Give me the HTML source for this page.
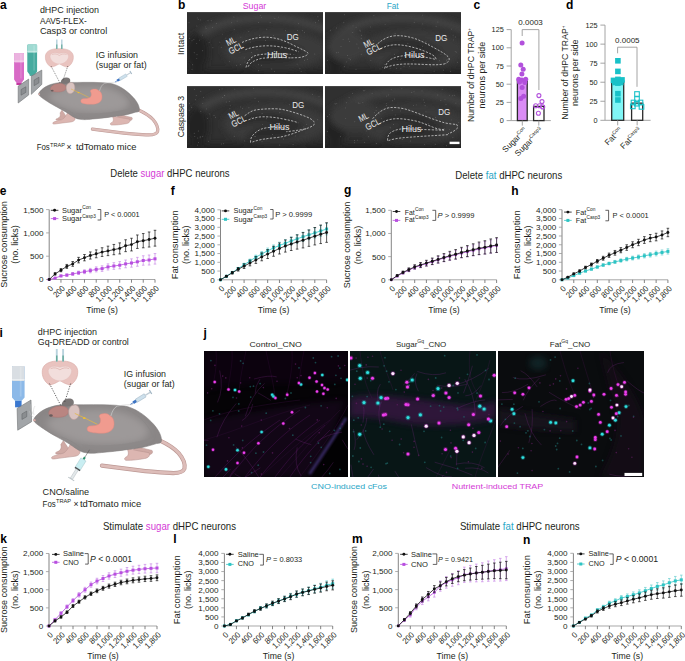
<!DOCTYPE html><html><head><meta charset="utf-8"><style>html,body{margin:0;padding:0;background:#fff;}svg text{font-family:"Liberation Sans", sans-serif;}</style></head><body><svg width="685" height="661" viewBox="0 0 685 661" style="display:block"><rect width="685" height="661" fill="#fff"/><text x="0.00" y="9.40" font-size="12" text-anchor="start" fill="#000" font-weight="bold">a</text>
<text x="178.00" y="8.70" font-size="12" text-anchor="start" fill="#000" font-weight="bold">b</text>
<text x="473.60" y="8.70" font-size="12" text-anchor="start" fill="#000" font-weight="bold">c</text>
<text x="566.00" y="9.00" font-size="12" text-anchor="start" fill="#000" font-weight="bold">d</text>
<text x="-0.20" y="194.60" font-size="12" text-anchor="start" fill="#000" font-weight="bold">e</text>
<text x="170.80" y="194.80" font-size="12" text-anchor="start" fill="#000" font-weight="bold">f</text>
<text x="344.00" y="194.40" font-size="12" text-anchor="start" fill="#000" font-weight="bold">g</text>
<text x="511.20" y="195.10" font-size="12" text-anchor="start" fill="#000" font-weight="bold">h</text>
<text x="-0.40" y="337.20" font-size="12" text-anchor="start" fill="#000" font-weight="bold">i</text>
<text x="203.60" y="337.20" font-size="12" text-anchor="start" fill="#000" font-weight="bold">j</text>
<text x="0.20" y="543.30" font-size="12" text-anchor="start" fill="#000" font-weight="bold">k</text>
<text x="173.30" y="543.30" font-size="12" text-anchor="start" fill="#000" font-weight="bold">l</text>
<text x="352.00" y="543.40" font-size="12" text-anchor="start" fill="#000" font-weight="bold">m</text>
<text x="523.00" y="543.60" font-size="12" text-anchor="start" fill="#000" font-weight="bold">n</text>
<text x="110.3" y="177.1" font-size="10.4" fill="#231f20" textLength="119.3" lengthAdjust="spacingAndGlyphs">Delete <tspan fill="#d43ad6">sugar</tspan> dHPC neurons</text>
<text x="455.3" y="179.4" font-size="10.4" fill="#231f20" textLength="106.9" lengthAdjust="spacingAndGlyphs">Delete <tspan fill="#2aa6c6">fat</tspan> dHPC neurons</text>
<text x="102.9" y="529.7" font-size="10.4" fill="#231f20" textLength="133.1" lengthAdjust="spacingAndGlyphs">Stimulate <tspan fill="#d43ad6">sugar</tspan> dHPC neurons</text>
<text x="459.9" y="529.7" font-size="10.4" fill="#231f20" textLength="119.8" lengthAdjust="spacingAndGlyphs">Stimulate <tspan fill="#2aa6c6">fat</tspan> dHPC neurons</text>
<path d="M49.20 279.50H155.00" fill="none" stroke="#a3a3a3" stroke-width="0.95"/>
<path d="M49.20 209.60V279.50" fill="none" stroke="#7d7d7d" stroke-width="0.95"/>
<path d="M46.10 279.50H49.20" stroke="#999" stroke-width="0.8"/>
<text x="43.40" y="282.40" font-size="8.1" text-anchor="end" fill="#231f20">0</text>
<path d="M46.10 256.20H49.20" stroke="#999" stroke-width="0.8"/>
<text x="43.40" y="259.10" font-size="8.1" text-anchor="end" fill="#231f20">500</text>
<path d="M46.10 232.90H49.20" stroke="#999" stroke-width="0.8"/>
<text x="43.40" y="235.80" font-size="8.1" text-anchor="end" fill="#231f20">1,000</text>
<path d="M46.10 209.60H49.20" stroke="#999" stroke-width="0.8"/>
<text x="43.40" y="212.50" font-size="8.1" text-anchor="end" fill="#231f20">1,500</text>
<text x="53.80" y="289.00" font-size="8.3" text-anchor="end" fill="#231f20" textLength="4.28" lengthAdjust="spacingAndGlyphs" transform="rotate(-45 53.80 289.00)">0</text>
<path d="M60.96 279.50V282.70" stroke="#666" stroke-width="0.8"/>
<text x="65.56" y="289.00" font-size="8.3" text-anchor="end" fill="#231f20" textLength="12.84" lengthAdjust="spacingAndGlyphs" transform="rotate(-45 65.56 289.00)">200</text>
<path d="M72.71 279.50V282.70" stroke="#666" stroke-width="0.8"/>
<text x="77.31" y="289.00" font-size="8.3" text-anchor="end" fill="#231f20" textLength="12.84" lengthAdjust="spacingAndGlyphs" transform="rotate(-45 77.31 289.00)">400</text>
<path d="M84.47 279.50V282.70" stroke="#666" stroke-width="0.8"/>
<text x="89.07" y="289.00" font-size="8.3" text-anchor="end" fill="#231f20" textLength="12.84" lengthAdjust="spacingAndGlyphs" transform="rotate(-45 89.07 289.00)">600</text>
<path d="M96.22 279.50V282.70" stroke="#666" stroke-width="0.8"/>
<text x="100.82" y="289.00" font-size="8.3" text-anchor="end" fill="#231f20" textLength="12.84" lengthAdjust="spacingAndGlyphs" transform="rotate(-45 100.82 289.00)">800</text>
<path d="M107.98 279.50V282.70" stroke="#666" stroke-width="0.8"/>
<text x="112.58" y="289.00" font-size="8.3" text-anchor="end" fill="#231f20" textLength="19.27" lengthAdjust="spacingAndGlyphs" transform="rotate(-45 112.58 289.00)">1,000</text>
<path d="M119.73 279.50V282.70" stroke="#666" stroke-width="0.8"/>
<text x="124.33" y="289.00" font-size="8.3" text-anchor="end" fill="#231f20" textLength="19.27" lengthAdjust="spacingAndGlyphs" transform="rotate(-45 124.33 289.00)">1,200</text>
<path d="M131.49 279.50V282.70" stroke="#666" stroke-width="0.8"/>
<text x="136.09" y="289.00" font-size="8.3" text-anchor="end" fill="#231f20" textLength="19.27" lengthAdjust="spacingAndGlyphs" transform="rotate(-45 136.09 289.00)">1,400</text>
<path d="M143.24 279.50V282.70" stroke="#666" stroke-width="0.8"/>
<text x="147.84" y="289.00" font-size="8.3" text-anchor="end" fill="#231f20" textLength="19.27" lengthAdjust="spacingAndGlyphs" transform="rotate(-45 147.84 289.00)">1,600</text>
<path d="M155.00 279.50V282.70" stroke="#666" stroke-width="0.8"/>
<text x="159.60" y="289.00" font-size="8.3" text-anchor="end" fill="#231f20" textLength="19.27" lengthAdjust="spacingAndGlyphs" transform="rotate(-45 159.60 289.00)">1,800</text>
<text x="102.10" y="312.70" font-size="8.6" text-anchor="middle" fill="#231f20" textLength="31.50" lengthAdjust="spacingAndGlyphs">Time (s)</text>
<text x="7.40" y="244.55" font-size="8.7" text-anchor="middle" fill="#231f20" textLength="86.60" lengthAdjust="spacingAndGlyphs" transform="rotate(-90 7.40 244.55)">Sucrose consumption</text>
<text x="17.60" y="244.55" font-size="8.7" text-anchor="middle" fill="#231f20" textLength="38.50" lengthAdjust="spacingAndGlyphs" transform="rotate(-90 17.60 244.55)">(no. licks)</text>
<path d="M55.08 277.54V278.66M53.78 277.54h2.6M53.78 278.66h2.6" stroke="#c98ae6" stroke-width="0.7" fill="none"/>
<path d="M60.96 275.08V276.75M59.66 275.08h2.6M59.66 276.75h2.6" stroke="#c98ae6" stroke-width="0.7" fill="none"/>
<path d="M66.83 274.01V276.23M65.53 274.01h2.6M65.53 276.23h2.6" stroke="#c98ae6" stroke-width="0.7" fill="none"/>
<path d="M72.71 272.52V275.30M71.41 272.52h2.6M71.41 275.30h2.6" stroke="#c98ae6" stroke-width="0.7" fill="none"/>
<path d="M78.59 271.12V274.46M77.29 271.12h2.6M77.29 274.46h2.6" stroke="#c98ae6" stroke-width="0.7" fill="none"/>
<path d="M84.47 269.77V273.66M83.17 269.77h2.6M83.17 273.66h2.6" stroke="#c98ae6" stroke-width="0.7" fill="none"/>
<path d="M90.34 268.38V272.82M89.04 268.38h2.6M89.04 272.82h2.6" stroke="#c98ae6" stroke-width="0.7" fill="none"/>
<path d="M96.22 266.89V271.89M94.92 266.89h2.6M94.92 271.89h2.6" stroke="#c98ae6" stroke-width="0.7" fill="none"/>
<path d="M102.10 265.82V271.37M100.80 265.82h2.6M100.80 271.37h2.6" stroke="#c98ae6" stroke-width="0.7" fill="none"/>
<path d="M107.98 263.87V269.97M106.68 263.87h2.6M106.68 269.97h2.6" stroke="#c98ae6" stroke-width="0.7" fill="none"/>
<path d="M113.86 262.66V269.31M112.56 262.66h2.6M112.56 269.31h2.6" stroke="#c98ae6" stroke-width="0.7" fill="none"/>
<path d="M119.73 261.59V268.80M118.43 261.59h2.6M118.43 268.80h2.6" stroke="#c98ae6" stroke-width="0.7" fill="none"/>
<path d="M125.61 260.01V267.77M124.31 260.01h2.6M124.31 267.77h2.6" stroke="#c98ae6" stroke-width="0.7" fill="none"/>
<path d="M131.49 258.85V267.16M130.19 258.85h2.6M130.19 267.16h2.6" stroke="#c98ae6" stroke-width="0.7" fill="none"/>
<path d="M137.37 257.36V266.23M136.07 257.36h2.6M136.07 266.23h2.6" stroke="#c98ae6" stroke-width="0.7" fill="none"/>
<path d="M143.24 255.78V265.20M141.94 255.78h2.6M141.94 265.20h2.6" stroke="#c98ae6" stroke-width="0.7" fill="none"/>
<path d="M149.12 255.03V265.01M147.82 255.03h2.6M147.82 265.01h2.6" stroke="#c98ae6" stroke-width="0.7" fill="none"/>
<path d="M155.00 253.54V264.08M153.70 253.54h2.6M153.70 264.08h2.6" stroke="#c98ae6" stroke-width="0.7" fill="none"/>
<path d="M49.20 279.50 L55.08 278.10 L60.96 275.91 L66.83 275.12 L72.71 273.91 L78.59 272.79 L84.47 271.72 L90.34 270.60 L96.22 269.39 L102.10 268.60 L107.98 266.92 L113.86 265.99 L119.73 265.19 L125.61 263.89 L131.49 263.00 L137.37 261.79 L143.24 260.49 L149.12 260.02 L155.00 258.81" fill="none" stroke="#b84fe0" stroke-width="0.8"/>
<rect x="47.70" y="278.00" width="3.00" height="3.00" fill="#b84fe0"/>
<rect x="53.58" y="276.60" width="3.00" height="3.00" fill="#b84fe0"/>
<rect x="59.46" y="274.41" width="3.00" height="3.00" fill="#b84fe0"/>
<rect x="65.33" y="273.62" width="3.00" height="3.00" fill="#b84fe0"/>
<rect x="71.21" y="272.41" width="3.00" height="3.00" fill="#b84fe0"/>
<rect x="77.09" y="271.29" width="3.00" height="3.00" fill="#b84fe0"/>
<rect x="82.97" y="270.22" width="3.00" height="3.00" fill="#b84fe0"/>
<rect x="88.84" y="269.10" width="3.00" height="3.00" fill="#b84fe0"/>
<rect x="94.72" y="267.89" width="3.00" height="3.00" fill="#b84fe0"/>
<rect x="100.60" y="267.10" width="3.00" height="3.00" fill="#b84fe0"/>
<rect x="106.48" y="265.42" width="3.00" height="3.00" fill="#b84fe0"/>
<rect x="112.36" y="264.49" width="3.00" height="3.00" fill="#b84fe0"/>
<rect x="118.23" y="263.69" width="3.00" height="3.00" fill="#b84fe0"/>
<rect x="124.11" y="262.39" width="3.00" height="3.00" fill="#b84fe0"/>
<rect x="129.99" y="261.50" width="3.00" height="3.00" fill="#b84fe0"/>
<rect x="135.87" y="260.29" width="3.00" height="3.00" fill="#b84fe0"/>
<rect x="141.74" y="258.99" width="3.00" height="3.00" fill="#b84fe0"/>
<rect x="147.62" y="258.52" width="3.00" height="3.00" fill="#b84fe0"/>
<rect x="153.50" y="257.31" width="3.00" height="3.00" fill="#b84fe0"/>
<path d="M55.08 272.74V275.07M53.78 272.74h2.6M53.78 275.07h2.6" stroke="#111" stroke-width="0.7" fill="none"/>
<path d="M60.96 268.62V271.74M59.66 268.62h2.6M59.66 271.74h2.6" stroke="#111" stroke-width="0.7" fill="none"/>
<path d="M66.83 264.45V268.37M65.53 264.45h2.6M65.53 268.37h2.6" stroke="#111" stroke-width="0.7" fill="none"/>
<path d="M72.71 261.53V266.25M71.41 261.53h2.6M71.41 266.25h2.6" stroke="#111" stroke-width="0.7" fill="none"/>
<path d="M78.59 257.36V262.87M77.29 257.36h2.6M77.29 262.87h2.6" stroke="#111" stroke-width="0.7" fill="none"/>
<path d="M84.47 254.54V260.84M83.17 254.54h2.6M83.17 260.84h2.6" stroke="#111" stroke-width="0.7" fill="none"/>
<path d="M90.34 251.95V259.05M89.04 251.95h2.6M89.04 259.05h2.6" stroke="#111" stroke-width="0.7" fill="none"/>
<path d="M96.22 249.88V257.77M94.92 249.88h2.6M94.92 257.77h2.6" stroke="#111" stroke-width="0.7" fill="none"/>
<path d="M102.10 247.75V256.44M100.80 247.75h2.6M100.80 256.44h2.6" stroke="#111" stroke-width="0.7" fill="none"/>
<path d="M107.98 246.15V255.63M106.68 246.15h2.6M106.68 255.63h2.6" stroke="#111" stroke-width="0.7" fill="none"/>
<path d="M113.86 244.44V254.72M112.56 244.44h2.6M112.56 254.72h2.6" stroke="#111" stroke-width="0.7" fill="none"/>
<path d="M119.73 242.88V253.95M118.43 242.88h2.6M118.43 253.95h2.6" stroke="#111" stroke-width="0.7" fill="none"/>
<path d="M125.61 239.78V251.65M124.31 239.78h2.6M124.31 251.65h2.6" stroke="#111" stroke-width="0.7" fill="none"/>
<path d="M131.49 238.26V250.93M130.19 238.26h2.6M130.19 250.93h2.6" stroke="#111" stroke-width="0.7" fill="none"/>
<path d="M137.37 234.98V248.44M136.07 234.98h2.6M136.07 248.44h2.6" stroke="#111" stroke-width="0.7" fill="none"/>
<path d="M143.24 233.56V247.81M141.94 233.56h2.6M141.94 247.81h2.6" stroke="#111" stroke-width="0.7" fill="none"/>
<path d="M149.12 231.99V247.04M147.82 231.99h2.6M147.82 247.04h2.6" stroke="#111" stroke-width="0.7" fill="none"/>
<path d="M155.00 230.29V246.13M153.70 230.29h2.6M153.70 246.13h2.6" stroke="#111" stroke-width="0.7" fill="none"/>
<path d="M49.20 279.50 L55.08 273.91 L60.96 270.18 L66.83 266.41 L72.71 263.89 L78.59 260.11 L84.47 257.69 L90.34 255.50 L96.22 253.82 L102.10 252.10 L107.98 250.89 L113.86 249.58 L119.73 248.42 L125.61 245.72 L131.49 244.60 L137.37 241.71 L143.24 240.68 L149.12 239.52 L155.00 238.21" fill="none" stroke="#111" stroke-width="0.8"/>
<circle cx="49.20" cy="279.50" r="1.45" fill="#111"/>
<circle cx="55.08" cy="273.91" r="1.45" fill="#111"/>
<circle cx="60.96" cy="270.18" r="1.45" fill="#111"/>
<circle cx="66.83" cy="266.41" r="1.45" fill="#111"/>
<circle cx="72.71" cy="263.89" r="1.45" fill="#111"/>
<circle cx="78.59" cy="260.11" r="1.45" fill="#111"/>
<circle cx="84.47" cy="257.69" r="1.45" fill="#111"/>
<circle cx="90.34" cy="255.50" r="1.45" fill="#111"/>
<circle cx="96.22" cy="253.82" r="1.45" fill="#111"/>
<circle cx="102.10" cy="252.10" r="1.45" fill="#111"/>
<circle cx="107.98" cy="250.89" r="1.45" fill="#111"/>
<circle cx="113.86" cy="249.58" r="1.45" fill="#111"/>
<circle cx="119.73" cy="248.42" r="1.45" fill="#111"/>
<circle cx="125.61" cy="245.72" r="1.45" fill="#111"/>
<circle cx="131.49" cy="244.60" r="1.45" fill="#111"/>
<circle cx="137.37" cy="241.71" r="1.45" fill="#111"/>
<circle cx="143.24" cy="240.68" r="1.45" fill="#111"/>
<circle cx="149.12" cy="239.52" r="1.45" fill="#111"/>
<circle cx="155.00" cy="238.21" r="1.45" fill="#111"/>
<path d="M50.80 210.30h7.6" stroke="#111" stroke-width="0.8"/>
<circle cx="54.60" cy="210.30" r="1.45" fill="#111"/>
<text x="61.90" y="212.80" font-size="7.6" text-anchor="start" fill="#231f20" textLength="20.00" lengthAdjust="spacingAndGlyphs">Sugar</text>
<text x="82.20" y="209.20" font-size="5.0" text-anchor="start" fill="#231f20" textLength="8.80" lengthAdjust="spacingAndGlyphs">Con</text>
<path d="M50.80 218.60h7.6" stroke="#b84fe0" stroke-width="0.8"/>
<rect x="53.10" y="217.10" width="3" height="3" fill="#b84fe0"/>
<text x="61.90" y="221.20" font-size="7.6" text-anchor="start" fill="#231f20" textLength="20.00" lengthAdjust="spacingAndGlyphs">Sugar</text>
<text x="82.20" y="217.60" font-size="5.0" text-anchor="start" fill="#231f20" textLength="13.60" lengthAdjust="spacingAndGlyphs">Casp3</text>
<path d="M97.60 209.50H100.80V220.00H97.60" fill="none" stroke="#231f20" stroke-width="0.7"/>
<text x="104.20" y="216.80" font-size="7.6" text-anchor="start" fill="#231f20" textLength="35.50" lengthAdjust="spacingAndGlyphs">P &lt; 0.0001</text>
<path d="M220.50 279.80H326.60" fill="none" stroke="#a3a3a3" stroke-width="0.95"/>
<path d="M220.50 209.80V279.80" fill="none" stroke="#7d7d7d" stroke-width="0.95"/>
<path d="M217.40 279.80H220.50" stroke="#999" stroke-width="0.8"/>
<text x="214.70" y="282.70" font-size="8.1" text-anchor="end" fill="#231f20">0</text>
<path d="M217.40 271.05H220.50" stroke="#999" stroke-width="0.8"/>
<text x="214.70" y="273.95" font-size="8.1" text-anchor="end" fill="#231f20">500</text>
<path d="M217.40 262.30H220.50" stroke="#999" stroke-width="0.8"/>
<text x="214.70" y="265.20" font-size="8.1" text-anchor="end" fill="#231f20">1,000</text>
<path d="M217.40 253.55H220.50" stroke="#999" stroke-width="0.8"/>
<text x="214.70" y="256.45" font-size="8.1" text-anchor="end" fill="#231f20">1,500</text>
<path d="M217.40 244.80H220.50" stroke="#999" stroke-width="0.8"/>
<text x="214.70" y="247.70" font-size="8.1" text-anchor="end" fill="#231f20">2,000</text>
<path d="M217.40 236.05H220.50" stroke="#999" stroke-width="0.8"/>
<text x="214.70" y="238.95" font-size="8.1" text-anchor="end" fill="#231f20">2,500</text>
<path d="M217.40 227.30H220.50" stroke="#999" stroke-width="0.8"/>
<text x="214.70" y="230.20" font-size="8.1" text-anchor="end" fill="#231f20">3,000</text>
<path d="M217.40 218.55H220.50" stroke="#999" stroke-width="0.8"/>
<text x="214.70" y="221.45" font-size="8.1" text-anchor="end" fill="#231f20">3,500</text>
<path d="M217.40 209.80H220.50" stroke="#999" stroke-width="0.8"/>
<text x="214.70" y="212.70" font-size="8.1" text-anchor="end" fill="#231f20">4,000</text>
<text x="225.10" y="289.30" font-size="8.3" text-anchor="end" fill="#231f20" textLength="4.28" lengthAdjust="spacingAndGlyphs" transform="rotate(-45 225.10 289.30)">0</text>
<path d="M232.29 279.80V283.00" stroke="#666" stroke-width="0.8"/>
<text x="236.89" y="289.30" font-size="8.3" text-anchor="end" fill="#231f20" textLength="12.84" lengthAdjust="spacingAndGlyphs" transform="rotate(-45 236.89 289.30)">200</text>
<path d="M244.08 279.80V283.00" stroke="#666" stroke-width="0.8"/>
<text x="248.68" y="289.30" font-size="8.3" text-anchor="end" fill="#231f20" textLength="12.84" lengthAdjust="spacingAndGlyphs" transform="rotate(-45 248.68 289.30)">400</text>
<path d="M255.87 279.80V283.00" stroke="#666" stroke-width="0.8"/>
<text x="260.47" y="289.30" font-size="8.3" text-anchor="end" fill="#231f20" textLength="12.84" lengthAdjust="spacingAndGlyphs" transform="rotate(-45 260.47 289.30)">600</text>
<path d="M267.66 279.80V283.00" stroke="#666" stroke-width="0.8"/>
<text x="272.26" y="289.30" font-size="8.3" text-anchor="end" fill="#231f20" textLength="12.84" lengthAdjust="spacingAndGlyphs" transform="rotate(-45 272.26 289.30)">800</text>
<path d="M279.44 279.80V283.00" stroke="#666" stroke-width="0.8"/>
<text x="284.04" y="289.30" font-size="8.3" text-anchor="end" fill="#231f20" textLength="19.27" lengthAdjust="spacingAndGlyphs" transform="rotate(-45 284.04 289.30)">1,000</text>
<path d="M291.23 279.80V283.00" stroke="#666" stroke-width="0.8"/>
<text x="295.83" y="289.30" font-size="8.3" text-anchor="end" fill="#231f20" textLength="19.27" lengthAdjust="spacingAndGlyphs" transform="rotate(-45 295.83 289.30)">1,200</text>
<path d="M303.02 279.80V283.00" stroke="#666" stroke-width="0.8"/>
<text x="307.62" y="289.30" font-size="8.3" text-anchor="end" fill="#231f20" textLength="19.27" lengthAdjust="spacingAndGlyphs" transform="rotate(-45 307.62 289.30)">1,400</text>
<path d="M314.81 279.80V283.00" stroke="#666" stroke-width="0.8"/>
<text x="319.41" y="289.30" font-size="8.3" text-anchor="end" fill="#231f20" textLength="19.27" lengthAdjust="spacingAndGlyphs" transform="rotate(-45 319.41 289.30)">1,600</text>
<path d="M326.60 279.80V283.00" stroke="#666" stroke-width="0.8"/>
<text x="331.20" y="289.30" font-size="8.3" text-anchor="end" fill="#231f20" textLength="19.27" lengthAdjust="spacingAndGlyphs" transform="rotate(-45 331.20 289.30)">1,800</text>
<text x="273.55" y="313.00" font-size="8.6" text-anchor="middle" fill="#231f20" textLength="31.50" lengthAdjust="spacingAndGlyphs">Time (s)</text>
<text x="178.30" y="244.80" font-size="8.7" text-anchor="middle" fill="#231f20" textLength="69.00" lengthAdjust="spacingAndGlyphs" transform="rotate(-90 178.30 244.80)">Fat consumption</text>
<text x="188.60" y="244.80" font-size="8.7" text-anchor="middle" fill="#231f20" textLength="38.50" lengthAdjust="spacingAndGlyphs" transform="rotate(-90 188.60 244.80)">(no. licks)</text>
<path d="M226.39 275.78V276.82M225.09 275.78h2.6M225.09 276.82h2.6" stroke="#6ccfd0" stroke-width="0.7" fill="none"/>
<path d="M232.29 271.62V273.28M230.99 271.62h2.6M230.99 273.28h2.6" stroke="#6ccfd0" stroke-width="0.7" fill="none"/>
<path d="M238.18 267.46V269.74M236.88 267.46h2.6M236.88 269.74h2.6" stroke="#6ccfd0" stroke-width="0.7" fill="none"/>
<path d="M244.08 263.30V266.20M242.78 263.30h2.6M242.78 266.20h2.6" stroke="#6ccfd0" stroke-width="0.7" fill="none"/>
<path d="M249.97 259.14V262.66M248.67 259.14h2.6M248.67 262.66h2.6" stroke="#6ccfd0" stroke-width="0.7" fill="none"/>
<path d="M255.87 255.16V259.29M254.57 255.16h2.6M254.57 259.29h2.6" stroke="#6ccfd0" stroke-width="0.7" fill="none"/>
<path d="M261.76 251.52V256.28M260.46 251.52h2.6M260.46 256.28h2.6" stroke="#6ccfd0" stroke-width="0.7" fill="none"/>
<path d="M267.66 248.06V253.44M266.36 248.06h2.6M266.36 253.44h2.6" stroke="#6ccfd0" stroke-width="0.7" fill="none"/>
<path d="M273.55 244.95V250.95M272.25 244.95h2.6M272.25 250.95h2.6" stroke="#6ccfd0" stroke-width="0.7" fill="none"/>
<path d="M279.44 242.20V248.80M278.14 242.20h2.6M278.14 248.80h2.6" stroke="#6ccfd0" stroke-width="0.7" fill="none"/>
<path d="M285.34 239.61V246.84M284.04 239.61h2.6M284.04 246.84h2.6" stroke="#6ccfd0" stroke-width="0.7" fill="none"/>
<path d="M291.23 237.03V244.87M289.93 237.03h2.6M289.93 244.87h2.6" stroke="#6ccfd0" stroke-width="0.7" fill="none"/>
<path d="M297.13 234.62V243.08M295.83 234.62h2.6M295.83 243.08h2.6" stroke="#6ccfd0" stroke-width="0.7" fill="none"/>
<path d="M303.02 232.21V241.29M301.72 232.21h2.6M301.72 241.29h2.6" stroke="#6ccfd0" stroke-width="0.7" fill="none"/>
<path d="M308.92 229.98V239.67M307.62 229.98h2.6M307.62 239.67h2.6" stroke="#6ccfd0" stroke-width="0.7" fill="none"/>
<path d="M314.81 227.74V238.06M313.51 227.74h2.6M313.51 238.06h2.6" stroke="#6ccfd0" stroke-width="0.7" fill="none"/>
<path d="M320.71 225.51V236.44M319.41 225.51h2.6M319.41 236.44h2.6" stroke="#6ccfd0" stroke-width="0.7" fill="none"/>
<path d="M326.60 223.28V234.83M325.30 223.28h2.6M325.30 234.83h2.6" stroke="#6ccfd0" stroke-width="0.7" fill="none"/>
<path d="M220.50 279.80 L226.39 276.30 L232.29 272.45 L238.18 268.60 L244.08 264.75 L249.97 260.90 L255.87 257.23 L261.76 253.90 L267.66 250.75 L273.55 247.95 L279.44 245.50 L285.34 243.23 L291.23 240.95 L297.13 238.85 L303.02 236.75 L308.92 234.83 L314.81 232.90 L320.71 230.98 L326.60 229.05" fill="none" stroke="#2ec4c4" stroke-width="0.8"/>
<rect x="219.00" y="278.30" width="3.00" height="3.00" fill="#2ec4c4"/>
<rect x="224.89" y="274.80" width="3.00" height="3.00" fill="#2ec4c4"/>
<rect x="230.79" y="270.95" width="3.00" height="3.00" fill="#2ec4c4"/>
<rect x="236.68" y="267.10" width="3.00" height="3.00" fill="#2ec4c4"/>
<rect x="242.58" y="263.25" width="3.00" height="3.00" fill="#2ec4c4"/>
<rect x="248.47" y="259.40" width="3.00" height="3.00" fill="#2ec4c4"/>
<rect x="254.37" y="255.73" width="3.00" height="3.00" fill="#2ec4c4"/>
<rect x="260.26" y="252.40" width="3.00" height="3.00" fill="#2ec4c4"/>
<rect x="266.16" y="249.25" width="3.00" height="3.00" fill="#2ec4c4"/>
<rect x="272.05" y="246.45" width="3.00" height="3.00" fill="#2ec4c4"/>
<rect x="277.94" y="244.00" width="3.00" height="3.00" fill="#2ec4c4"/>
<rect x="283.84" y="241.73" width="3.00" height="3.00" fill="#2ec4c4"/>
<rect x="289.73" y="239.45" width="3.00" height="3.00" fill="#2ec4c4"/>
<rect x="295.63" y="237.35" width="3.00" height="3.00" fill="#2ec4c4"/>
<rect x="301.52" y="235.25" width="3.00" height="3.00" fill="#2ec4c4"/>
<rect x="307.42" y="233.33" width="3.00" height="3.00" fill="#2ec4c4"/>
<rect x="313.31" y="231.40" width="3.00" height="3.00" fill="#2ec4c4"/>
<rect x="319.21" y="229.48" width="3.00" height="3.00" fill="#2ec4c4"/>
<rect x="325.10" y="227.55" width="3.00" height="3.00" fill="#2ec4c4"/>
<path d="M226.39 275.60V277.00M225.09 275.60h2.6M225.09 277.00h2.6" stroke="#111" stroke-width="0.7" fill="none"/>
<path d="M232.29 271.56V274.04M230.99 271.56h2.6M230.99 274.04h2.6" stroke="#111" stroke-width="0.7" fill="none"/>
<path d="M238.18 267.53V271.07M236.88 267.53h2.6M236.88 271.07h2.6" stroke="#111" stroke-width="0.7" fill="none"/>
<path d="M244.08 263.84V268.46M242.78 263.84h2.6M242.78 268.46h2.6" stroke="#111" stroke-width="0.7" fill="none"/>
<path d="M249.97 260.16V265.84M248.67 260.16h2.6M248.67 265.84h2.6" stroke="#111" stroke-width="0.7" fill="none"/>
<path d="M255.87 256.65V263.40M254.57 256.65h2.6M254.57 263.40h2.6" stroke="#111" stroke-width="0.7" fill="none"/>
<path d="M261.76 252.96V260.79M260.46 252.96h2.6M260.46 260.79h2.6" stroke="#111" stroke-width="0.7" fill="none"/>
<path d="M267.66 249.63V258.52M266.36 249.63h2.6M266.36 258.52h2.6" stroke="#111" stroke-width="0.7" fill="none"/>
<path d="M273.55 246.29V256.26M272.25 246.29h2.6M272.25 256.26h2.6" stroke="#111" stroke-width="0.7" fill="none"/>
<path d="M279.44 242.96V253.99M278.14 242.96h2.6M278.14 253.99h2.6" stroke="#111" stroke-width="0.7" fill="none"/>
<path d="M285.34 239.97V252.08M284.04 239.97h2.6M284.04 252.08h2.6" stroke="#111" stroke-width="0.7" fill="none"/>
<path d="M291.23 237.34V250.51M289.93 237.34h2.6M289.93 250.51h2.6" stroke="#111" stroke-width="0.7" fill="none"/>
<path d="M297.13 234.88V249.12M295.83 234.88h2.6M295.83 249.12h2.6" stroke="#111" stroke-width="0.7" fill="none"/>
<path d="M303.02 232.59V247.91M301.72 232.59h2.6M301.72 247.91h2.6" stroke="#111" stroke-width="0.7" fill="none"/>
<path d="M308.92 229.96V246.34M307.62 229.96h2.6M307.62 246.34h2.6" stroke="#111" stroke-width="0.7" fill="none"/>
<path d="M314.81 227.50V244.95M313.51 227.50h2.6M313.51 244.95h2.6" stroke="#111" stroke-width="0.7" fill="none"/>
<path d="M320.71 225.04V243.56M319.41 225.04h2.6M319.41 243.56h2.6" stroke="#111" stroke-width="0.7" fill="none"/>
<path d="M326.60 222.75V242.35M325.30 222.75h2.6M325.30 242.35h2.6" stroke="#111" stroke-width="0.7" fill="none"/>
<path d="M220.50 279.80 L226.39 276.30 L232.29 272.80 L238.18 269.30 L244.08 266.15 L249.97 263.00 L255.87 260.03 L261.76 256.88 L267.66 254.08 L273.55 251.28 L279.44 248.48 L285.34 246.03 L291.23 243.93 L297.13 242.00 L303.02 240.25 L308.92 238.15 L314.81 236.23 L320.71 234.30 L326.60 232.55" fill="none" stroke="#111" stroke-width="0.8"/>
<circle cx="220.50" cy="279.80" r="1.45" fill="#111"/>
<circle cx="226.39" cy="276.30" r="1.45" fill="#111"/>
<circle cx="232.29" cy="272.80" r="1.45" fill="#111"/>
<circle cx="238.18" cy="269.30" r="1.45" fill="#111"/>
<circle cx="244.08" cy="266.15" r="1.45" fill="#111"/>
<circle cx="249.97" cy="263.00" r="1.45" fill="#111"/>
<circle cx="255.87" cy="260.03" r="1.45" fill="#111"/>
<circle cx="261.76" cy="256.88" r="1.45" fill="#111"/>
<circle cx="267.66" cy="254.08" r="1.45" fill="#111"/>
<circle cx="273.55" cy="251.28" r="1.45" fill="#111"/>
<circle cx="279.44" cy="248.48" r="1.45" fill="#111"/>
<circle cx="285.34" cy="246.03" r="1.45" fill="#111"/>
<circle cx="291.23" cy="243.93" r="1.45" fill="#111"/>
<circle cx="297.13" cy="242.00" r="1.45" fill="#111"/>
<circle cx="303.02" cy="240.25" r="1.45" fill="#111"/>
<circle cx="308.92" cy="238.15" r="1.45" fill="#111"/>
<circle cx="314.81" cy="236.23" r="1.45" fill="#111"/>
<circle cx="320.71" cy="234.30" r="1.45" fill="#111"/>
<circle cx="326.60" cy="232.55" r="1.45" fill="#111"/>
<path d="M221.70 210.90h7.6" stroke="#111" stroke-width="0.8"/>
<circle cx="225.50" cy="210.90" r="1.45" fill="#111"/>
<text x="233.60" y="213.40" font-size="7.6" text-anchor="start" fill="#231f20" textLength="19.70" lengthAdjust="spacingAndGlyphs">Sugar</text>
<text x="253.60" y="209.80" font-size="5.0" text-anchor="start" fill="#231f20" textLength="8.80" lengthAdjust="spacingAndGlyphs">Con</text>
<path d="M221.70 219.30h7.6" stroke="#2ec4c4" stroke-width="0.8"/>
<rect x="224.00" y="217.80" width="3" height="3" fill="#2ec4c4"/>
<text x="233.60" y="221.80" font-size="7.6" text-anchor="start" fill="#231f20" textLength="19.70" lengthAdjust="spacingAndGlyphs">Sugar</text>
<text x="253.60" y="218.20" font-size="5.0" text-anchor="start" fill="#231f20" textLength="13.60" lengthAdjust="spacingAndGlyphs">Casp3</text>
<path d="M270.20 209.50H273.10V219.00H270.20" fill="none" stroke="#231f20" stroke-width="0.7"/>
<text x="275.20" y="216.80" font-size="7.6" text-anchor="start" fill="#231f20" textLength="37.00" lengthAdjust="spacingAndGlyphs">P &gt; 0.9999</text>
<path d="M391.30 279.80H496.60" fill="none" stroke="#a3a3a3" stroke-width="0.95"/>
<path d="M391.30 210.30V279.80" fill="none" stroke="#7d7d7d" stroke-width="0.95"/>
<path d="M388.20 279.80H391.30" stroke="#999" stroke-width="0.8"/>
<text x="385.50" y="282.70" font-size="8.1" text-anchor="end" fill="#231f20">0</text>
<path d="M388.20 256.63H391.30" stroke="#999" stroke-width="0.8"/>
<text x="385.50" y="259.53" font-size="8.1" text-anchor="end" fill="#231f20">500</text>
<path d="M388.20 233.47H391.30" stroke="#999" stroke-width="0.8"/>
<text x="385.50" y="236.37" font-size="8.1" text-anchor="end" fill="#231f20">1,000</text>
<path d="M388.20 210.30H391.30" stroke="#999" stroke-width="0.8"/>
<text x="385.50" y="213.20" font-size="8.1" text-anchor="end" fill="#231f20">1,500</text>
<text x="395.90" y="289.30" font-size="8.3" text-anchor="end" fill="#231f20" textLength="4.28" lengthAdjust="spacingAndGlyphs" transform="rotate(-45 395.90 289.30)">0</text>
<path d="M403.00 279.80V283.00" stroke="#666" stroke-width="0.8"/>
<text x="407.60" y="289.30" font-size="8.3" text-anchor="end" fill="#231f20" textLength="12.84" lengthAdjust="spacingAndGlyphs" transform="rotate(-45 407.60 289.30)">200</text>
<path d="M414.70 279.80V283.00" stroke="#666" stroke-width="0.8"/>
<text x="419.30" y="289.30" font-size="8.3" text-anchor="end" fill="#231f20" textLength="12.84" lengthAdjust="spacingAndGlyphs" transform="rotate(-45 419.30 289.30)">400</text>
<path d="M426.40 279.80V283.00" stroke="#666" stroke-width="0.8"/>
<text x="431.00" y="289.30" font-size="8.3" text-anchor="end" fill="#231f20" textLength="12.84" lengthAdjust="spacingAndGlyphs" transform="rotate(-45 431.00 289.30)">600</text>
<path d="M438.10 279.80V283.00" stroke="#666" stroke-width="0.8"/>
<text x="442.70" y="289.30" font-size="8.3" text-anchor="end" fill="#231f20" textLength="12.84" lengthAdjust="spacingAndGlyphs" transform="rotate(-45 442.70 289.30)">800</text>
<path d="M449.80 279.80V283.00" stroke="#666" stroke-width="0.8"/>
<text x="454.40" y="289.30" font-size="8.3" text-anchor="end" fill="#231f20" textLength="19.27" lengthAdjust="spacingAndGlyphs" transform="rotate(-45 454.40 289.30)">1,000</text>
<path d="M461.50 279.80V283.00" stroke="#666" stroke-width="0.8"/>
<text x="466.10" y="289.30" font-size="8.3" text-anchor="end" fill="#231f20" textLength="19.27" lengthAdjust="spacingAndGlyphs" transform="rotate(-45 466.10 289.30)">1,200</text>
<path d="M473.20 279.80V283.00" stroke="#666" stroke-width="0.8"/>
<text x="477.80" y="289.30" font-size="8.3" text-anchor="end" fill="#231f20" textLength="19.27" lengthAdjust="spacingAndGlyphs" transform="rotate(-45 477.80 289.30)">1,400</text>
<path d="M484.90 279.80V283.00" stroke="#666" stroke-width="0.8"/>
<text x="489.50" y="289.30" font-size="8.3" text-anchor="end" fill="#231f20" textLength="19.27" lengthAdjust="spacingAndGlyphs" transform="rotate(-45 489.50 289.30)">1,600</text>
<path d="M496.60 279.80V283.00" stroke="#666" stroke-width="0.8"/>
<text x="501.20" y="289.30" font-size="8.3" text-anchor="end" fill="#231f20" textLength="19.27" lengthAdjust="spacingAndGlyphs" transform="rotate(-45 501.20 289.30)">1,800</text>
<text x="443.95" y="313.00" font-size="8.6" text-anchor="middle" fill="#231f20" textLength="31.50" lengthAdjust="spacingAndGlyphs">Time (s)</text>
<text x="350.20" y="245.05" font-size="8.7" text-anchor="middle" fill="#231f20" textLength="86.60" lengthAdjust="spacingAndGlyphs" transform="rotate(-90 350.20 245.05)">Sucrose consumption</text>
<text x="361.00" y="245.05" font-size="8.7" text-anchor="middle" fill="#231f20" textLength="38.50" lengthAdjust="spacingAndGlyphs" transform="rotate(-90 361.00 245.05)">(no. licks)</text>
<path d="M397.15 275.17V277.02M395.85 275.17h2.6M395.85 277.02h2.6" stroke="#c98ae6" stroke-width="0.7" fill="none"/>
<path d="M403.00 271.57V274.13M401.70 271.57h2.6M401.70 274.13h2.6" stroke="#c98ae6" stroke-width="0.7" fill="none"/>
<path d="M408.85 268.43V271.71M407.55 268.43h2.6M407.55 271.71h2.6" stroke="#c98ae6" stroke-width="0.7" fill="none"/>
<path d="M414.70 265.53V269.51M413.40 265.53h2.6M413.40 269.51h2.6" stroke="#c98ae6" stroke-width="0.7" fill="none"/>
<path d="M420.55 263.09V267.78M419.25 263.09h2.6M419.25 267.78h2.6" stroke="#c98ae6" stroke-width="0.7" fill="none"/>
<path d="M426.40 260.89V266.28M425.10 260.89h2.6M425.10 266.28h2.6" stroke="#c98ae6" stroke-width="0.7" fill="none"/>
<path d="M432.25 258.68V264.78M430.95 258.68h2.6M430.95 264.78h2.6" stroke="#c98ae6" stroke-width="0.7" fill="none"/>
<path d="M438.10 256.47V263.28M436.80 256.47h2.6M436.80 263.28h2.6" stroke="#c98ae6" stroke-width="0.7" fill="none"/>
<path d="M443.95 254.26V261.78M442.65 254.26h2.6M442.65 261.78h2.6" stroke="#c98ae6" stroke-width="0.7" fill="none"/>
<path d="M449.80 252.29V260.52M448.50 252.29h2.6M448.50 260.52h2.6" stroke="#c98ae6" stroke-width="0.7" fill="none"/>
<path d="M455.65 250.31V259.25M454.35 250.31h2.6M454.35 259.25h2.6" stroke="#c98ae6" stroke-width="0.7" fill="none"/>
<path d="M461.50 248.33V257.98M460.20 248.33h2.6M460.20 257.98h2.6" stroke="#c98ae6" stroke-width="0.7" fill="none"/>
<path d="M467.35 246.59V256.95M466.05 246.59h2.6M466.05 256.95h2.6" stroke="#c98ae6" stroke-width="0.7" fill="none"/>
<path d="M473.20 244.85V255.91M471.90 244.85h2.6M471.90 255.91h2.6" stroke="#c98ae6" stroke-width="0.7" fill="none"/>
<path d="M479.05 243.10V254.88M477.75 243.10h2.6M477.75 254.88h2.6" stroke="#c98ae6" stroke-width="0.7" fill="none"/>
<path d="M484.90 241.59V254.07M483.60 241.59h2.6M483.60 254.07h2.6" stroke="#c98ae6" stroke-width="0.7" fill="none"/>
<path d="M490.75 240.08V253.27M489.45 240.08h2.6M489.45 253.27h2.6" stroke="#c98ae6" stroke-width="0.7" fill="none"/>
<path d="M496.60 238.56V252.46M495.30 238.56h2.6M495.30 252.46h2.6" stroke="#c98ae6" stroke-width="0.7" fill="none"/>
<path d="M391.30 279.80 L397.15 276.09 L403.00 272.85 L408.85 270.07 L414.70 267.52 L420.55 265.44 L426.40 263.58 L432.25 261.73 L438.10 259.88 L443.95 258.02 L449.80 256.40 L455.65 254.78 L461.50 253.16 L467.35 251.77 L473.20 250.38 L479.05 248.99 L484.90 247.83 L490.75 246.67 L496.60 245.51" fill="none" stroke="#b84fe0" stroke-width="0.8"/>
<rect x="390.00" y="278.50" width="2.60" height="2.60" fill="#b84fe0"/>
<rect x="395.85" y="274.79" width="2.60" height="2.60" fill="#b84fe0"/>
<rect x="401.70" y="271.55" width="2.60" height="2.60" fill="#b84fe0"/>
<rect x="407.55" y="268.77" width="2.60" height="2.60" fill="#b84fe0"/>
<rect x="413.40" y="266.22" width="2.60" height="2.60" fill="#b84fe0"/>
<rect x="419.25" y="264.14" width="2.60" height="2.60" fill="#b84fe0"/>
<rect x="425.10" y="262.28" width="2.60" height="2.60" fill="#b84fe0"/>
<rect x="430.95" y="260.43" width="2.60" height="2.60" fill="#b84fe0"/>
<rect x="436.80" y="258.58" width="2.60" height="2.60" fill="#b84fe0"/>
<rect x="442.65" y="256.72" width="2.60" height="2.60" fill="#b84fe0"/>
<rect x="448.50" y="255.10" width="2.60" height="2.60" fill="#b84fe0"/>
<rect x="454.35" y="253.48" width="2.60" height="2.60" fill="#b84fe0"/>
<rect x="460.20" y="251.86" width="2.60" height="2.60" fill="#b84fe0"/>
<rect x="466.05" y="250.47" width="2.60" height="2.60" fill="#b84fe0"/>
<rect x="471.90" y="249.08" width="2.60" height="2.60" fill="#b84fe0"/>
<rect x="477.75" y="247.69" width="2.60" height="2.60" fill="#b84fe0"/>
<rect x="483.60" y="246.53" width="2.60" height="2.60" fill="#b84fe0"/>
<rect x="489.45" y="245.37" width="2.60" height="2.60" fill="#b84fe0"/>
<rect x="495.30" y="244.21" width="2.60" height="2.60" fill="#b84fe0"/>
<path d="M397.15 274.70V276.56M395.85 274.70h2.6M395.85 276.56h2.6" stroke="#111" stroke-width="0.7" fill="none"/>
<path d="M403.00 271.08V273.69M401.70 271.08h2.6M401.70 273.69h2.6" stroke="#111" stroke-width="0.7" fill="none"/>
<path d="M408.85 267.92V271.30M407.55 267.92h2.6M407.55 271.30h2.6" stroke="#111" stroke-width="0.7" fill="none"/>
<path d="M414.70 264.76V268.90M413.40 264.76h2.6M413.40 268.90h2.6" stroke="#111" stroke-width="0.7" fill="none"/>
<path d="M420.55 262.52V267.43M419.25 262.52h2.6M419.25 267.43h2.6" stroke="#111" stroke-width="0.7" fill="none"/>
<path d="M426.40 260.29V265.95M425.10 260.29h2.6M425.10 265.95h2.6" stroke="#111" stroke-width="0.7" fill="none"/>
<path d="M432.25 258.05V264.48M430.95 258.05h2.6M430.95 264.48h2.6" stroke="#111" stroke-width="0.7" fill="none"/>
<path d="M438.10 255.82V263.01M436.80 255.82h2.6M436.80 263.01h2.6" stroke="#111" stroke-width="0.7" fill="none"/>
<path d="M443.95 253.58V261.54M442.65 253.58h2.6M442.65 261.54h2.6" stroke="#111" stroke-width="0.7" fill="none"/>
<path d="M449.80 251.35V260.07M448.50 251.35h2.6M448.50 260.07h2.6" stroke="#111" stroke-width="0.7" fill="none"/>
<path d="M455.65 249.57V259.06M454.35 249.57h2.6M454.35 259.06h2.6" stroke="#111" stroke-width="0.7" fill="none"/>
<path d="M461.50 247.34V257.59M460.20 247.34h2.6M460.20 257.59h2.6" stroke="#111" stroke-width="0.7" fill="none"/>
<path d="M467.35 245.57V256.58M466.05 245.57h2.6M466.05 256.58h2.6" stroke="#111" stroke-width="0.7" fill="none"/>
<path d="M473.20 243.80V255.57M471.90 243.80h2.6M471.90 255.57h2.6" stroke="#111" stroke-width="0.7" fill="none"/>
<path d="M479.05 242.02V254.56M477.75 242.02h2.6M477.75 254.56h2.6" stroke="#111" stroke-width="0.7" fill="none"/>
<path d="M484.90 240.72V254.02M483.60 240.72h2.6M483.60 254.02h2.6" stroke="#111" stroke-width="0.7" fill="none"/>
<path d="M490.75 238.94V253.01M489.45 238.94h2.6M489.45 253.01h2.6" stroke="#111" stroke-width="0.7" fill="none"/>
<path d="M496.60 237.64V252.46M495.30 237.64h2.6M495.30 252.46h2.6" stroke="#111" stroke-width="0.7" fill="none"/>
<path d="M391.30 279.80 L397.15 275.63 L403.00 272.39 L408.85 269.61 L414.70 266.83 L420.55 264.97 L426.40 263.12 L432.25 261.27 L438.10 259.41 L443.95 257.56 L449.80 255.71 L455.65 254.32 L461.50 252.46 L467.35 251.07 L473.20 249.68 L479.05 248.29 L484.90 247.37 L490.75 245.98 L496.60 245.05" fill="none" stroke="#111" stroke-width="0.8"/>
<circle cx="391.30" cy="279.80" r="1.45" fill="#111"/>
<circle cx="397.15" cy="275.63" r="1.45" fill="#111"/>
<circle cx="403.00" cy="272.39" r="1.45" fill="#111"/>
<circle cx="408.85" cy="269.61" r="1.45" fill="#111"/>
<circle cx="414.70" cy="266.83" r="1.45" fill="#111"/>
<circle cx="420.55" cy="264.97" r="1.45" fill="#111"/>
<circle cx="426.40" cy="263.12" r="1.45" fill="#111"/>
<circle cx="432.25" cy="261.27" r="1.45" fill="#111"/>
<circle cx="438.10" cy="259.41" r="1.45" fill="#111"/>
<circle cx="443.95" cy="257.56" r="1.45" fill="#111"/>
<circle cx="449.80" cy="255.71" r="1.45" fill="#111"/>
<circle cx="455.65" cy="254.32" r="1.45" fill="#111"/>
<circle cx="461.50" cy="252.46" r="1.45" fill="#111"/>
<circle cx="467.35" cy="251.07" r="1.45" fill="#111"/>
<circle cx="473.20" cy="249.68" r="1.45" fill="#111"/>
<circle cx="479.05" cy="248.29" r="1.45" fill="#111"/>
<circle cx="484.90" cy="247.37" r="1.45" fill="#111"/>
<circle cx="490.75" cy="245.98" r="1.45" fill="#111"/>
<circle cx="496.60" cy="245.05" r="1.45" fill="#111"/>
<path d="M392.70 211.50h7.6" stroke="#111" stroke-width="0.8"/>
<circle cx="396.50" cy="211.50" r="1.45" fill="#111"/>
<text x="404.80" y="214.50" font-size="7.6" text-anchor="start" fill="#231f20" textLength="9.90" lengthAdjust="spacingAndGlyphs">Fat</text>
<text x="415.00" y="210.90" font-size="5.0" text-anchor="start" fill="#231f20" textLength="8.80" lengthAdjust="spacingAndGlyphs">Con</text>
<path d="M392.70 220.40h7.6" stroke="#b84fe0" stroke-width="0.8"/>
<rect x="395.00" y="218.90" width="3" height="3" fill="#b84fe0"/>
<text x="404.80" y="222.40" font-size="7.6" text-anchor="start" fill="#231f20" textLength="9.90" lengthAdjust="spacingAndGlyphs">Fat</text>
<text x="415.00" y="218.80" font-size="5.0" text-anchor="start" fill="#231f20" textLength="13.60" lengthAdjust="spacingAndGlyphs">Casp3</text>
<path d="M432.40 210.30H435.70V220.40H432.40" fill="none" stroke="#231f20" stroke-width="0.7"/>
<text x="437.60" y="217.80" font-size="7.6" text-anchor="start" fill="#231f20" textLength="36.80" lengthAdjust="spacingAndGlyphs"><tspan font-style="italic">P</tspan> &gt; 0.9999</text>
<path d="M562.00 279.80H667.90" fill="none" stroke="#a3a3a3" stroke-width="0.95"/>
<path d="M562.00 209.70V279.80" fill="none" stroke="#7d7d7d" stroke-width="0.95"/>
<path d="M558.90 279.80H562.00" stroke="#999" stroke-width="0.8"/>
<text x="556.20" y="282.70" font-size="8.1" text-anchor="end" fill="#231f20">0</text>
<path d="M558.90 271.04H562.00" stroke="#999" stroke-width="0.8"/>
<text x="556.20" y="273.94" font-size="8.1" text-anchor="end" fill="#231f20">500</text>
<path d="M558.90 262.27H562.00" stroke="#999" stroke-width="0.8"/>
<text x="556.20" y="265.17" font-size="8.1" text-anchor="end" fill="#231f20">1,000</text>
<path d="M558.90 253.51H562.00" stroke="#999" stroke-width="0.8"/>
<text x="556.20" y="256.41" font-size="8.1" text-anchor="end" fill="#231f20">1,500</text>
<path d="M558.90 244.75H562.00" stroke="#999" stroke-width="0.8"/>
<text x="556.20" y="247.65" font-size="8.1" text-anchor="end" fill="#231f20">2,000</text>
<path d="M558.90 235.99H562.00" stroke="#999" stroke-width="0.8"/>
<text x="556.20" y="238.89" font-size="8.1" text-anchor="end" fill="#231f20">2,500</text>
<path d="M558.90 227.22H562.00" stroke="#999" stroke-width="0.8"/>
<text x="556.20" y="230.12" font-size="8.1" text-anchor="end" fill="#231f20">3,000</text>
<path d="M558.90 218.46H562.00" stroke="#999" stroke-width="0.8"/>
<text x="556.20" y="221.36" font-size="8.1" text-anchor="end" fill="#231f20">3,500</text>
<path d="M558.90 209.70H562.00" stroke="#999" stroke-width="0.8"/>
<text x="556.20" y="212.60" font-size="8.1" text-anchor="end" fill="#231f20">4,000</text>
<text x="566.60" y="289.30" font-size="8.3" text-anchor="end" fill="#231f20" textLength="4.28" lengthAdjust="spacingAndGlyphs" transform="rotate(-45 566.60 289.30)">0</text>
<path d="M573.77 279.80V283.00" stroke="#666" stroke-width="0.8"/>
<text x="578.37" y="289.30" font-size="8.3" text-anchor="end" fill="#231f20" textLength="12.84" lengthAdjust="spacingAndGlyphs" transform="rotate(-45 578.37 289.30)">200</text>
<path d="M585.53 279.80V283.00" stroke="#666" stroke-width="0.8"/>
<text x="590.13" y="289.30" font-size="8.3" text-anchor="end" fill="#231f20" textLength="12.84" lengthAdjust="spacingAndGlyphs" transform="rotate(-45 590.13 289.30)">400</text>
<path d="M597.30 279.80V283.00" stroke="#666" stroke-width="0.8"/>
<text x="601.90" y="289.30" font-size="8.3" text-anchor="end" fill="#231f20" textLength="12.84" lengthAdjust="spacingAndGlyphs" transform="rotate(-45 601.90 289.30)">600</text>
<path d="M609.07 279.80V283.00" stroke="#666" stroke-width="0.8"/>
<text x="613.67" y="289.30" font-size="8.3" text-anchor="end" fill="#231f20" textLength="12.84" lengthAdjust="spacingAndGlyphs" transform="rotate(-45 613.67 289.30)">800</text>
<path d="M620.83 279.80V283.00" stroke="#666" stroke-width="0.8"/>
<text x="625.43" y="289.30" font-size="8.3" text-anchor="end" fill="#231f20" textLength="19.27" lengthAdjust="spacingAndGlyphs" transform="rotate(-45 625.43 289.30)">1,000</text>
<path d="M632.60 279.80V283.00" stroke="#666" stroke-width="0.8"/>
<text x="637.20" y="289.30" font-size="8.3" text-anchor="end" fill="#231f20" textLength="19.27" lengthAdjust="spacingAndGlyphs" transform="rotate(-45 637.20 289.30)">1,200</text>
<path d="M644.37 279.80V283.00" stroke="#666" stroke-width="0.8"/>
<text x="648.97" y="289.30" font-size="8.3" text-anchor="end" fill="#231f20" textLength="19.27" lengthAdjust="spacingAndGlyphs" transform="rotate(-45 648.97 289.30)">1,400</text>
<path d="M656.13 279.80V283.00" stroke="#666" stroke-width="0.8"/>
<text x="660.73" y="289.30" font-size="8.3" text-anchor="end" fill="#231f20" textLength="19.27" lengthAdjust="spacingAndGlyphs" transform="rotate(-45 660.73 289.30)">1,600</text>
<path d="M667.90 279.80V283.00" stroke="#666" stroke-width="0.8"/>
<text x="672.50" y="289.30" font-size="8.3" text-anchor="end" fill="#231f20" textLength="19.27" lengthAdjust="spacingAndGlyphs" transform="rotate(-45 672.50 289.30)">1,800</text>
<text x="614.95" y="313.00" font-size="8.6" text-anchor="middle" fill="#231f20" textLength="31.50" lengthAdjust="spacingAndGlyphs">Time (s)</text>
<text x="519.60" y="244.75" font-size="8.7" text-anchor="middle" fill="#231f20" textLength="69.00" lengthAdjust="spacingAndGlyphs" transform="rotate(-90 519.60 244.75)">Fat consumption</text>
<text x="530.90" y="244.75" font-size="8.7" text-anchor="middle" fill="#231f20" textLength="38.50" lengthAdjust="spacingAndGlyphs" transform="rotate(-90 530.90 244.75)">(no. licks)</text>
<path d="M567.88 277.52V278.57M566.58 277.52h2.6M566.58 278.57h2.6" stroke="#6ccfd0" stroke-width="0.7" fill="none"/>
<path d="M573.77 274.94V276.24M572.47 274.94h2.6M572.47 276.24h2.6" stroke="#6ccfd0" stroke-width="0.7" fill="none"/>
<path d="M579.65 272.37V273.91M578.35 272.37h2.6M578.35 273.91h2.6" stroke="#6ccfd0" stroke-width="0.7" fill="none"/>
<path d="M585.53 270.14V271.93M584.23 270.14h2.6M584.23 271.93h2.6" stroke="#6ccfd0" stroke-width="0.7" fill="none"/>
<path d="M591.42 268.09V270.13M590.12 268.09h2.6M590.12 270.13h2.6" stroke="#6ccfd0" stroke-width="0.7" fill="none"/>
<path d="M597.30 265.86V268.15M596.00 265.86h2.6M596.00 268.15h2.6" stroke="#6ccfd0" stroke-width="0.7" fill="none"/>
<path d="M603.18 263.81V266.35M601.88 263.81h2.6M601.88 266.35h2.6" stroke="#6ccfd0" stroke-width="0.7" fill="none"/>
<path d="M609.07 262.11V264.89M607.77 262.11h2.6M607.77 264.89h2.6" stroke="#6ccfd0" stroke-width="0.7" fill="none"/>
<path d="M614.95 260.41V263.44M613.65 260.41h2.6M613.65 263.44h2.6" stroke="#6ccfd0" stroke-width="0.7" fill="none"/>
<path d="M620.83 258.88V262.16M619.53 258.88h2.6M619.53 262.16h2.6" stroke="#6ccfd0" stroke-width="0.7" fill="none"/>
<path d="M626.72 257.36V260.88M625.42 257.36h2.6M625.42 260.88h2.6" stroke="#6ccfd0" stroke-width="0.7" fill="none"/>
<path d="M632.60 256.18V259.96M631.30 256.18h2.6M631.30 259.96h2.6" stroke="#6ccfd0" stroke-width="0.7" fill="none"/>
<path d="M638.48 255.01V259.03M637.18 255.01h2.6M637.18 259.03h2.6" stroke="#6ccfd0" stroke-width="0.7" fill="none"/>
<path d="M644.37 253.66V257.92M643.07 253.66h2.6M643.07 257.92h2.6" stroke="#6ccfd0" stroke-width="0.7" fill="none"/>
<path d="M650.25 252.48V257.00M648.95 252.48h2.6M648.95 257.00h2.6" stroke="#6ccfd0" stroke-width="0.7" fill="none"/>
<path d="M656.13 251.13V255.89M654.83 251.13h2.6M654.83 255.89h2.6" stroke="#6ccfd0" stroke-width="0.7" fill="none"/>
<path d="M662.02 249.96V254.97M660.72 249.96h2.6M660.72 254.97h2.6" stroke="#6ccfd0" stroke-width="0.7" fill="none"/>
<path d="M667.90 248.78V254.04M666.60 248.78h2.6M666.60 254.04h2.6" stroke="#6ccfd0" stroke-width="0.7" fill="none"/>
<path d="M562.00 279.80 L567.88 278.05 L573.77 275.59 L579.65 273.14 L585.53 271.04 L591.42 269.11 L597.30 267.01 L603.18 265.08 L609.07 263.50 L614.95 261.92 L620.83 260.52 L626.72 259.12 L632.60 258.07 L638.48 257.02 L644.37 255.79 L650.25 254.74 L656.13 253.51 L662.02 252.46 L667.90 251.41" fill="none" stroke="#2ec4c4" stroke-width="0.8"/>
<rect x="560.50" y="278.30" width="3.00" height="3.00" fill="#2ec4c4"/>
<rect x="566.38" y="276.55" width="3.00" height="3.00" fill="#2ec4c4"/>
<rect x="572.27" y="274.09" width="3.00" height="3.00" fill="#2ec4c4"/>
<rect x="578.15" y="271.64" width="3.00" height="3.00" fill="#2ec4c4"/>
<rect x="584.03" y="269.54" width="3.00" height="3.00" fill="#2ec4c4"/>
<rect x="589.92" y="267.61" width="3.00" height="3.00" fill="#2ec4c4"/>
<rect x="595.80" y="265.51" width="3.00" height="3.00" fill="#2ec4c4"/>
<rect x="601.68" y="263.58" width="3.00" height="3.00" fill="#2ec4c4"/>
<rect x="607.57" y="262.00" width="3.00" height="3.00" fill="#2ec4c4"/>
<rect x="613.45" y="260.42" width="3.00" height="3.00" fill="#2ec4c4"/>
<rect x="619.33" y="259.02" width="3.00" height="3.00" fill="#2ec4c4"/>
<rect x="625.22" y="257.62" width="3.00" height="3.00" fill="#2ec4c4"/>
<rect x="631.10" y="256.57" width="3.00" height="3.00" fill="#2ec4c4"/>
<rect x="636.98" y="255.52" width="3.00" height="3.00" fill="#2ec4c4"/>
<rect x="642.87" y="254.29" width="3.00" height="3.00" fill="#2ec4c4"/>
<rect x="648.75" y="253.24" width="3.00" height="3.00" fill="#2ec4c4"/>
<rect x="654.63" y="252.01" width="3.00" height="3.00" fill="#2ec4c4"/>
<rect x="660.52" y="250.96" width="3.00" height="3.00" fill="#2ec4c4"/>
<rect x="666.40" y="249.91" width="3.00" height="3.00" fill="#2ec4c4"/>
<path d="M567.88 276.47V277.87M566.58 276.47h2.6M566.58 277.87h2.6" stroke="#111" stroke-width="0.7" fill="none"/>
<path d="M573.77 272.93V274.75M572.47 272.93h2.6M572.47 274.75h2.6" stroke="#111" stroke-width="0.7" fill="none"/>
<path d="M579.65 269.92V272.15M578.35 269.92h2.6M578.35 272.15h2.6" stroke="#111" stroke-width="0.7" fill="none"/>
<path d="M585.53 266.21V268.85M584.23 266.21h2.6M584.23 268.85h2.6" stroke="#111" stroke-width="0.7" fill="none"/>
<path d="M591.42 263.03V266.08M590.12 263.03h2.6M590.12 266.08h2.6" stroke="#111" stroke-width="0.7" fill="none"/>
<path d="M597.30 259.49V262.96M596.00 259.49h2.6M596.00 262.96h2.6" stroke="#111" stroke-width="0.7" fill="none"/>
<path d="M603.18 256.31V260.18M601.88 256.31h2.6M601.88 260.18h2.6" stroke="#111" stroke-width="0.7" fill="none"/>
<path d="M609.07 253.12V257.41M607.77 253.12h2.6M607.77 257.41h2.6" stroke="#111" stroke-width="0.7" fill="none"/>
<path d="M614.95 250.46V255.16M613.65 250.46h2.6M613.65 255.16h2.6" stroke="#111" stroke-width="0.7" fill="none"/>
<path d="M620.83 247.63V252.74M619.53 247.63h2.6M619.53 252.74h2.6" stroke="#111" stroke-width="0.7" fill="none"/>
<path d="M626.72 244.79V250.32M625.42 244.79h2.6M625.42 250.32h2.6" stroke="#111" stroke-width="0.7" fill="none"/>
<path d="M632.60 241.78V247.72M631.30 241.78h2.6M631.30 247.72h2.6" stroke="#111" stroke-width="0.7" fill="none"/>
<path d="M638.48 239.30V245.65M637.18 239.30h2.6M637.18 245.65h2.6" stroke="#111" stroke-width="0.7" fill="none"/>
<path d="M644.37 236.64V243.40M643.07 236.64h2.6M643.07 243.40h2.6" stroke="#111" stroke-width="0.7" fill="none"/>
<path d="M650.25 234.50V241.68M648.95 234.50h2.6M648.95 241.68h2.6" stroke="#111" stroke-width="0.7" fill="none"/>
<path d="M656.13 233.25V240.83M654.83 233.25h2.6M654.83 240.83h2.6" stroke="#111" stroke-width="0.7" fill="none"/>
<path d="M662.02 230.94V238.94M660.72 230.94h2.6M660.72 238.94h2.6" stroke="#111" stroke-width="0.7" fill="none"/>
<path d="M667.90 228.28V236.69M666.60 228.28h2.6M666.60 236.69h2.6" stroke="#111" stroke-width="0.7" fill="none"/>
<path d="M562.00 279.80 L567.88 277.17 L573.77 273.84 L579.65 271.04 L585.53 267.53 L591.42 264.55 L597.30 261.22 L603.18 258.24 L609.07 255.27 L614.95 252.81 L620.83 250.18 L626.72 247.55 L632.60 244.75 L638.48 242.47 L644.37 240.02 L650.25 238.09 L656.13 237.04 L662.02 234.94 L667.90 232.48" fill="none" stroke="#111" stroke-width="0.8"/>
<circle cx="562.00" cy="279.80" r="1.45" fill="#111"/>
<circle cx="567.88" cy="277.17" r="1.45" fill="#111"/>
<circle cx="573.77" cy="273.84" r="1.45" fill="#111"/>
<circle cx="579.65" cy="271.04" r="1.45" fill="#111"/>
<circle cx="585.53" cy="267.53" r="1.45" fill="#111"/>
<circle cx="591.42" cy="264.55" r="1.45" fill="#111"/>
<circle cx="597.30" cy="261.22" r="1.45" fill="#111"/>
<circle cx="603.18" cy="258.24" r="1.45" fill="#111"/>
<circle cx="609.07" cy="255.27" r="1.45" fill="#111"/>
<circle cx="614.95" cy="252.81" r="1.45" fill="#111"/>
<circle cx="620.83" cy="250.18" r="1.45" fill="#111"/>
<circle cx="626.72" cy="247.55" r="1.45" fill="#111"/>
<circle cx="632.60" cy="244.75" r="1.45" fill="#111"/>
<circle cx="638.48" cy="242.47" r="1.45" fill="#111"/>
<circle cx="644.37" cy="240.02" r="1.45" fill="#111"/>
<circle cx="650.25" cy="238.09" r="1.45" fill="#111"/>
<circle cx="656.13" cy="237.04" r="1.45" fill="#111"/>
<circle cx="662.02" cy="234.94" r="1.45" fill="#111"/>
<circle cx="667.90" cy="232.48" r="1.45" fill="#111"/>
<path d="M564.10 212.10h7.6" stroke="#111" stroke-width="0.8"/>
<circle cx="567.90" cy="212.10" r="1.45" fill="#111"/>
<text x="575.80" y="214.50" font-size="7.6" text-anchor="start" fill="#231f20" textLength="10.50" lengthAdjust="spacingAndGlyphs">Fat</text>
<text x="586.60" y="210.90" font-size="5.0" text-anchor="start" fill="#231f20" textLength="8.80" lengthAdjust="spacingAndGlyphs">Con</text>
<path d="M564.10 220.40h7.6" stroke="#2ec4c4" stroke-width="0.8"/>
<rect x="566.40" y="218.90" width="3" height="3" fill="#2ec4c4"/>
<text x="575.80" y="222.70" font-size="7.6" text-anchor="start" fill="#231f20" textLength="10.50" lengthAdjust="spacingAndGlyphs">Fat</text>
<text x="586.60" y="219.10" font-size="5.0" text-anchor="start" fill="#231f20" textLength="13.60" lengthAdjust="spacingAndGlyphs">Casp3</text>
<path d="M605.40 210.30H608.60V220.80H605.40" fill="none" stroke="#231f20" stroke-width="0.7"/>
<text x="612.60" y="217.80" font-size="7.6" text-anchor="start" fill="#231f20" textLength="36.10" lengthAdjust="spacingAndGlyphs">P &lt; 0.0001</text>
<path d="M49.00 626.00H157.00" fill="none" stroke="#a3a3a3" stroke-width="0.95"/>
<path d="M49.00 553.50V626.00" fill="none" stroke="#7d7d7d" stroke-width="0.95"/>
<path d="M45.90 626.00H49.00" stroke="#999" stroke-width="0.8"/>
<text x="43.20" y="628.90" font-size="8.1" text-anchor="end" fill="#231f20">0</text>
<path d="M45.90 607.88H49.00" stroke="#999" stroke-width="0.8"/>
<text x="43.20" y="610.77" font-size="8.1" text-anchor="end" fill="#231f20">500</text>
<path d="M45.90 589.75H49.00" stroke="#999" stroke-width="0.8"/>
<text x="43.20" y="592.65" font-size="8.1" text-anchor="end" fill="#231f20">1,000</text>
<path d="M45.90 571.62H49.00" stroke="#999" stroke-width="0.8"/>
<text x="43.20" y="574.52" font-size="8.1" text-anchor="end" fill="#231f20">1,500</text>
<path d="M45.90 553.50H49.00" stroke="#999" stroke-width="0.8"/>
<text x="43.20" y="556.40" font-size="8.1" text-anchor="end" fill="#231f20">2,000</text>
<text x="53.60" y="635.50" font-size="8.3" text-anchor="end" fill="#231f20" textLength="4.28" lengthAdjust="spacingAndGlyphs" transform="rotate(-45 53.60 635.50)">0</text>
<path d="M61.00 626.00V629.20" stroke="#666" stroke-width="0.8"/>
<text x="65.60" y="635.50" font-size="8.3" text-anchor="end" fill="#231f20" textLength="12.84" lengthAdjust="spacingAndGlyphs" transform="rotate(-45 65.60 635.50)">200</text>
<path d="M73.00 626.00V629.20" stroke="#666" stroke-width="0.8"/>
<text x="77.60" y="635.50" font-size="8.3" text-anchor="end" fill="#231f20" textLength="12.84" lengthAdjust="spacingAndGlyphs" transform="rotate(-45 77.60 635.50)">400</text>
<path d="M85.00 626.00V629.20" stroke="#666" stroke-width="0.8"/>
<text x="89.60" y="635.50" font-size="8.3" text-anchor="end" fill="#231f20" textLength="12.84" lengthAdjust="spacingAndGlyphs" transform="rotate(-45 89.60 635.50)">600</text>
<path d="M97.00 626.00V629.20" stroke="#666" stroke-width="0.8"/>
<text x="101.60" y="635.50" font-size="8.3" text-anchor="end" fill="#231f20" textLength="12.84" lengthAdjust="spacingAndGlyphs" transform="rotate(-45 101.60 635.50)">800</text>
<path d="M109.00 626.00V629.20" stroke="#666" stroke-width="0.8"/>
<text x="113.60" y="635.50" font-size="8.3" text-anchor="end" fill="#231f20" textLength="19.27" lengthAdjust="spacingAndGlyphs" transform="rotate(-45 113.60 635.50)">1,000</text>
<path d="M121.00 626.00V629.20" stroke="#666" stroke-width="0.8"/>
<text x="125.60" y="635.50" font-size="8.3" text-anchor="end" fill="#231f20" textLength="19.27" lengthAdjust="spacingAndGlyphs" transform="rotate(-45 125.60 635.50)">1,200</text>
<path d="M133.00 626.00V629.20" stroke="#666" stroke-width="0.8"/>
<text x="137.60" y="635.50" font-size="8.3" text-anchor="end" fill="#231f20" textLength="19.27" lengthAdjust="spacingAndGlyphs" transform="rotate(-45 137.60 635.50)">1,400</text>
<path d="M145.00 626.00V629.20" stroke="#666" stroke-width="0.8"/>
<text x="149.60" y="635.50" font-size="8.3" text-anchor="end" fill="#231f20" textLength="19.27" lengthAdjust="spacingAndGlyphs" transform="rotate(-45 149.60 635.50)">1,600</text>
<path d="M157.00 626.00V629.20" stroke="#666" stroke-width="0.8"/>
<text x="161.60" y="635.50" font-size="8.3" text-anchor="end" fill="#231f20" textLength="19.27" lengthAdjust="spacingAndGlyphs" transform="rotate(-45 161.60 635.50)">1,800</text>
<text x="103.00" y="659.00" font-size="8.6" text-anchor="middle" fill="#231f20" textLength="31.50" lengthAdjust="spacingAndGlyphs">Time (s)</text>
<text x="7.40" y="589.75" font-size="8.7" text-anchor="middle" fill="#231f20" textLength="86.60" lengthAdjust="spacingAndGlyphs" transform="rotate(-90 7.40 589.75)">Sucrose consumption</text>
<text x="17.80" y="589.75" font-size="8.7" text-anchor="middle" fill="#231f20" textLength="38.50" lengthAdjust="spacingAndGlyphs" transform="rotate(-90 17.80 589.75)">(no. licks)</text>
<path d="M55.00 618.39V621.29M53.70 618.39h2.6M53.70 621.29h2.6" stroke="#c98ae6" stroke-width="0.7" fill="none"/>
<path d="M61.00 611.67V614.95M59.70 611.67h2.6M59.70 614.95h2.6" stroke="#c98ae6" stroke-width="0.7" fill="none"/>
<path d="M67.00 604.95V608.62M65.70 604.95h2.6M65.70 608.62h2.6" stroke="#c98ae6" stroke-width="0.7" fill="none"/>
<path d="M73.00 598.60V602.65M71.70 598.60h2.6M71.70 602.65h2.6" stroke="#c98ae6" stroke-width="0.7" fill="none"/>
<path d="M79.00 592.61V597.04M77.70 592.61h2.6M77.70 597.04h2.6" stroke="#c98ae6" stroke-width="0.7" fill="none"/>
<path d="M85.00 587.34V592.16M83.70 587.34h2.6M83.70 592.16h2.6" stroke="#c98ae6" stroke-width="0.7" fill="none"/>
<path d="M91.00 582.07V587.28M89.70 582.07h2.6M89.70 587.28h2.6" stroke="#c98ae6" stroke-width="0.7" fill="none"/>
<path d="M97.00 578.26V583.84M95.70 578.26h2.6M95.70 583.84h2.6" stroke="#c98ae6" stroke-width="0.7" fill="none"/>
<path d="M103.00 575.53V581.50M101.70 575.53h2.6M101.70 581.50h2.6" stroke="#c98ae6" stroke-width="0.7" fill="none"/>
<path d="M109.00 572.80V579.15M107.70 572.80h2.6M107.70 579.15h2.6" stroke="#c98ae6" stroke-width="0.7" fill="none"/>
<path d="M115.00 570.79V577.53M113.70 570.79h2.6M113.70 577.53h2.6" stroke="#c98ae6" stroke-width="0.7" fill="none"/>
<path d="M121.00 569.15V576.27M119.70 569.15h2.6M119.70 576.27h2.6" stroke="#c98ae6" stroke-width="0.7" fill="none"/>
<path d="M127.00 567.51V575.02M125.70 567.51h2.6M125.70 575.02h2.6" stroke="#c98ae6" stroke-width="0.7" fill="none"/>
<path d="M133.00 566.23V574.12M131.70 566.23h2.6M131.70 574.12h2.6" stroke="#c98ae6" stroke-width="0.7" fill="none"/>
<path d="M139.00 565.31V573.59M137.70 565.31h2.6M137.70 573.59h2.6" stroke="#c98ae6" stroke-width="0.7" fill="none"/>
<path d="M145.00 564.40V573.05M143.70 564.40h2.6M143.70 573.05h2.6" stroke="#c98ae6" stroke-width="0.7" fill="none"/>
<path d="M151.00 563.84V572.88M149.70 563.84h2.6M149.70 572.88h2.6" stroke="#c98ae6" stroke-width="0.7" fill="none"/>
<path d="M157.00 563.29V572.71M155.70 563.29h2.6M155.70 572.71h2.6" stroke="#c98ae6" stroke-width="0.7" fill="none"/>
<path d="M49.00 626.00 L55.00 619.84 L61.00 613.31 L67.00 606.79 L73.00 600.62 L79.00 594.83 L85.00 589.75 L91.00 584.67 L97.00 581.05 L103.00 578.51 L109.00 575.98 L115.00 574.16 L121.00 572.71 L127.00 571.26 L133.00 570.17 L139.00 569.45 L145.00 568.73 L151.00 568.36 L157.00 568.00" fill="none" stroke="#b84fe0" stroke-width="0.8"/>
<rect x="47.50" y="624.50" width="3.00" height="3.00" fill="#b84fe0"/>
<rect x="53.50" y="618.34" width="3.00" height="3.00" fill="#b84fe0"/>
<rect x="59.50" y="611.81" width="3.00" height="3.00" fill="#b84fe0"/>
<rect x="65.50" y="605.29" width="3.00" height="3.00" fill="#b84fe0"/>
<rect x="71.50" y="599.12" width="3.00" height="3.00" fill="#b84fe0"/>
<rect x="77.50" y="593.33" width="3.00" height="3.00" fill="#b84fe0"/>
<rect x="83.50" y="588.25" width="3.00" height="3.00" fill="#b84fe0"/>
<rect x="89.50" y="583.17" width="3.00" height="3.00" fill="#b84fe0"/>
<rect x="95.50" y="579.55" width="3.00" height="3.00" fill="#b84fe0"/>
<rect x="101.50" y="577.01" width="3.00" height="3.00" fill="#b84fe0"/>
<rect x="107.50" y="574.48" width="3.00" height="3.00" fill="#b84fe0"/>
<rect x="113.50" y="572.66" width="3.00" height="3.00" fill="#b84fe0"/>
<rect x="119.50" y="571.21" width="3.00" height="3.00" fill="#b84fe0"/>
<rect x="125.50" y="569.76" width="3.00" height="3.00" fill="#b84fe0"/>
<rect x="131.50" y="568.67" width="3.00" height="3.00" fill="#b84fe0"/>
<rect x="137.50" y="567.95" width="3.00" height="3.00" fill="#b84fe0"/>
<rect x="143.50" y="567.23" width="3.00" height="3.00" fill="#b84fe0"/>
<rect x="149.50" y="566.86" width="3.00" height="3.00" fill="#b84fe0"/>
<rect x="155.50" y="566.50" width="3.00" height="3.00" fill="#b84fe0"/>
<path d="M55.00 619.84V622.01M53.70 619.84h2.6M53.70 622.01h2.6" stroke="#111" stroke-width="0.7" fill="none"/>
<path d="M61.00 615.74V618.13M59.70 615.74h2.6M59.70 618.13h2.6" stroke="#111" stroke-width="0.7" fill="none"/>
<path d="M67.00 610.92V613.53M65.70 610.92h2.6M65.70 613.53h2.6" stroke="#111" stroke-width="0.7" fill="none"/>
<path d="M73.00 604.66V607.47M71.70 604.66h2.6M71.70 607.47h2.6" stroke="#111" stroke-width="0.7" fill="none"/>
<path d="M79.00 600.20V603.23M77.70 600.20h2.6M77.70 603.23h2.6" stroke="#111" stroke-width="0.7" fill="none"/>
<path d="M85.00 595.74V598.98M83.70 595.74h2.6M83.70 598.98h2.6" stroke="#111" stroke-width="0.7" fill="none"/>
<path d="M91.00 592.01V595.46M89.70 592.01h2.6M89.70 595.46h2.6" stroke="#111" stroke-width="0.7" fill="none"/>
<path d="M97.00 589.00V592.67M95.70 589.00h2.6M95.70 592.67h2.6" stroke="#111" stroke-width="0.7" fill="none"/>
<path d="M103.00 586.36V590.24M101.70 586.36h2.6M101.70 590.24h2.6" stroke="#111" stroke-width="0.7" fill="none"/>
<path d="M109.00 584.08V588.17M107.70 584.08h2.6M107.70 588.17h2.6" stroke="#111" stroke-width="0.7" fill="none"/>
<path d="M115.00 582.16V586.47M113.70 582.16h2.6M113.70 586.47h2.6" stroke="#111" stroke-width="0.7" fill="none"/>
<path d="M121.00 580.24V584.76M119.70 580.24h2.6M119.70 584.76h2.6" stroke="#111" stroke-width="0.7" fill="none"/>
<path d="M127.00 579.05V583.78M125.70 579.05h2.6M125.70 583.78h2.6" stroke="#111" stroke-width="0.7" fill="none"/>
<path d="M133.00 577.85V582.80M131.70 577.85h2.6M131.70 582.80h2.6" stroke="#111" stroke-width="0.7" fill="none"/>
<path d="M139.00 577.02V582.18M137.70 577.02h2.6M137.70 582.18h2.6" stroke="#111" stroke-width="0.7" fill="none"/>
<path d="M145.00 576.19V581.56M143.70 576.19h2.6M143.70 581.56h2.6" stroke="#111" stroke-width="0.7" fill="none"/>
<path d="M151.00 575.72V581.31M149.70 575.72h2.6M149.70 581.31h2.6" stroke="#111" stroke-width="0.7" fill="none"/>
<path d="M157.00 574.89V580.69M155.70 574.89h2.6M155.70 580.69h2.6" stroke="#111" stroke-width="0.7" fill="none"/>
<path d="M49.00 626.00 L55.00 620.92 L61.00 616.94 L67.00 612.23 L73.00 606.06 L79.00 601.71 L85.00 597.36 L91.00 593.74 L97.00 590.84 L103.00 588.30 L109.00 586.12 L115.00 584.31 L121.00 582.50 L127.00 581.41 L133.00 580.33 L139.00 579.60 L145.00 578.88 L151.00 578.51 L157.00 577.79" fill="none" stroke="#111" stroke-width="0.8"/>
<circle cx="49.00" cy="626.00" r="1.45" fill="#111"/>
<circle cx="55.00" cy="620.92" r="1.45" fill="#111"/>
<circle cx="61.00" cy="616.94" r="1.45" fill="#111"/>
<circle cx="67.00" cy="612.23" r="1.45" fill="#111"/>
<circle cx="73.00" cy="606.06" r="1.45" fill="#111"/>
<circle cx="79.00" cy="601.71" r="1.45" fill="#111"/>
<circle cx="85.00" cy="597.36" r="1.45" fill="#111"/>
<circle cx="91.00" cy="593.74" r="1.45" fill="#111"/>
<circle cx="97.00" cy="590.84" r="1.45" fill="#111"/>
<circle cx="103.00" cy="588.30" r="1.45" fill="#111"/>
<circle cx="109.00" cy="586.12" r="1.45" fill="#111"/>
<circle cx="115.00" cy="584.31" r="1.45" fill="#111"/>
<circle cx="121.00" cy="582.50" r="1.45" fill="#111"/>
<circle cx="127.00" cy="581.41" r="1.45" fill="#111"/>
<circle cx="133.00" cy="580.33" r="1.45" fill="#111"/>
<circle cx="139.00" cy="579.60" r="1.45" fill="#111"/>
<circle cx="145.00" cy="578.88" r="1.45" fill="#111"/>
<circle cx="151.00" cy="578.51" r="1.45" fill="#111"/>
<circle cx="157.00" cy="577.79" r="1.45" fill="#111"/>
<path d="M52.00 554.40h7.6" stroke="#111" stroke-width="0.8"/>
<circle cx="55.80" cy="554.40" r="1.45" fill="#111"/>
<text x="63.10" y="556.40" font-size="7.6" text-anchor="start" fill="#231f20" textLength="20.90" lengthAdjust="spacingAndGlyphs">Saline</text>
<path d="M52.00 562.30h7.6" stroke="#b84fe0" stroke-width="0.8"/>
<rect x="54.30" y="560.80" width="3" height="3" fill="#b84fe0"/>
<text x="63.10" y="564.80" font-size="7.6" text-anchor="start" fill="#231f20" textLength="15.80" lengthAdjust="spacingAndGlyphs">CNO</text>
<path d="M84.60 553.60H88.20V564.10H85.10" fill="none" stroke="#231f20" stroke-width="0.7"/>
<text x="90.00" y="561.50" font-size="8.6" text-anchor="start" fill="#231f20" textLength="42.10" lengthAdjust="spacingAndGlyphs"><tspan font-style="italic">P</tspan> &lt; 0.0001</text>
<path d="M224.40 626.00H332.70" fill="none" stroke="#a3a3a3" stroke-width="0.95"/>
<path d="M224.40 553.40V626.00" fill="none" stroke="#7d7d7d" stroke-width="0.95"/>
<path d="M221.30 626.00H224.40" stroke="#999" stroke-width="0.8"/>
<text x="218.60" y="628.90" font-size="8.1" text-anchor="end" fill="#231f20">0</text>
<path d="M221.30 616.92H224.40" stroke="#999" stroke-width="0.8"/>
<text x="218.60" y="619.82" font-size="8.1" text-anchor="end" fill="#231f20">500</text>
<path d="M221.30 607.85H224.40" stroke="#999" stroke-width="0.8"/>
<text x="218.60" y="610.75" font-size="8.1" text-anchor="end" fill="#231f20">1,000</text>
<path d="M221.30 598.77H224.40" stroke="#999" stroke-width="0.8"/>
<text x="218.60" y="601.67" font-size="8.1" text-anchor="end" fill="#231f20">1,500</text>
<path d="M221.30 589.70H224.40" stroke="#999" stroke-width="0.8"/>
<text x="218.60" y="592.60" font-size="8.1" text-anchor="end" fill="#231f20">2,000</text>
<path d="M221.30 580.62H224.40" stroke="#999" stroke-width="0.8"/>
<text x="218.60" y="583.52" font-size="8.1" text-anchor="end" fill="#231f20">2,500</text>
<path d="M221.30 571.55H224.40" stroke="#999" stroke-width="0.8"/>
<text x="218.60" y="574.45" font-size="8.1" text-anchor="end" fill="#231f20">3,000</text>
<path d="M221.30 562.48H224.40" stroke="#999" stroke-width="0.8"/>
<text x="218.60" y="565.38" font-size="8.1" text-anchor="end" fill="#231f20">3,500</text>
<path d="M221.30 553.40H224.40" stroke="#999" stroke-width="0.8"/>
<text x="218.60" y="556.30" font-size="8.1" text-anchor="end" fill="#231f20">4,000</text>
<text x="229.00" y="635.50" font-size="8.3" text-anchor="end" fill="#231f20" textLength="4.28" lengthAdjust="spacingAndGlyphs" transform="rotate(-45 229.00 635.50)">0</text>
<path d="M236.43 626.00V629.20" stroke="#666" stroke-width="0.8"/>
<text x="241.03" y="635.50" font-size="8.3" text-anchor="end" fill="#231f20" textLength="12.84" lengthAdjust="spacingAndGlyphs" transform="rotate(-45 241.03 635.50)">200</text>
<path d="M248.47 626.00V629.20" stroke="#666" stroke-width="0.8"/>
<text x="253.07" y="635.50" font-size="8.3" text-anchor="end" fill="#231f20" textLength="12.84" lengthAdjust="spacingAndGlyphs" transform="rotate(-45 253.07 635.50)">400</text>
<path d="M260.50 626.00V629.20" stroke="#666" stroke-width="0.8"/>
<text x="265.10" y="635.50" font-size="8.3" text-anchor="end" fill="#231f20" textLength="12.84" lengthAdjust="spacingAndGlyphs" transform="rotate(-45 265.10 635.50)">600</text>
<path d="M272.53 626.00V629.20" stroke="#666" stroke-width="0.8"/>
<text x="277.13" y="635.50" font-size="8.3" text-anchor="end" fill="#231f20" textLength="12.84" lengthAdjust="spacingAndGlyphs" transform="rotate(-45 277.13 635.50)">800</text>
<path d="M284.57 626.00V629.20" stroke="#666" stroke-width="0.8"/>
<text x="289.17" y="635.50" font-size="8.3" text-anchor="end" fill="#231f20" textLength="19.27" lengthAdjust="spacingAndGlyphs" transform="rotate(-45 289.17 635.50)">1,000</text>
<path d="M296.60 626.00V629.20" stroke="#666" stroke-width="0.8"/>
<text x="301.20" y="635.50" font-size="8.3" text-anchor="end" fill="#231f20" textLength="19.27" lengthAdjust="spacingAndGlyphs" transform="rotate(-45 301.20 635.50)">1,200</text>
<path d="M308.63 626.00V629.20" stroke="#666" stroke-width="0.8"/>
<text x="313.23" y="635.50" font-size="8.3" text-anchor="end" fill="#231f20" textLength="19.27" lengthAdjust="spacingAndGlyphs" transform="rotate(-45 313.23 635.50)">1,400</text>
<path d="M320.67 626.00V629.20" stroke="#666" stroke-width="0.8"/>
<text x="325.27" y="635.50" font-size="8.3" text-anchor="end" fill="#231f20" textLength="19.27" lengthAdjust="spacingAndGlyphs" transform="rotate(-45 325.27 635.50)">1,600</text>
<path d="M332.70 626.00V629.20" stroke="#666" stroke-width="0.8"/>
<text x="337.30" y="635.50" font-size="8.3" text-anchor="end" fill="#231f20" textLength="19.27" lengthAdjust="spacingAndGlyphs" transform="rotate(-45 337.30 635.50)">1,800</text>
<text x="278.55" y="659.00" font-size="8.6" text-anchor="middle" fill="#231f20" textLength="31.50" lengthAdjust="spacingAndGlyphs">Time (s)</text>
<text x="180.30" y="589.70" font-size="8.7" text-anchor="middle" fill="#231f20" textLength="69.00" lengthAdjust="spacingAndGlyphs" transform="rotate(-90 180.30 589.70)">Fat consumption</text>
<text x="190.60" y="589.70" font-size="8.7" text-anchor="middle" fill="#231f20" textLength="38.50" lengthAdjust="spacingAndGlyphs" transform="rotate(-90 190.60 589.70)">(no. licks)</text>
<path d="M230.42 623.82V624.91M229.12 623.82h2.6M229.12 624.91h2.6" stroke="#6ccfd0" stroke-width="0.7" fill="none"/>
<path d="M236.43 619.96V621.52M235.13 619.96h2.6M235.13 621.52h2.6" stroke="#6ccfd0" stroke-width="0.7" fill="none"/>
<path d="M242.45 616.82V618.85M241.15 616.82h2.6M241.15 618.85h2.6" stroke="#6ccfd0" stroke-width="0.7" fill="none"/>
<path d="M248.47 613.50V616.00M247.17 613.50h2.6M247.17 616.00h2.6" stroke="#6ccfd0" stroke-width="0.7" fill="none"/>
<path d="M254.48 610.00V612.96M253.18 610.00h2.6M253.18 612.96h2.6" stroke="#6ccfd0" stroke-width="0.7" fill="none"/>
<path d="M260.50 606.49V609.93M259.20 606.49h2.6M259.20 609.93h2.6" stroke="#6ccfd0" stroke-width="0.7" fill="none"/>
<path d="M266.52 604.08V607.99M265.22 604.08h2.6M265.22 607.99h2.6" stroke="#6ccfd0" stroke-width="0.7" fill="none"/>
<path d="M272.53 601.49V605.86M271.23 601.49h2.6M271.23 605.86h2.6" stroke="#6ccfd0" stroke-width="0.7" fill="none"/>
<path d="M278.55 598.53V603.38M277.25 598.53h2.6M277.25 603.38h2.6" stroke="#6ccfd0" stroke-width="0.7" fill="none"/>
<path d="M284.57 596.12V601.43M283.27 596.12h2.6M283.27 601.43h2.6" stroke="#6ccfd0" stroke-width="0.7" fill="none"/>
<path d="M290.58 593.34V599.13M289.28 593.34h2.6M289.28 599.13h2.6" stroke="#6ccfd0" stroke-width="0.7" fill="none"/>
<path d="M296.60 591.29V597.55M295.30 591.29h2.6M295.30 597.55h2.6" stroke="#6ccfd0" stroke-width="0.7" fill="none"/>
<path d="M302.62 588.88V595.60M301.32 588.88h2.6M301.32 595.60h2.6" stroke="#6ccfd0" stroke-width="0.7" fill="none"/>
<path d="M308.63 587.01V594.21M307.33 587.01h2.6M307.33 594.21h2.6" stroke="#6ccfd0" stroke-width="0.7" fill="none"/>
<path d="M314.65 584.96V592.63M313.35 584.96h2.6M313.35 592.63h2.6" stroke="#6ccfd0" stroke-width="0.7" fill="none"/>
<path d="M320.67 583.27V591.41M319.37 583.27h2.6M319.37 591.41h2.6" stroke="#6ccfd0" stroke-width="0.7" fill="none"/>
<path d="M326.68 580.86V589.47M325.38 580.86h2.6M325.38 589.47h2.6" stroke="#6ccfd0" stroke-width="0.7" fill="none"/>
<path d="M332.70 579.17V588.25M331.40 579.17h2.6M331.40 588.25h2.6" stroke="#6ccfd0" stroke-width="0.7" fill="none"/>
<path d="M224.40 626.00 L230.42 624.37 L236.43 620.74 L242.45 617.83 L248.47 614.75 L254.48 611.48 L260.50 608.21 L266.52 606.03 L272.53 603.68 L278.55 600.95 L284.57 598.77 L290.58 596.23 L296.60 594.42 L302.62 592.24 L308.63 590.61 L314.65 588.79 L320.67 587.34 L326.68 585.16 L332.70 583.71" fill="none" stroke="#2ec4c4" stroke-width="0.8"/>
<rect x="222.90" y="624.50" width="3.00" height="3.00" fill="#2ec4c4"/>
<rect x="228.92" y="622.87" width="3.00" height="3.00" fill="#2ec4c4"/>
<rect x="234.93" y="619.24" width="3.00" height="3.00" fill="#2ec4c4"/>
<rect x="240.95" y="616.33" width="3.00" height="3.00" fill="#2ec4c4"/>
<rect x="246.97" y="613.25" width="3.00" height="3.00" fill="#2ec4c4"/>
<rect x="252.98" y="609.98" width="3.00" height="3.00" fill="#2ec4c4"/>
<rect x="259.00" y="606.71" width="3.00" height="3.00" fill="#2ec4c4"/>
<rect x="265.02" y="604.53" width="3.00" height="3.00" fill="#2ec4c4"/>
<rect x="271.03" y="602.18" width="3.00" height="3.00" fill="#2ec4c4"/>
<rect x="277.05" y="599.45" width="3.00" height="3.00" fill="#2ec4c4"/>
<rect x="283.07" y="597.27" width="3.00" height="3.00" fill="#2ec4c4"/>
<rect x="289.08" y="594.73" width="3.00" height="3.00" fill="#2ec4c4"/>
<rect x="295.10" y="592.92" width="3.00" height="3.00" fill="#2ec4c4"/>
<rect x="301.12" y="590.74" width="3.00" height="3.00" fill="#2ec4c4"/>
<rect x="307.13" y="589.11" width="3.00" height="3.00" fill="#2ec4c4"/>
<rect x="313.15" y="587.29" width="3.00" height="3.00" fill="#2ec4c4"/>
<rect x="319.17" y="585.84" width="3.00" height="3.00" fill="#2ec4c4"/>
<rect x="325.18" y="583.66" width="3.00" height="3.00" fill="#2ec4c4"/>
<rect x="331.20" y="582.21" width="3.00" height="3.00" fill="#2ec4c4"/>
<path d="M230.42 624.00V625.09M229.12 624.00h2.6M229.12 625.09h2.6" stroke="#111" stroke-width="0.7" fill="none"/>
<path d="M236.43 620.14V621.70M235.13 620.14h2.6M235.13 621.70h2.6" stroke="#111" stroke-width="0.7" fill="none"/>
<path d="M242.45 617.00V619.03M241.15 617.00h2.6M241.15 619.03h2.6" stroke="#111" stroke-width="0.7" fill="none"/>
<path d="M248.47 613.13V615.63M247.17 613.13h2.6M247.17 615.63h2.6" stroke="#111" stroke-width="0.7" fill="none"/>
<path d="M254.48 609.63V612.60M253.18 609.63h2.6M253.18 612.60h2.6" stroke="#111" stroke-width="0.7" fill="none"/>
<path d="M260.50 606.86V610.29M259.20 606.86h2.6M259.20 610.29h2.6" stroke="#111" stroke-width="0.7" fill="none"/>
<path d="M266.52 603.90V607.81M265.22 603.90h2.6M265.22 607.81h2.6" stroke="#111" stroke-width="0.7" fill="none"/>
<path d="M272.53 601.12V605.50M271.23 601.12h2.6M271.23 605.50h2.6" stroke="#111" stroke-width="0.7" fill="none"/>
<path d="M278.55 598.71V603.56M277.25 598.71h2.6M277.25 603.56h2.6" stroke="#111" stroke-width="0.7" fill="none"/>
<path d="M284.57 596.30V601.61M283.27 596.30h2.6M283.27 601.61h2.6" stroke="#111" stroke-width="0.7" fill="none"/>
<path d="M290.58 593.89V599.67M289.28 593.89h2.6M289.28 599.67h2.6" stroke="#111" stroke-width="0.7" fill="none"/>
<path d="M296.60 590.93V597.18M295.30 590.93h2.6M295.30 597.18h2.6" stroke="#111" stroke-width="0.7" fill="none"/>
<path d="M302.62 589.06V595.79M301.32 589.06h2.6M301.32 595.79h2.6" stroke="#111" stroke-width="0.7" fill="none"/>
<path d="M308.63 587.37V594.57M307.33 587.37h2.6M307.33 594.57h2.6" stroke="#111" stroke-width="0.7" fill="none"/>
<path d="M314.65 585.50V593.17M313.35 585.50h2.6M313.35 593.17h2.6" stroke="#111" stroke-width="0.7" fill="none"/>
<path d="M320.67 584.00V592.13M319.37 584.00h2.6M319.37 592.13h2.6" stroke="#111" stroke-width="0.7" fill="none"/>
<path d="M326.68 582.13V590.74M325.38 582.13h2.6M325.38 590.74h2.6" stroke="#111" stroke-width="0.7" fill="none"/>
<path d="M332.70 580.81V589.88M331.40 580.81h2.6M331.40 589.88h2.6" stroke="#111" stroke-width="0.7" fill="none"/>
<path d="M224.40 626.00 L230.42 624.55 L236.43 620.92 L242.45 618.01 L248.47 614.38 L254.48 611.12 L260.50 608.58 L266.52 605.85 L272.53 603.31 L278.55 601.13 L284.57 598.96 L290.58 596.78 L296.60 594.06 L302.62 592.42 L308.63 590.97 L314.65 589.34 L320.67 588.07 L326.68 586.43 L332.70 585.34" fill="none" stroke="#111" stroke-width="0.8"/>
<circle cx="224.40" cy="626.00" r="1.45" fill="#111"/>
<circle cx="230.42" cy="624.55" r="1.45" fill="#111"/>
<circle cx="236.43" cy="620.92" r="1.45" fill="#111"/>
<circle cx="242.45" cy="618.01" r="1.45" fill="#111"/>
<circle cx="248.47" cy="614.38" r="1.45" fill="#111"/>
<circle cx="254.48" cy="611.12" r="1.45" fill="#111"/>
<circle cx="260.50" cy="608.58" r="1.45" fill="#111"/>
<circle cx="266.52" cy="605.85" r="1.45" fill="#111"/>
<circle cx="272.53" cy="603.31" r="1.45" fill="#111"/>
<circle cx="278.55" cy="601.13" r="1.45" fill="#111"/>
<circle cx="284.57" cy="598.96" r="1.45" fill="#111"/>
<circle cx="290.58" cy="596.78" r="1.45" fill="#111"/>
<circle cx="296.60" cy="594.06" r="1.45" fill="#111"/>
<circle cx="302.62" cy="592.42" r="1.45" fill="#111"/>
<circle cx="308.63" cy="590.97" r="1.45" fill="#111"/>
<circle cx="314.65" cy="589.34" r="1.45" fill="#111"/>
<circle cx="320.67" cy="588.07" r="1.45" fill="#111"/>
<circle cx="326.68" cy="586.43" r="1.45" fill="#111"/>
<circle cx="332.70" cy="585.34" r="1.45" fill="#111"/>
<path d="M226.10 554.30h7.6" stroke="#111" stroke-width="0.8"/>
<circle cx="229.90" cy="554.30" r="1.45" fill="#111"/>
<text x="237.80" y="556.50" font-size="7.6" text-anchor="start" fill="#231f20" textLength="21.00" lengthAdjust="spacingAndGlyphs">Saline</text>
<path d="M226.10 564.40h7.6" stroke="#2ec4c4" stroke-width="0.8"/>
<rect x="228.40" y="562.90" width="3" height="3" fill="#2ec4c4"/>
<text x="237.80" y="566.40" font-size="7.6" text-anchor="start" fill="#231f20" textLength="16.20" lengthAdjust="spacingAndGlyphs">CNO</text>
<path d="M259.30 554.30H263.40V565.10H260.10" fill="none" stroke="#231f20" stroke-width="0.7"/>
<text x="266.00" y="562.20" font-size="7.4" text-anchor="start" fill="#231f20" textLength="36.20" lengthAdjust="spacingAndGlyphs"><tspan font-style="italic">P</tspan> = 0.8033</text>
<path d="M398.30 625.90H506.30" fill="none" stroke="#a3a3a3" stroke-width="0.95"/>
<path d="M398.30 553.40V625.90" fill="none" stroke="#7d7d7d" stroke-width="0.95"/>
<path d="M395.20 625.90H398.30" stroke="#999" stroke-width="0.8"/>
<text x="392.50" y="628.80" font-size="8.1" text-anchor="end" fill="#231f20">0</text>
<path d="M395.20 607.77H398.30" stroke="#999" stroke-width="0.8"/>
<text x="392.50" y="610.67" font-size="8.1" text-anchor="end" fill="#231f20">500</text>
<path d="M395.20 589.65H398.30" stroke="#999" stroke-width="0.8"/>
<text x="392.50" y="592.55" font-size="8.1" text-anchor="end" fill="#231f20">1,000</text>
<path d="M395.20 571.52H398.30" stroke="#999" stroke-width="0.8"/>
<text x="392.50" y="574.42" font-size="8.1" text-anchor="end" fill="#231f20">1,500</text>
<path d="M395.20 553.40H398.30" stroke="#999" stroke-width="0.8"/>
<text x="392.50" y="556.30" font-size="8.1" text-anchor="end" fill="#231f20">2,000</text>
<text x="402.90" y="635.40" font-size="8.3" text-anchor="end" fill="#231f20" textLength="4.28" lengthAdjust="spacingAndGlyphs" transform="rotate(-45 402.90 635.40)">0</text>
<path d="M410.30 625.90V629.10" stroke="#666" stroke-width="0.8"/>
<text x="414.90" y="635.40" font-size="8.3" text-anchor="end" fill="#231f20" textLength="12.84" lengthAdjust="spacingAndGlyphs" transform="rotate(-45 414.90 635.40)">200</text>
<path d="M422.30 625.90V629.10" stroke="#666" stroke-width="0.8"/>
<text x="426.90" y="635.40" font-size="8.3" text-anchor="end" fill="#231f20" textLength="12.84" lengthAdjust="spacingAndGlyphs" transform="rotate(-45 426.90 635.40)">400</text>
<path d="M434.30 625.90V629.10" stroke="#666" stroke-width="0.8"/>
<text x="438.90" y="635.40" font-size="8.3" text-anchor="end" fill="#231f20" textLength="12.84" lengthAdjust="spacingAndGlyphs" transform="rotate(-45 438.90 635.40)">600</text>
<path d="M446.30 625.90V629.10" stroke="#666" stroke-width="0.8"/>
<text x="450.90" y="635.40" font-size="8.3" text-anchor="end" fill="#231f20" textLength="12.84" lengthAdjust="spacingAndGlyphs" transform="rotate(-45 450.90 635.40)">800</text>
<path d="M458.30 625.90V629.10" stroke="#666" stroke-width="0.8"/>
<text x="462.90" y="635.40" font-size="8.3" text-anchor="end" fill="#231f20" textLength="19.27" lengthAdjust="spacingAndGlyphs" transform="rotate(-45 462.90 635.40)">1,000</text>
<path d="M470.30 625.90V629.10" stroke="#666" stroke-width="0.8"/>
<text x="474.90" y="635.40" font-size="8.3" text-anchor="end" fill="#231f20" textLength="19.27" lengthAdjust="spacingAndGlyphs" transform="rotate(-45 474.90 635.40)">1,200</text>
<path d="M482.30 625.90V629.10" stroke="#666" stroke-width="0.8"/>
<text x="486.90" y="635.40" font-size="8.3" text-anchor="end" fill="#231f20" textLength="19.27" lengthAdjust="spacingAndGlyphs" transform="rotate(-45 486.90 635.40)">1,400</text>
<path d="M494.30 625.90V629.10" stroke="#666" stroke-width="0.8"/>
<text x="498.90" y="635.40" font-size="8.3" text-anchor="end" fill="#231f20" textLength="19.27" lengthAdjust="spacingAndGlyphs" transform="rotate(-45 498.90 635.40)">1,600</text>
<path d="M506.30 625.90V629.10" stroke="#666" stroke-width="0.8"/>
<text x="510.90" y="635.40" font-size="8.3" text-anchor="end" fill="#231f20" textLength="19.27" lengthAdjust="spacingAndGlyphs" transform="rotate(-45 510.90 635.40)">1,800</text>
<text x="452.30" y="659.00" font-size="8.6" text-anchor="middle" fill="#231f20" textLength="31.50" lengthAdjust="spacingAndGlyphs">Time (s)</text>
<text x="357.30" y="589.65" font-size="8.7" text-anchor="middle" fill="#231f20" textLength="86.60" lengthAdjust="spacingAndGlyphs" transform="rotate(-90 357.30 589.65)">Sucrose consumption</text>
<text x="368.60" y="589.65" font-size="8.7" text-anchor="middle" fill="#231f20" textLength="38.50" lengthAdjust="spacingAndGlyphs" transform="rotate(-90 368.60 589.65)">(no. licks)</text>
<path d="M404.30 618.65V621.55M403.00 618.65h2.6M403.00 621.55h2.6" stroke="#c98ae6" stroke-width="0.7" fill="none"/>
<path d="M410.30 612.96V617.09M409.00 612.96h2.6M409.00 617.09h2.6" stroke="#c98ae6" stroke-width="0.7" fill="none"/>
<path d="M416.30 604.36V609.74M415.00 604.36h2.6M415.00 609.74h2.6" stroke="#c98ae6" stroke-width="0.7" fill="none"/>
<path d="M422.30 597.94V604.56M421.00 597.94h2.6M421.00 604.56h2.6" stroke="#c98ae6" stroke-width="0.7" fill="none"/>
<path d="M428.30 592.98V600.82M427.00 592.98h2.6M427.00 600.82h2.6" stroke="#c98ae6" stroke-width="0.7" fill="none"/>
<path d="M434.30 588.01V597.09M433.00 588.01h2.6M433.00 597.09h2.6" stroke="#c98ae6" stroke-width="0.7" fill="none"/>
<path d="M440.30 580.86V591.19M439.00 580.86h2.6M439.00 591.19h2.6" stroke="#c98ae6" stroke-width="0.7" fill="none"/>
<path d="M446.30 576.62V588.18M445.00 576.62h2.6M445.00 588.18h2.6" stroke="#c98ae6" stroke-width="0.7" fill="none"/>
<path d="M452.30 573.47V586.26M451.00 573.47h2.6M451.00 586.26h2.6" stroke="#c98ae6" stroke-width="0.7" fill="none"/>
<path d="M458.30 570.67V584.70M457.00 570.67h2.6M457.00 584.70h2.6" stroke="#c98ae6" stroke-width="0.7" fill="none"/>
<path d="M464.30 567.15V582.42M463.00 567.15h2.6M463.00 582.42h2.6" stroke="#c98ae6" stroke-width="0.7" fill="none"/>
<path d="M470.30 565.45V581.95M469.00 565.45h2.6M469.00 581.95h2.6" stroke="#c98ae6" stroke-width="0.7" fill="none"/>
<path d="M476.30 564.10V581.85M475.00 564.10h2.6M475.00 581.85h2.6" stroke="#c98ae6" stroke-width="0.7" fill="none"/>
<path d="M482.30 562.76V581.74M481.00 562.76h2.6M481.00 581.74h2.6" stroke="#c98ae6" stroke-width="0.7" fill="none"/>
<path d="M488.30 561.06V581.27M487.00 561.06h2.6M487.00 581.27h2.6" stroke="#c98ae6" stroke-width="0.7" fill="none"/>
<path d="M494.30 559.71V581.16M493.00 559.71h2.6M493.00 581.16h2.6" stroke="#c98ae6" stroke-width="0.7" fill="none"/>
<path d="M500.30 558.37V581.06M499.00 558.37h2.6M499.00 581.06h2.6" stroke="#c98ae6" stroke-width="0.7" fill="none"/>
<path d="M506.30 556.66V580.59M505.00 556.66h2.6M505.00 580.59h2.6" stroke="#c98ae6" stroke-width="0.7" fill="none"/>
<path d="M398.30 625.90 L404.30 620.10 L410.30 615.02 L416.30 607.05 L422.30 601.25 L428.30 596.90 L434.30 592.55 L440.30 586.02 L446.30 582.40 L452.30 579.86 L458.30 577.69 L464.30 574.79 L470.30 573.70 L476.30 572.98 L482.30 572.25 L488.30 571.16 L494.30 570.44 L500.30 569.71 L506.30 568.62" fill="none" stroke="#b84fe0" stroke-width="0.8"/>
<rect x="397.00" y="624.60" width="2.60" height="2.60" fill="#b84fe0"/>
<rect x="403.00" y="618.80" width="2.60" height="2.60" fill="#b84fe0"/>
<rect x="409.00" y="613.73" width="2.60" height="2.60" fill="#b84fe0"/>
<rect x="415.00" y="605.75" width="2.60" height="2.60" fill="#b84fe0"/>
<rect x="421.00" y="599.95" width="2.60" height="2.60" fill="#b84fe0"/>
<rect x="427.00" y="595.60" width="2.60" height="2.60" fill="#b84fe0"/>
<rect x="433.00" y="591.25" width="2.60" height="2.60" fill="#b84fe0"/>
<rect x="439.00" y="584.73" width="2.60" height="2.60" fill="#b84fe0"/>
<rect x="445.00" y="581.10" width="2.60" height="2.60" fill="#b84fe0"/>
<rect x="451.00" y="578.56" width="2.60" height="2.60" fill="#b84fe0"/>
<rect x="457.00" y="576.39" width="2.60" height="2.60" fill="#b84fe0"/>
<rect x="463.00" y="573.49" width="2.60" height="2.60" fill="#b84fe0"/>
<rect x="469.00" y="572.40" width="2.60" height="2.60" fill="#b84fe0"/>
<rect x="475.00" y="571.68" width="2.60" height="2.60" fill="#b84fe0"/>
<rect x="481.00" y="570.95" width="2.60" height="2.60" fill="#b84fe0"/>
<rect x="487.00" y="569.86" width="2.60" height="2.60" fill="#b84fe0"/>
<rect x="493.00" y="569.14" width="2.60" height="2.60" fill="#b84fe0"/>
<rect x="499.00" y="568.41" width="2.60" height="2.60" fill="#b84fe0"/>
<rect x="505.00" y="567.33" width="2.60" height="2.60" fill="#b84fe0"/>
<path d="M404.30 618.65V620.82M403.00 618.65h2.6M403.00 620.82h2.6" stroke="#111" stroke-width="0.7" fill="none"/>
<path d="M410.30 611.68V614.75M409.00 611.68h2.6M409.00 614.75h2.6" stroke="#111" stroke-width="0.7" fill="none"/>
<path d="M416.30 603.98V607.95M415.00 603.98h2.6M415.00 607.95h2.6" stroke="#111" stroke-width="0.7" fill="none"/>
<path d="M422.30 597.01V601.87M421.00 597.01h2.6M421.00 601.87h2.6" stroke="#111" stroke-width="0.7" fill="none"/>
<path d="M428.30 591.48V597.24M427.00 591.48h2.6M427.00 597.24h2.6" stroke="#111" stroke-width="0.7" fill="none"/>
<path d="M434.30 585.60V592.25M433.00 585.60h2.6M433.00 592.25h2.6" stroke="#111" stroke-width="0.7" fill="none"/>
<path d="M440.30 581.89V589.44M439.00 581.89h2.6M439.00 589.44h2.6" stroke="#111" stroke-width="0.7" fill="none"/>
<path d="M446.30 577.45V585.90M445.00 577.45h2.6M445.00 585.90h2.6" stroke="#111" stroke-width="0.7" fill="none"/>
<path d="M452.30 574.11V583.44M451.00 574.11h2.6M451.00 583.44h2.6" stroke="#111" stroke-width="0.7" fill="none"/>
<path d="M458.30 571.48V581.72M457.00 571.48h2.6M457.00 581.72h2.6" stroke="#111" stroke-width="0.7" fill="none"/>
<path d="M464.30 569.58V580.72M463.00 569.58h2.6M463.00 580.72h2.6" stroke="#111" stroke-width="0.7" fill="none"/>
<path d="M470.30 568.05V580.08M469.00 568.05h2.6M469.00 580.08h2.6" stroke="#111" stroke-width="0.7" fill="none"/>
<path d="M476.30 566.51V579.44M475.00 566.51h2.6M475.00 579.44h2.6" stroke="#111" stroke-width="0.7" fill="none"/>
<path d="M482.30 565.34V579.16M481.00 565.34h2.6M481.00 579.16h2.6" stroke="#111" stroke-width="0.7" fill="none"/>
<path d="M488.30 564.17V578.88M487.00 564.17h2.6M487.00 578.88h2.6" stroke="#111" stroke-width="0.7" fill="none"/>
<path d="M494.30 563.00V578.60M493.00 563.00h2.6M493.00 578.60h2.6" stroke="#111" stroke-width="0.7" fill="none"/>
<path d="M500.30 562.19V578.69M499.00 562.19h2.6M499.00 578.69h2.6" stroke="#111" stroke-width="0.7" fill="none"/>
<path d="M506.30 561.38V578.77M505.00 561.38h2.6M505.00 578.77h2.6" stroke="#111" stroke-width="0.7" fill="none"/>
<path d="M398.30 625.90 L404.30 619.74 L410.30 613.21 L416.30 605.96 L422.30 599.44 L428.30 594.36 L434.30 588.92 L440.30 585.66 L446.30 581.67 L452.30 578.77 L458.30 576.60 L464.30 575.15 L470.30 574.06 L476.30 572.98 L482.30 572.25 L488.30 571.52 L494.30 570.80 L500.30 570.44 L506.30 570.07" fill="none" stroke="#111" stroke-width="0.8"/>
<circle cx="398.30" cy="625.90" r="1.45" fill="#111"/>
<circle cx="404.30" cy="619.74" r="1.45" fill="#111"/>
<circle cx="410.30" cy="613.21" r="1.45" fill="#111"/>
<circle cx="416.30" cy="605.96" r="1.45" fill="#111"/>
<circle cx="422.30" cy="599.44" r="1.45" fill="#111"/>
<circle cx="428.30" cy="594.36" r="1.45" fill="#111"/>
<circle cx="434.30" cy="588.92" r="1.45" fill="#111"/>
<circle cx="440.30" cy="585.66" r="1.45" fill="#111"/>
<circle cx="446.30" cy="581.67" r="1.45" fill="#111"/>
<circle cx="452.30" cy="578.77" r="1.45" fill="#111"/>
<circle cx="458.30" cy="576.60" r="1.45" fill="#111"/>
<circle cx="464.30" cy="575.15" r="1.45" fill="#111"/>
<circle cx="470.30" cy="574.06" r="1.45" fill="#111"/>
<circle cx="476.30" cy="572.98" r="1.45" fill="#111"/>
<circle cx="482.30" cy="572.25" r="1.45" fill="#111"/>
<circle cx="488.30" cy="571.52" r="1.45" fill="#111"/>
<circle cx="494.30" cy="570.80" r="1.45" fill="#111"/>
<circle cx="500.30" cy="570.44" r="1.45" fill="#111"/>
<circle cx="506.30" cy="570.07" r="1.45" fill="#111"/>
<path d="M400.10 554.30h7.6" stroke="#111" stroke-width="0.8"/>
<circle cx="403.90" cy="554.30" r="1.45" fill="#111"/>
<text x="411.10" y="556.50" font-size="7.6" text-anchor="start" fill="#231f20" textLength="20.80" lengthAdjust="spacingAndGlyphs">Saline</text>
<path d="M400.10 564.40h7.6" stroke="#b84fe0" stroke-width="0.8"/>
<rect x="402.40" y="562.90" width="3" height="3" fill="#b84fe0"/>
<text x="411.10" y="566.50" font-size="7.6" text-anchor="start" fill="#231f20" textLength="16.90" lengthAdjust="spacingAndGlyphs">CNO</text>
<path d="M432.40 553.90H436.80V564.40H432.80" fill="none" stroke="#231f20" stroke-width="0.7"/>
<text x="438.10" y="561.80" font-size="7.4" text-anchor="start" fill="#231f20" textLength="34.80" lengthAdjust="spacingAndGlyphs"><tspan font-style="italic">P</tspan> = 0.9421</text>
<path d="M573.40 626.00H681.30" fill="none" stroke="#a3a3a3" stroke-width="0.95"/>
<path d="M573.40 553.30V626.00" fill="none" stroke="#7d7d7d" stroke-width="0.95"/>
<path d="M570.30 626.00H573.40" stroke="#999" stroke-width="0.8"/>
<text x="567.60" y="628.90" font-size="8.1" text-anchor="end" fill="#231f20">0</text>
<path d="M570.30 616.91H573.40" stroke="#999" stroke-width="0.8"/>
<text x="567.60" y="619.81" font-size="8.1" text-anchor="end" fill="#231f20">500</text>
<path d="M570.30 607.83H573.40" stroke="#999" stroke-width="0.8"/>
<text x="567.60" y="610.73" font-size="8.1" text-anchor="end" fill="#231f20">1,000</text>
<path d="M570.30 598.74H573.40" stroke="#999" stroke-width="0.8"/>
<text x="567.60" y="601.64" font-size="8.1" text-anchor="end" fill="#231f20">1,500</text>
<path d="M570.30 589.65H573.40" stroke="#999" stroke-width="0.8"/>
<text x="567.60" y="592.55" font-size="8.1" text-anchor="end" fill="#231f20">2,000</text>
<path d="M570.30 580.56H573.40" stroke="#999" stroke-width="0.8"/>
<text x="567.60" y="583.46" font-size="8.1" text-anchor="end" fill="#231f20">2,500</text>
<path d="M570.30 571.47H573.40" stroke="#999" stroke-width="0.8"/>
<text x="567.60" y="574.37" font-size="8.1" text-anchor="end" fill="#231f20">3,000</text>
<path d="M570.30 562.39H573.40" stroke="#999" stroke-width="0.8"/>
<text x="567.60" y="565.29" font-size="8.1" text-anchor="end" fill="#231f20">3,500</text>
<path d="M570.30 553.30H573.40" stroke="#999" stroke-width="0.8"/>
<text x="567.60" y="556.20" font-size="8.1" text-anchor="end" fill="#231f20">4,000</text>
<text x="578.00" y="635.50" font-size="8.3" text-anchor="end" fill="#231f20" textLength="4.28" lengthAdjust="spacingAndGlyphs" transform="rotate(-45 578.00 635.50)">0</text>
<path d="M585.39 626.00V629.20" stroke="#666" stroke-width="0.8"/>
<text x="589.99" y="635.50" font-size="8.3" text-anchor="end" fill="#231f20" textLength="12.84" lengthAdjust="spacingAndGlyphs" transform="rotate(-45 589.99 635.50)">200</text>
<path d="M597.38 626.00V629.20" stroke="#666" stroke-width="0.8"/>
<text x="601.98" y="635.50" font-size="8.3" text-anchor="end" fill="#231f20" textLength="12.84" lengthAdjust="spacingAndGlyphs" transform="rotate(-45 601.98 635.50)">400</text>
<path d="M609.37 626.00V629.20" stroke="#666" stroke-width="0.8"/>
<text x="613.97" y="635.50" font-size="8.3" text-anchor="end" fill="#231f20" textLength="12.84" lengthAdjust="spacingAndGlyphs" transform="rotate(-45 613.97 635.50)">600</text>
<path d="M621.36 626.00V629.20" stroke="#666" stroke-width="0.8"/>
<text x="625.96" y="635.50" font-size="8.3" text-anchor="end" fill="#231f20" textLength="12.84" lengthAdjust="spacingAndGlyphs" transform="rotate(-45 625.96 635.50)">800</text>
<path d="M633.34 626.00V629.20" stroke="#666" stroke-width="0.8"/>
<text x="637.94" y="635.50" font-size="8.3" text-anchor="end" fill="#231f20" textLength="19.27" lengthAdjust="spacingAndGlyphs" transform="rotate(-45 637.94 635.50)">1,000</text>
<path d="M645.33 626.00V629.20" stroke="#666" stroke-width="0.8"/>
<text x="649.93" y="635.50" font-size="8.3" text-anchor="end" fill="#231f20" textLength="19.27" lengthAdjust="spacingAndGlyphs" transform="rotate(-45 649.93 635.50)">1,200</text>
<path d="M657.32 626.00V629.20" stroke="#666" stroke-width="0.8"/>
<text x="661.92" y="635.50" font-size="8.3" text-anchor="end" fill="#231f20" textLength="19.27" lengthAdjust="spacingAndGlyphs" transform="rotate(-45 661.92 635.50)">1,400</text>
<path d="M669.31 626.00V629.20" stroke="#666" stroke-width="0.8"/>
<text x="673.91" y="635.50" font-size="8.3" text-anchor="end" fill="#231f20" textLength="19.27" lengthAdjust="spacingAndGlyphs" transform="rotate(-45 673.91 635.50)">1,600</text>
<path d="M681.30 626.00V629.20" stroke="#666" stroke-width="0.8"/>
<text x="685.90" y="635.50" font-size="8.3" text-anchor="end" fill="#231f20" textLength="19.27" lengthAdjust="spacingAndGlyphs" transform="rotate(-45 685.90 635.50)">1,800</text>
<text x="627.35" y="659.00" font-size="8.6" text-anchor="middle" fill="#231f20" textLength="31.50" lengthAdjust="spacingAndGlyphs">Time (s)</text>
<text x="530.30" y="589.65" font-size="8.7" text-anchor="middle" fill="#231f20" textLength="69.00" lengthAdjust="spacingAndGlyphs" transform="rotate(-90 530.30 589.65)">Fat consumption</text>
<text x="540.80" y="589.65" font-size="8.7" text-anchor="middle" fill="#231f20" textLength="38.50" lengthAdjust="spacingAndGlyphs" transform="rotate(-90 540.80 589.65)">(no. licks)</text>
<path d="M579.39 621.64V623.09M578.09 621.64h2.6M578.09 623.09h2.6" stroke="#6ccfd0" stroke-width="0.7" fill="none"/>
<path d="M585.39 617.22V619.15M584.09 617.22h2.6M584.09 619.15h2.6" stroke="#6ccfd0" stroke-width="0.7" fill="none"/>
<path d="M591.38 613.90V616.29M590.08 613.90h2.6M590.08 616.29h2.6" stroke="#6ccfd0" stroke-width="0.7" fill="none"/>
<path d="M597.38 608.57V611.44M596.08 608.57h2.6M596.08 611.44h2.6" stroke="#6ccfd0" stroke-width="0.7" fill="none"/>
<path d="M603.37 605.25V608.58M602.07 605.25h2.6M602.07 608.58h2.6" stroke="#6ccfd0" stroke-width="0.7" fill="none"/>
<path d="M609.37 601.20V605.00M608.07 601.20h2.6M608.07 605.00h2.6" stroke="#6ccfd0" stroke-width="0.7" fill="none"/>
<path d="M615.36 598.78V603.06M614.06 598.78h2.6M614.06 603.06h2.6" stroke="#6ccfd0" stroke-width="0.7" fill="none"/>
<path d="M621.36 595.64V600.38M620.06 595.64h2.6M620.06 600.38h2.6" stroke="#6ccfd0" stroke-width="0.7" fill="none"/>
<path d="M627.35 593.95V599.17M626.05 593.95h2.6M626.05 599.17h2.6" stroke="#6ccfd0" stroke-width="0.7" fill="none"/>
<path d="M633.34 591.90V597.58M632.04 591.90h2.6M632.04 597.58h2.6" stroke="#6ccfd0" stroke-width="0.7" fill="none"/>
<path d="M639.34 589.84V596.00M638.04 589.84h2.6M638.04 596.00h2.6" stroke="#6ccfd0" stroke-width="0.7" fill="none"/>
<path d="M645.33 587.43V594.05M644.03 587.43h2.6M644.03 594.05h2.6" stroke="#6ccfd0" stroke-width="0.7" fill="none"/>
<path d="M651.33 585.01V592.11M650.03 585.01h2.6M650.03 592.11h2.6" stroke="#6ccfd0" stroke-width="0.7" fill="none"/>
<path d="M657.32 582.59V590.16M656.02 582.59h2.6M656.02 590.16h2.6" stroke="#6ccfd0" stroke-width="0.7" fill="none"/>
<path d="M663.32 580.90V588.94M662.02 580.90h2.6M662.02 588.94h2.6" stroke="#6ccfd0" stroke-width="0.7" fill="none"/>
<path d="M669.31 578.49V587.00M668.01 578.49h2.6M668.01 587.00h2.6" stroke="#6ccfd0" stroke-width="0.7" fill="none"/>
<path d="M675.31 576.44V585.42M674.01 576.44h2.6M674.01 585.42h2.6" stroke="#6ccfd0" stroke-width="0.7" fill="none"/>
<path d="M681.30 575.11V584.56M680.00 575.11h2.6M680.00 584.56h2.6" stroke="#6ccfd0" stroke-width="0.7" fill="none"/>
<path d="M573.40 626.00 L579.39 622.37 L585.39 618.18 L591.38 615.10 L597.38 610.01 L603.37 606.92 L609.37 603.10 L615.36 600.92 L621.36 598.01 L627.35 596.56 L633.34 594.74 L639.34 592.92 L645.33 590.74 L651.33 588.56 L657.32 586.38 L663.32 584.92 L669.31 582.74 L675.31 580.93 L681.30 579.84" fill="none" stroke="#2ec4c4" stroke-width="0.8"/>
<rect x="571.90" y="624.50" width="3.00" height="3.00" fill="#2ec4c4"/>
<rect x="577.89" y="620.87" width="3.00" height="3.00" fill="#2ec4c4"/>
<rect x="583.89" y="616.68" width="3.00" height="3.00" fill="#2ec4c4"/>
<rect x="589.88" y="613.60" width="3.00" height="3.00" fill="#2ec4c4"/>
<rect x="595.88" y="608.51" width="3.00" height="3.00" fill="#2ec4c4"/>
<rect x="601.87" y="605.42" width="3.00" height="3.00" fill="#2ec4c4"/>
<rect x="607.87" y="601.60" width="3.00" height="3.00" fill="#2ec4c4"/>
<rect x="613.86" y="599.42" width="3.00" height="3.00" fill="#2ec4c4"/>
<rect x="619.86" y="596.51" width="3.00" height="3.00" fill="#2ec4c4"/>
<rect x="625.85" y="595.06" width="3.00" height="3.00" fill="#2ec4c4"/>
<rect x="631.84" y="593.24" width="3.00" height="3.00" fill="#2ec4c4"/>
<rect x="637.84" y="591.42" width="3.00" height="3.00" fill="#2ec4c4"/>
<rect x="643.83" y="589.24" width="3.00" height="3.00" fill="#2ec4c4"/>
<rect x="649.83" y="587.06" width="3.00" height="3.00" fill="#2ec4c4"/>
<rect x="655.82" y="584.88" width="3.00" height="3.00" fill="#2ec4c4"/>
<rect x="661.82" y="583.42" width="3.00" height="3.00" fill="#2ec4c4"/>
<rect x="667.81" y="581.24" width="3.00" height="3.00" fill="#2ec4c4"/>
<rect x="673.81" y="579.43" width="3.00" height="3.00" fill="#2ec4c4"/>
<rect x="679.80" y="578.34" width="3.00" height="3.00" fill="#2ec4c4"/>
<path d="M579.39 621.82V622.91M578.09 621.82h2.6M578.09 622.91h2.6" stroke="#111" stroke-width="0.7" fill="none"/>
<path d="M585.39 618.22V619.97M584.09 618.22h2.6M584.09 619.97h2.6" stroke="#111" stroke-width="0.7" fill="none"/>
<path d="M591.38 614.61V617.03M590.08 614.61h2.6M590.08 617.03h2.6" stroke="#111" stroke-width="0.7" fill="none"/>
<path d="M597.38 609.92V613.00M596.08 609.92h2.6M596.08 613.00h2.6" stroke="#111" stroke-width="0.7" fill="none"/>
<path d="M603.37 606.68V610.42M602.07 606.68h2.6M602.07 610.42h2.6" stroke="#111" stroke-width="0.7" fill="none"/>
<path d="M609.37 603.81V608.21M608.07 603.81h2.6M608.07 608.21h2.6" stroke="#111" stroke-width="0.7" fill="none"/>
<path d="M615.36 601.66V606.72M614.06 601.66h2.6M614.06 606.72h2.6" stroke="#111" stroke-width="0.7" fill="none"/>
<path d="M621.36 599.87V605.60M620.06 599.87h2.6M620.06 605.60h2.6" stroke="#111" stroke-width="0.7" fill="none"/>
<path d="M627.35 597.72V604.12M626.05 597.72h2.6M626.05 604.12h2.6" stroke="#111" stroke-width="0.7" fill="none"/>
<path d="M633.34 595.75V602.81M632.04 595.75h2.6M632.04 602.81h2.6" stroke="#111" stroke-width="0.7" fill="none"/>
<path d="M639.34 593.97V601.69M638.04 593.97h2.6M638.04 601.69h2.6" stroke="#111" stroke-width="0.7" fill="none"/>
<path d="M645.33 592.00V600.38M644.03 592.00h2.6M644.03 600.38h2.6" stroke="#111" stroke-width="0.7" fill="none"/>
<path d="M651.33 590.22V599.26M650.03 590.22h2.6M650.03 599.26h2.6" stroke="#111" stroke-width="0.7" fill="none"/>
<path d="M657.32 588.79V598.50M656.02 588.79h2.6M656.02 598.50h2.6" stroke="#111" stroke-width="0.7" fill="none"/>
<path d="M663.32 587.74V598.11M662.02 587.74h2.6M662.02 598.11h2.6" stroke="#111" stroke-width="0.7" fill="none"/>
<path d="M669.31 586.31V597.35M668.01 586.31h2.6M668.01 597.35h2.6" stroke="#111" stroke-width="0.7" fill="none"/>
<path d="M675.31 584.89V596.59M674.01 584.89h2.6M674.01 596.59h2.6" stroke="#111" stroke-width="0.7" fill="none"/>
<path d="M681.30 583.83V596.19M680.00 583.83h2.6M680.00 596.19h2.6" stroke="#111" stroke-width="0.7" fill="none"/>
<path d="M573.40 626.00 L579.39 622.37 L585.39 619.09 L591.38 615.82 L597.38 611.46 L603.37 608.55 L609.37 606.01 L615.36 604.19 L621.36 602.74 L627.35 600.92 L633.34 599.28 L639.34 597.83 L645.33 596.19 L651.33 594.74 L657.32 593.65 L663.32 592.92 L669.31 591.83 L675.31 590.74 L681.30 590.01" fill="none" stroke="#111" stroke-width="0.8"/>
<circle cx="573.40" cy="626.00" r="1.45" fill="#111"/>
<circle cx="579.39" cy="622.37" r="1.45" fill="#111"/>
<circle cx="585.39" cy="619.09" r="1.45" fill="#111"/>
<circle cx="591.38" cy="615.82" r="1.45" fill="#111"/>
<circle cx="597.38" cy="611.46" r="1.45" fill="#111"/>
<circle cx="603.37" cy="608.55" r="1.45" fill="#111"/>
<circle cx="609.37" cy="606.01" r="1.45" fill="#111"/>
<circle cx="615.36" cy="604.19" r="1.45" fill="#111"/>
<circle cx="621.36" cy="602.74" r="1.45" fill="#111"/>
<circle cx="627.35" cy="600.92" r="1.45" fill="#111"/>
<circle cx="633.34" cy="599.28" r="1.45" fill="#111"/>
<circle cx="639.34" cy="597.83" r="1.45" fill="#111"/>
<circle cx="645.33" cy="596.19" r="1.45" fill="#111"/>
<circle cx="651.33" cy="594.74" r="1.45" fill="#111"/>
<circle cx="657.32" cy="593.65" r="1.45" fill="#111"/>
<circle cx="663.32" cy="592.92" r="1.45" fill="#111"/>
<circle cx="669.31" cy="591.83" r="1.45" fill="#111"/>
<circle cx="675.31" cy="590.74" r="1.45" fill="#111"/>
<circle cx="681.30" cy="590.01" r="1.45" fill="#111"/>
<path d="M577.00 553.90h7.6" stroke="#111" stroke-width="0.8"/>
<circle cx="580.80" cy="553.90" r="1.45" fill="#111"/>
<text x="588.50" y="556.10" font-size="7.6" text-anchor="start" fill="#231f20" textLength="20.30" lengthAdjust="spacingAndGlyphs">Saline</text>
<path d="M577.00 564.00h7.6" stroke="#2ec4c4" stroke-width="0.8"/>
<rect x="579.30" y="562.50" width="3" height="3" fill="#2ec4c4"/>
<text x="588.50" y="566.10" font-size="7.6" text-anchor="start" fill="#231f20" textLength="16.00" lengthAdjust="spacingAndGlyphs">CNO</text>
<path d="M609.30 553.90H613.20V564.40H610.10" fill="none" stroke="#231f20" stroke-width="0.7"/>
<text x="615.80" y="561.50" font-size="8.6" text-anchor="start" fill="#231f20" textLength="42.30" lengthAdjust="spacingAndGlyphs"><tspan font-style="italic">P</tspan> &lt; 0.0001</text>
<defs><filter id="bl3" x="-20%" y="-20%" width="140%" height="140%"><feGaussianBlur stdDeviation="3"/></filter><filter id="bl1" x="-20%" y="-20%" width="140%" height="140%"><feGaussianBlur stdDeviation="0.9"/></filter></defs>
<svg x="187" y="12" width="136" height="62" viewBox="0 0 136 62" preserveAspectRatio="none">
<rect width="136" height="62" fill="#303030"/>
<g filter="url(#bl3)">
<ellipse cx="88" cy="38" rx="52" ry="20" fill="#3b3b3b"/>
<path d="M-4 48 C4 24, 26 10, 60 7 C90 4, 115 8, 140 18" fill="none" stroke="#444444" stroke-width="7"/>
<ellipse cx="10" cy="40" rx="12" ry="19" fill="#232323"/>
<path d="M58 54 C62 44, 72 40, 85 40 C98 40, 108 44, 114 48 C105 52, 90 53, 75 53 C66 53, 61 55, 58 58Z" fill="#2b2b2b"/>
<path d="M50 36 C58 28, 70 26, 84 27 C100 28, 112 35, 120 43 C110 44, 100 40, 86 37 C72 35, 60 37, 50 42Z" fill="#2a2a2a"/>
<rect x="-5" y="57.5" width="146" height="10" fill="#232323"/>
</g>
<rect x="0" y="0" width="136" height="0.8" fill="#4a4a4a"/>
<circle cx="44.7" cy="10.7" r="0.45" fill="#707070"/>
<circle cx="87.9" cy="6.2" r="0.45" fill="#707070"/>
<circle cx="72.7" cy="23.2" r="0.45" fill="#707070"/>
<circle cx="9.7" cy="31.4" r="0.45" fill="#707070"/>
<circle cx="6.9" cy="27.2" r="0.45" fill="#707070"/>
<circle cx="11.2" cy="7.3" r="0.45" fill="#707070"/>
<circle cx="58.0" cy="50.0" r="0.45" fill="#707070"/>
<circle cx="18.3" cy="14.9" r="0.45" fill="#707070"/>
<circle cx="84.8" cy="57.0" r="0.45" fill="#707070"/>
<circle cx="78.2" cy="25.0" r="0.45" fill="#707070"/>
<circle cx="130.9" cy="4.7" r="0.45" fill="#707070"/>
<circle cx="115.3" cy="18.8" r="0.45" fill="#707070"/>
<circle cx="21.0" cy="8.8" r="0.45" fill="#707070"/>
<circle cx="42.7" cy="49.3" r="0.45" fill="#707070"/>
<circle cx="25.9" cy="35.7" r="0.45" fill="#707070"/>
<circle cx="86.3" cy="23.6" r="0.45" fill="#707070"/>
<circle cx="74.3" cy="5.6" r="0.45" fill="#707070"/>
<circle cx="9.9" cy="13.9" r="0.45" fill="#707070"/>
<circle cx="91.8" cy="26.8" r="0.45" fill="#707070"/>
<circle cx="43.5" cy="36.0" r="0.45" fill="#707070"/>
<circle cx="61.8" cy="19.4" r="0.45" fill="#707070"/>
<circle cx="106.9" cy="42.5" r="0.45" fill="#707070"/>
<circle cx="34.2" cy="35.3" r="0.45" fill="#707070"/>
<circle cx="71.3" cy="52.8" r="0.45" fill="#707070"/>
<circle cx="98.3" cy="18.7" r="0.45" fill="#707070"/>
<circle cx="131.4" cy="8.8" r="0.45" fill="#707070"/>
<circle cx="57.2" cy="45.9" r="0.45" fill="#707070"/>
<circle cx="22.1" cy="30.4" r="0.45" fill="#707070"/>
<circle cx="7.2" cy="40.8" r="0.45" fill="#707070"/>
<circle cx="102.9" cy="35.2" r="0.45" fill="#707070"/>
<circle cx="117.6" cy="20.2" r="0.45" fill="#707070"/>
<circle cx="93.8" cy="36.5" r="0.45" fill="#707070"/>
<circle cx="78.5" cy="28.5" r="0.45" fill="#707070"/>
<circle cx="112.9" cy="56.8" r="0.45" fill="#707070"/>
<circle cx="64.6" cy="40.5" r="0.45" fill="#707070"/>
<circle cx="10.0" cy="42.7" r="0.45" fill="#707070"/>
<circle cx="87.4" cy="59.6" r="0.45" fill="#707070"/>
<circle cx="110.5" cy="18.5" r="0.45" fill="#707070"/>
<circle cx="52.9" cy="40.8" r="0.45" fill="#707070"/>
<circle cx="5.0" cy="28.8" r="0.45" fill="#707070"/>
<circle cx="24.2" cy="8.8" r="0.45" fill="#707070"/>
<circle cx="9.8" cy="46.6" r="0.45" fill="#707070"/>
<circle cx="19.1" cy="16.4" r="0.45" fill="#707070"/>
<circle cx="53.6" cy="52.5" r="0.45" fill="#707070"/>
<circle cx="12.6" cy="28.1" r="0.45" fill="#707070"/>
<circle cx="74.5" cy="53.2" r="0.45" fill="#707070"/>
<circle cx="110.1" cy="52.1" r="0.45" fill="#707070"/>
<circle cx="38.8" cy="26.1" r="0.45" fill="#707070"/>
<circle cx="49.4" cy="53.3" r="0.45" fill="#707070"/>
<circle cx="128.4" cy="10.8" r="0.45" fill="#707070"/>
<circle cx="25.3" cy="15.5" r="0.45" fill="#707070"/>
<circle cx="32.8" cy="30.1" r="0.45" fill="#707070"/>
<circle cx="79.8" cy="17.2" r="0.45" fill="#707070"/>
<circle cx="2.5" cy="26.3" r="0.45" fill="#707070"/>
<circle cx="50.7" cy="34.8" r="0.45" fill="#707070"/>
<circle cx="127.8" cy="42.0" r="0.45" fill="#707070"/>
<circle cx="70.0" cy="37.8" r="0.45" fill="#707070"/>
<circle cx="91.3" cy="5.1" r="0.45" fill="#707070"/>
<circle cx="120.7" cy="47.2" r="0.45" fill="#707070"/>
<circle cx="117.4" cy="48.3" r="0.45" fill="#707070"/>
<circle cx="53.8" cy="25.1" r="0.45" fill="#707070"/>
<circle cx="15.7" cy="38.8" r="0.45" fill="#707070"/>
<circle cx="10.2" cy="5.9" r="0.45" fill="#707070"/>
<circle cx="29.6" cy="11.4" r="0.45" fill="#707070"/>
<circle cx="46.9" cy="5.0" r="0.45" fill="#707070"/>
<circle cx="2.0" cy="10.8" r="0.45" fill="#707070"/>
<circle cx="15.4" cy="23.1" r="0.45" fill="#707070"/>
<circle cx="5.4" cy="52.7" r="0.45" fill="#707070"/>
<circle cx="83.1" cy="10.6" r="0.45" fill="#707070"/>
<circle cx="35.3" cy="22.1" r="0.45" fill="#707070"/>
<circle cx="50.1" cy="9.1" r="0.45" fill="#707070"/>
<circle cx="114.1" cy="59.6" r="0.45" fill="#707070"/>
<circle cx="63.5" cy="30.1" r="0.45" fill="#707070"/>
<circle cx="13.3" cy="7.9" r="0.45" fill="#707070"/>
<circle cx="47.2" cy="17.4" r="0.45" fill="#707070"/>
<circle cx="111.4" cy="11.4" r="0.45" fill="#707070"/>
<circle cx="5.0" cy="57.2" r="0.45" fill="#707070"/>
<circle cx="71.7" cy="10.5" r="0.45" fill="#707070"/>
<circle cx="73.7" cy="3.6" r="0.45" fill="#707070"/>
<circle cx="71.7" cy="58.8" r="0.45" fill="#707070"/>
<path d="M55 30.5 C60 28, 68 25.5, 77.4 25.2 C88 25, 98 28.5, 108 34 C114 37, 120 39.5, 121 41 C121.5 43, 117 45, 111.6 45.6 L103.7 45.9" fill="none" stroke="#d4d4d4" stroke-width="0.75" stroke-dasharray="2.2 1.4"/>
<path d="M58.4 37.7 C62 36, 70 34, 80 33.8 C92 33.8, 103 36.5, 111.6 39.7" fill="none" stroke="#d4d4d4" stroke-width="0.75" stroke-dasharray="2.2 1.4"/>
<path d="M59 55.5 C60 50, 63 45.5, 68.2 43.6 C75 41.5, 90 41.5, 103.7 42.3" fill="none" stroke="#d4d4d4" stroke-width="0.75" stroke-dasharray="2.2 1.4"/>
<path d="M61 54.8 C63 51, 66 48.5, 74.8 46.3 C82 45.5, 95 45.5, 103.7 45.9" fill="none" stroke="#d4d4d4" stroke-width="0.75" stroke-dasharray="2.2 1.4"/>
<text x="99.8" y="28.3" fill="#ececec" font-size="9" textLength="12" lengthAdjust="spacingAndGlyphs">DG</text>
<text x="80" y="46.1" fill="#ececec" font-size="9" textLength="20" lengthAdjust="spacingAndGlyphs">Hilus</text>
<text x="41" y="34.2" fill="#ececec" font-size="9" transform="rotate(-27 41 34.2)" textLength="10" lengthAdjust="spacingAndGlyphs">ML</text>
<text x="43.5" y="42.5" fill="#ececec" font-size="9" transform="rotate(-27 43.5 42.5)" textLength="15.5" lengthAdjust="spacingAndGlyphs">GCL</text>
</svg>
<svg x="325" y="12" width="136" height="62" viewBox="0 0 136 62" preserveAspectRatio="none">
<rect width="136" height="62" fill="#303030"/>
<g filter="url(#bl3)">
<ellipse cx="88" cy="38" rx="52" ry="20" fill="#3b3b3b"/>
<path d="M-4 48 C4 24, 26 10, 60 7 C90 4, 115 8, 140 18" fill="none" stroke="#444444" stroke-width="7"/>
<ellipse cx="10" cy="40" rx="12" ry="19" fill="#232323"/>
<path d="M58 54 C62 44, 72 40, 85 40 C98 40, 108 44, 114 48 C105 52, 90 53, 75 53 C66 53, 61 55, 58 58Z" fill="#2b2b2b"/>
<path d="M50 36 C58 28, 70 26, 84 27 C100 28, 112 35, 120 43 C110 44, 100 40, 86 37 C72 35, 60 37, 50 42Z" fill="#2a2a2a"/>
<rect x="-5" y="57.5" width="146" height="10" fill="#232323"/>
<ellipse cx="22" cy="34" rx="20" ry="16" fill="#3c3c3c"/>
</g>
<rect x="0" y="0" width="136" height="0.8" fill="#4a4a4a"/>
<circle cx="116.0" cy="42.4" r="0.45" fill="#707070"/>
<circle cx="36.5" cy="23.3" r="0.45" fill="#707070"/>
<circle cx="24.0" cy="46.8" r="0.45" fill="#707070"/>
<circle cx="72.3" cy="47.2" r="0.45" fill="#707070"/>
<circle cx="45.5" cy="14.9" r="0.45" fill="#707070"/>
<circle cx="109.1" cy="59.1" r="0.45" fill="#707070"/>
<circle cx="114.5" cy="48.8" r="0.45" fill="#707070"/>
<circle cx="110.0" cy="44.9" r="0.45" fill="#707070"/>
<circle cx="31.9" cy="32.0" r="0.45" fill="#707070"/>
<circle cx="48.9" cy="3.7" r="0.45" fill="#707070"/>
<circle cx="5.7" cy="18.2" r="0.45" fill="#707070"/>
<circle cx="36.2" cy="42.2" r="0.45" fill="#707070"/>
<circle cx="128.3" cy="27.9" r="0.45" fill="#707070"/>
<circle cx="125.7" cy="59.3" r="0.45" fill="#707070"/>
<circle cx="128.1" cy="23.1" r="0.45" fill="#707070"/>
<circle cx="31.1" cy="15.2" r="0.45" fill="#707070"/>
<circle cx="28.0" cy="13.9" r="0.45" fill="#707070"/>
<circle cx="84.4" cy="54.2" r="0.45" fill="#707070"/>
<circle cx="112.9" cy="29.8" r="0.45" fill="#707070"/>
<circle cx="88.2" cy="48.4" r="0.45" fill="#707070"/>
<circle cx="13.2" cy="40.3" r="0.45" fill="#707070"/>
<circle cx="122.1" cy="47.4" r="0.45" fill="#707070"/>
<circle cx="101.0" cy="29.7" r="0.45" fill="#707070"/>
<circle cx="25.6" cy="47.8" r="0.45" fill="#707070"/>
<circle cx="45.9" cy="48.4" r="0.45" fill="#707070"/>
<circle cx="130.3" cy="25.0" r="0.45" fill="#707070"/>
<circle cx="55.0" cy="56.9" r="0.45" fill="#707070"/>
<circle cx="97.7" cy="11.9" r="0.45" fill="#707070"/>
<circle cx="18.8" cy="10.8" r="0.45" fill="#707070"/>
<circle cx="121.4" cy="48.8" r="0.45" fill="#707070"/>
<circle cx="21.3" cy="49.9" r="0.45" fill="#707070"/>
<circle cx="131.4" cy="40.1" r="0.45" fill="#707070"/>
<circle cx="48.3" cy="33.8" r="0.45" fill="#707070"/>
<circle cx="19.3" cy="2.8" r="0.45" fill="#707070"/>
<circle cx="130.2" cy="39.7" r="0.45" fill="#707070"/>
<circle cx="71.5" cy="56.2" r="0.45" fill="#707070"/>
<circle cx="59.3" cy="52.6" r="0.45" fill="#707070"/>
<circle cx="111.1" cy="14.2" r="0.45" fill="#707070"/>
<circle cx="35.2" cy="19.0" r="0.45" fill="#707070"/>
<circle cx="33.8" cy="36.0" r="0.45" fill="#707070"/>
<circle cx="36.2" cy="26.3" r="0.45" fill="#707070"/>
<circle cx="19.3" cy="54.8" r="0.45" fill="#707070"/>
<circle cx="48.7" cy="28.6" r="0.45" fill="#707070"/>
<circle cx="79.0" cy="54.4" r="0.45" fill="#707070"/>
<circle cx="57.5" cy="55.2" r="0.45" fill="#707070"/>
<circle cx="68.2" cy="32.8" r="0.45" fill="#707070"/>
<circle cx="71.1" cy="3.1" r="0.45" fill="#707070"/>
<circle cx="60.1" cy="12.6" r="0.45" fill="#707070"/>
<circle cx="2.5" cy="48.4" r="0.45" fill="#707070"/>
<circle cx="24.7" cy="29.5" r="0.45" fill="#707070"/>
<circle cx="97.7" cy="34.3" r="0.45" fill="#707070"/>
<circle cx="45.0" cy="32.1" r="0.45" fill="#707070"/>
<circle cx="75.3" cy="47.5" r="0.45" fill="#707070"/>
<circle cx="16.0" cy="34.5" r="0.45" fill="#707070"/>
<circle cx="34.8" cy="18.1" r="0.45" fill="#707070"/>
<circle cx="103.9" cy="31.4" r="0.45" fill="#707070"/>
<circle cx="76.1" cy="46.1" r="0.45" fill="#707070"/>
<circle cx="122.4" cy="27.7" r="0.45" fill="#707070"/>
<circle cx="82.9" cy="31.3" r="0.45" fill="#707070"/>
<circle cx="69.6" cy="42.2" r="0.45" fill="#707070"/>
<circle cx="61.7" cy="32.9" r="0.45" fill="#707070"/>
<circle cx="65.1" cy="56.6" r="0.45" fill="#707070"/>
<circle cx="94.3" cy="52.8" r="0.45" fill="#707070"/>
<circle cx="126.4" cy="17.1" r="0.45" fill="#707070"/>
<circle cx="75.9" cy="56.7" r="0.45" fill="#707070"/>
<circle cx="112.9" cy="10.0" r="0.45" fill="#707070"/>
<circle cx="18.1" cy="27.6" r="0.45" fill="#707070"/>
<circle cx="11.6" cy="16.0" r="0.45" fill="#707070"/>
<circle cx="11.7" cy="40.8" r="0.45" fill="#707070"/>
<circle cx="105.5" cy="54.0" r="0.45" fill="#707070"/>
<circle cx="22.4" cy="43.5" r="0.45" fill="#707070"/>
<circle cx="89.2" cy="10.3" r="0.45" fill="#707070"/>
<circle cx="118.5" cy="58.1" r="0.45" fill="#707070"/>
<circle cx="31.0" cy="57.2" r="0.45" fill="#707070"/>
<circle cx="54.6" cy="30.3" r="0.45" fill="#707070"/>
<circle cx="132.7" cy="50.3" r="0.45" fill="#707070"/>
<circle cx="23.3" cy="27.0" r="0.45" fill="#707070"/>
<circle cx="70.1" cy="21.7" r="0.45" fill="#707070"/>
<circle cx="27.8" cy="20.5" r="0.45" fill="#707070"/>
<circle cx="97.3" cy="3.1" r="0.45" fill="#707070"/>
<path d="M52.6 31.8 C58 27, 63 24.5, 69.5 23.8 C76 23.2, 82 24.5, 87.4 25.8 C95 28, 101 31.5, 107.2 34.7 C114 38.5, 120 41.5, 123.1 44.7 C125.5 47, 124 50.5, 119.1 52 C113 53, 108 52.8, 103.2 52.6 C95 52.3, 87 51.8, 79.4 52 C70 52.5, 64 54, 60.6 55.6" fill="none" stroke="#d4d4d4" stroke-width="0.75" stroke-dasharray="2.2 1.4"/>
<path d="M55.6 36.7 C60 34.5, 64 33.2, 69.5 32.8 C76 32.5, 83 34, 89.3 35.7 C96 37.5, 102 40, 107.2 42.7 C109.5 44, 111 46, 111.2 47.6" fill="none" stroke="#d4d4d4" stroke-width="0.75" stroke-dasharray="2.2 1.4"/>
<path d="M59.6 56.6 C61 52, 62.5 49.5, 65.5 47.6 C70 45, 75 44, 79.4 43.7 C90 43.5, 102 45, 111.2 47.6" fill="none" stroke="#d4d4d4" stroke-width="0.75" stroke-dasharray="2.2 1.4"/>
<text x="110.2" y="28.6" fill="#ececec" font-size="9" textLength="12" lengthAdjust="spacingAndGlyphs">DG</text>
<text x="79.4" y="45.9" fill="#ececec" font-size="9" textLength="20" lengthAdjust="spacingAndGlyphs">Hilus</text>
<text x="40.5" y="36.2" fill="#ececec" font-size="9" transform="rotate(-27 40.5 36.2)" textLength="10" lengthAdjust="spacingAndGlyphs">ML</text>
<text x="43.3" y="43.4" fill="#ececec" font-size="9" transform="rotate(-27 43.3 43.4)" textLength="15.5" lengthAdjust="spacingAndGlyphs">GCL</text>
</svg>
<svg x="187" y="86" width="136" height="62" viewBox="0 0 136 62" preserveAspectRatio="none">
<rect width="136" height="62" fill="#303030"/>
<g filter="url(#bl3)">
<ellipse cx="88" cy="38" rx="52" ry="20" fill="#3b3b3b"/>
<path d="M-4 48 C4 24, 26 10, 60 7 C90 4, 115 8, 140 18" fill="none" stroke="#444444" stroke-width="7"/>
<ellipse cx="10" cy="40" rx="12" ry="19" fill="#232323"/>
<path d="M58 54 C62 44, 72 40, 85 40 C98 40, 108 44, 114 48 C105 52, 90 53, 75 53 C66 53, 61 55, 58 58Z" fill="#2b2b2b"/>
<path d="M50 36 C58 28, 70 26, 84 27 C100 28, 112 35, 120 43 C110 44, 100 40, 86 37 C72 35, 60 37, 50 42Z" fill="#2a2a2a"/>
<rect x="-5" y="57.5" width="146" height="10" fill="#232323"/>
</g>
<rect x="0" y="0" width="136" height="0.8" fill="#4a4a4a"/>
<circle cx="75.1" cy="27.5" r="0.45" fill="#707070"/>
<circle cx="4.4" cy="21.2" r="0.45" fill="#707070"/>
<circle cx="84.4" cy="31.7" r="0.45" fill="#707070"/>
<circle cx="10.5" cy="59.1" r="0.45" fill="#707070"/>
<circle cx="106.1" cy="58.4" r="0.45" fill="#707070"/>
<circle cx="15.8" cy="17.4" r="0.45" fill="#707070"/>
<circle cx="7.2" cy="47.2" r="0.45" fill="#707070"/>
<circle cx="37.7" cy="9.5" r="0.45" fill="#707070"/>
<circle cx="57.7" cy="54.9" r="0.45" fill="#707070"/>
<circle cx="110.1" cy="17.0" r="0.45" fill="#707070"/>
<circle cx="21.7" cy="55.3" r="0.45" fill="#707070"/>
<circle cx="77.3" cy="42.6" r="0.45" fill="#707070"/>
<circle cx="13.8" cy="5.3" r="0.45" fill="#707070"/>
<circle cx="92.8" cy="26.7" r="0.45" fill="#707070"/>
<circle cx="11.6" cy="56.4" r="0.45" fill="#707070"/>
<circle cx="85.7" cy="48.5" r="0.45" fill="#707070"/>
<circle cx="13.1" cy="51.7" r="0.45" fill="#707070"/>
<circle cx="10.8" cy="52.0" r="0.45" fill="#707070"/>
<circle cx="61.9" cy="21.7" r="0.45" fill="#707070"/>
<circle cx="75.0" cy="55.7" r="0.45" fill="#707070"/>
<circle cx="37.4" cy="9.5" r="0.45" fill="#707070"/>
<circle cx="71.6" cy="15.8" r="0.45" fill="#707070"/>
<circle cx="16.4" cy="11.4" r="0.45" fill="#707070"/>
<circle cx="8.7" cy="13.7" r="0.45" fill="#707070"/>
<circle cx="43.2" cy="19.7" r="0.45" fill="#707070"/>
<circle cx="102.3" cy="18.8" r="0.45" fill="#707070"/>
<circle cx="68.0" cy="12.3" r="0.45" fill="#707070"/>
<circle cx="47.8" cy="3.1" r="0.45" fill="#707070"/>
<circle cx="35.1" cy="2.9" r="0.45" fill="#707070"/>
<circle cx="98.8" cy="34.0" r="0.45" fill="#707070"/>
<circle cx="27.0" cy="29.5" r="0.45" fill="#707070"/>
<circle cx="125.4" cy="8.2" r="0.45" fill="#707070"/>
<circle cx="110.1" cy="27.1" r="0.45" fill="#707070"/>
<circle cx="67.3" cy="50.4" r="0.45" fill="#707070"/>
<circle cx="53.9" cy="31.4" r="0.45" fill="#707070"/>
<circle cx="92.8" cy="59.0" r="0.45" fill="#707070"/>
<circle cx="47.2" cy="50.3" r="0.45" fill="#707070"/>
<circle cx="95.3" cy="38.9" r="0.45" fill="#707070"/>
<circle cx="55.4" cy="22.2" r="0.45" fill="#707070"/>
<circle cx="9.2" cy="9.5" r="0.45" fill="#707070"/>
<circle cx="11.3" cy="45.0" r="0.45" fill="#707070"/>
<circle cx="35.7" cy="11.5" r="0.45" fill="#707070"/>
<circle cx="13.2" cy="50.8" r="0.45" fill="#707070"/>
<circle cx="116.9" cy="40.9" r="0.45" fill="#707070"/>
<circle cx="39.2" cy="16.0" r="0.45" fill="#707070"/>
<circle cx="40.7" cy="28.6" r="0.45" fill="#707070"/>
<circle cx="22.8" cy="27.9" r="0.45" fill="#707070"/>
<circle cx="36.7" cy="57.8" r="0.45" fill="#707070"/>
<circle cx="130.4" cy="33.7" r="0.45" fill="#707070"/>
<circle cx="34.3" cy="58.0" r="0.45" fill="#707070"/>
<circle cx="42.9" cy="22.7" r="0.45" fill="#707070"/>
<circle cx="2.1" cy="24.1" r="0.45" fill="#707070"/>
<circle cx="64.7" cy="31.2" r="0.45" fill="#707070"/>
<circle cx="28.5" cy="31.3" r="0.45" fill="#707070"/>
<circle cx="2.7" cy="17.3" r="0.45" fill="#707070"/>
<circle cx="13.8" cy="25.2" r="0.45" fill="#707070"/>
<circle cx="7.5" cy="3.3" r="0.45" fill="#707070"/>
<circle cx="42.2" cy="15.5" r="0.45" fill="#707070"/>
<circle cx="79.3" cy="32.7" r="0.45" fill="#707070"/>
<circle cx="101.1" cy="40.1" r="0.45" fill="#707070"/>
<circle cx="96.5" cy="53.0" r="0.45" fill="#707070"/>
<circle cx="53.4" cy="20.9" r="0.45" fill="#707070"/>
<circle cx="132.0" cy="10.7" r="0.45" fill="#707070"/>
<circle cx="97.6" cy="39.3" r="0.45" fill="#707070"/>
<circle cx="7.8" cy="50.4" r="0.45" fill="#707070"/>
<circle cx="119.7" cy="38.4" r="0.45" fill="#707070"/>
<circle cx="98.9" cy="49.1" r="0.45" fill="#707070"/>
<circle cx="20.4" cy="32.4" r="0.45" fill="#707070"/>
<circle cx="68.6" cy="50.4" r="0.45" fill="#707070"/>
<circle cx="108.2" cy="49.9" r="0.45" fill="#707070"/>
<circle cx="79.1" cy="53.8" r="0.45" fill="#707070"/>
<circle cx="92.1" cy="42.2" r="0.45" fill="#707070"/>
<circle cx="32.4" cy="3.8" r="0.45" fill="#707070"/>
<circle cx="19.6" cy="22.9" r="0.45" fill="#707070"/>
<circle cx="15.8" cy="50.5" r="0.45" fill="#707070"/>
<circle cx="75.7" cy="38.4" r="0.45" fill="#707070"/>
<circle cx="84.7" cy="41.5" r="0.45" fill="#707070"/>
<circle cx="66.6" cy="2.2" r="0.45" fill="#707070"/>
<circle cx="107.3" cy="45.4" r="0.45" fill="#707070"/>
<circle cx="68.4" cy="33.0" r="0.45" fill="#707070"/>
<path d="M57.6 29.8 C62 26.5, 65 24.5, 69.5 23.8 C76 23, 82 22.6, 89.3 22.8 C97 23.2, 104 25.5, 111.2 27.8 C117 29.8, 122 31.5, 125.1 33.8 C127.5 35.5, 127.5 37.5, 127.1 38.7 C125 40.5, 122 41.8, 119.1 42.7 C112 44.3, 105 45, 99.3 45.7" fill="none" stroke="#d4d4d4" stroke-width="0.75" stroke-dasharray="2.2 1.4"/>
<path d="M61.5 33.8 C66 32, 70 31, 75.4 30.8 C82 30.6, 89 31.5, 95.3 32.8 C102 34, 107 35.3, 111.2 36.7" fill="none" stroke="#d4d4d4" stroke-width="0.75" stroke-dasharray="2.2 1.4"/>
<path d="M63.5 56.6 C63.5 53.5, 64 51.5, 65.5 49.6 C68 46.5, 71.5 44, 75.4 42.7 C82 40.8, 90 41, 99.3 42.3" fill="none" stroke="#d4d4d4" stroke-width="0.75" stroke-dasharray="2.2 1.4"/>
<path d="M65.5 56 C72 53.5, 80 52.5, 89.3 51.6 C100 50.5, 110 46, 119.1 42.7" fill="none" stroke="#d4d4d4" stroke-width="0.75" stroke-dasharray="2.2 1.4"/>
<text x="105.2" y="21.6" fill="#ececec" font-size="9" textLength="12" lengthAdjust="spacingAndGlyphs">DG</text>
<text x="82.4" y="43.9" fill="#ececec" font-size="9" textLength="20" lengthAdjust="spacingAndGlyphs">Hilus</text>
<text x="43.5" y="33.6" fill="#ececec" font-size="9" transform="rotate(-27 43.5 33.6)" textLength="10" lengthAdjust="spacingAndGlyphs">ML</text>
<text x="46.2" y="41.5" fill="#ececec" font-size="9" transform="rotate(-27 46.2 41.5)" textLength="15.5" lengthAdjust="spacingAndGlyphs">GCL</text>
</svg>
<svg x="325" y="86" width="136" height="62" viewBox="0 0 136 62" preserveAspectRatio="none">
<rect width="136" height="62" fill="#303030"/>
<g filter="url(#bl3)">
<ellipse cx="88" cy="38" rx="52" ry="20" fill="#3b3b3b"/>
<path d="M-4 48 C4 24, 26 10, 60 7 C90 4, 115 8, 140 18" fill="none" stroke="#444444" stroke-width="7"/>
<ellipse cx="10" cy="40" rx="12" ry="19" fill="#232323"/>
<path d="M58 54 C62 44, 72 40, 85 40 C98 40, 108 44, 114 48 C105 52, 90 53, 75 53 C66 53, 61 55, 58 58Z" fill="#2b2b2b"/>
<path d="M50 36 C58 28, 70 26, 84 27 C100 28, 112 35, 120 43 C110 44, 100 40, 86 37 C72 35, 60 37, 50 42Z" fill="#2a2a2a"/>
<rect x="-5" y="57.5" width="146" height="10" fill="#232323"/>
<ellipse cx="30" cy="30" rx="26" ry="16" fill="#3a3a3a"/>
</g>
<rect x="0" y="0" width="136" height="0.8" fill="#4a4a4a"/>
<circle cx="89.0" cy="5.8" r="0.45" fill="#707070"/>
<circle cx="99.3" cy="16.6" r="0.45" fill="#707070"/>
<circle cx="11.8" cy="17.4" r="0.45" fill="#707070"/>
<circle cx="98.3" cy="13.9" r="0.45" fill="#707070"/>
<circle cx="99.7" cy="58.6" r="0.45" fill="#707070"/>
<circle cx="67.2" cy="24.2" r="0.45" fill="#707070"/>
<circle cx="65.2" cy="41.7" r="0.45" fill="#707070"/>
<circle cx="103.2" cy="37.8" r="0.45" fill="#707070"/>
<circle cx="86.8" cy="6.5" r="0.45" fill="#707070"/>
<circle cx="21.5" cy="16.7" r="0.45" fill="#707070"/>
<circle cx="100.1" cy="19.7" r="0.45" fill="#707070"/>
<circle cx="76.9" cy="2.7" r="0.45" fill="#707070"/>
<circle cx="10.0" cy="17.6" r="0.45" fill="#707070"/>
<circle cx="90.7" cy="42.1" r="0.45" fill="#707070"/>
<circle cx="91.2" cy="18.9" r="0.45" fill="#707070"/>
<circle cx="70.2" cy="29.0" r="0.45" fill="#707070"/>
<circle cx="63.6" cy="8.9" r="0.45" fill="#707070"/>
<circle cx="120.0" cy="13.6" r="0.45" fill="#707070"/>
<circle cx="131.1" cy="56.3" r="0.45" fill="#707070"/>
<circle cx="4.3" cy="28.6" r="0.45" fill="#707070"/>
<circle cx="110.2" cy="58.2" r="0.45" fill="#707070"/>
<circle cx="61.3" cy="17.6" r="0.45" fill="#707070"/>
<circle cx="29.7" cy="56.8" r="0.45" fill="#707070"/>
<circle cx="29.8" cy="35.7" r="0.45" fill="#707070"/>
<circle cx="20.7" cy="32.4" r="0.45" fill="#707070"/>
<circle cx="127.8" cy="9.7" r="0.45" fill="#707070"/>
<circle cx="110.3" cy="31.5" r="0.45" fill="#707070"/>
<circle cx="119.1" cy="42.8" r="0.45" fill="#707070"/>
<circle cx="32.5" cy="54.1" r="0.45" fill="#707070"/>
<circle cx="66.2" cy="3.4" r="0.45" fill="#707070"/>
<circle cx="2.5" cy="30.5" r="0.45" fill="#707070"/>
<circle cx="61.5" cy="19.5" r="0.45" fill="#707070"/>
<circle cx="20.6" cy="21.9" r="0.45" fill="#707070"/>
<circle cx="43.7" cy="50.7" r="0.45" fill="#707070"/>
<circle cx="2.2" cy="45.5" r="0.45" fill="#707070"/>
<circle cx="112.8" cy="9.0" r="0.45" fill="#707070"/>
<circle cx="124.3" cy="43.4" r="0.45" fill="#707070"/>
<circle cx="121.0" cy="18.8" r="0.45" fill="#707070"/>
<circle cx="51.1" cy="24.8" r="0.45" fill="#707070"/>
<circle cx="133.8" cy="36.2" r="0.45" fill="#707070"/>
<circle cx="49.6" cy="26.8" r="0.45" fill="#707070"/>
<circle cx="38.3" cy="4.8" r="0.45" fill="#707070"/>
<circle cx="15.4" cy="50.4" r="0.45" fill="#707070"/>
<circle cx="39.7" cy="56.3" r="0.45" fill="#707070"/>
<circle cx="34.9" cy="17.4" r="0.45" fill="#707070"/>
<circle cx="69.4" cy="13.0" r="0.45" fill="#707070"/>
<circle cx="51.3" cy="57.5" r="0.45" fill="#707070"/>
<circle cx="118.7" cy="49.1" r="0.45" fill="#707070"/>
<circle cx="85.3" cy="55.0" r="0.45" fill="#707070"/>
<circle cx="126.2" cy="33.9" r="0.45" fill="#707070"/>
<circle cx="97.0" cy="4.9" r="0.45" fill="#707070"/>
<circle cx="98.7" cy="28.1" r="0.45" fill="#707070"/>
<circle cx="101.4" cy="39.4" r="0.45" fill="#707070"/>
<circle cx="39.8" cy="4.8" r="0.45" fill="#707070"/>
<circle cx="124.3" cy="9.4" r="0.45" fill="#707070"/>
<circle cx="64.3" cy="21.9" r="0.45" fill="#707070"/>
<circle cx="41.3" cy="44.9" r="0.45" fill="#707070"/>
<circle cx="130.9" cy="17.1" r="0.45" fill="#707070"/>
<circle cx="88.6" cy="19.4" r="0.45" fill="#707070"/>
<circle cx="75.6" cy="24.9" r="0.45" fill="#707070"/>
<circle cx="24.1" cy="11.4" r="0.45" fill="#707070"/>
<circle cx="29.4" cy="54.5" r="0.45" fill="#707070"/>
<circle cx="67.6" cy="14.8" r="0.45" fill="#707070"/>
<circle cx="121.6" cy="59.8" r="0.45" fill="#707070"/>
<circle cx="61.4" cy="10.1" r="0.45" fill="#707070"/>
<circle cx="27.4" cy="7.3" r="0.45" fill="#707070"/>
<circle cx="47.1" cy="7.3" r="0.45" fill="#707070"/>
<circle cx="33.6" cy="17.0" r="0.45" fill="#707070"/>
<circle cx="77.2" cy="53.5" r="0.45" fill="#707070"/>
<circle cx="101.0" cy="25.9" r="0.45" fill="#707070"/>
<circle cx="56.6" cy="32.4" r="0.45" fill="#707070"/>
<circle cx="51.7" cy="21.6" r="0.45" fill="#707070"/>
<circle cx="10.2" cy="18.1" r="0.45" fill="#707070"/>
<circle cx="129.7" cy="9.3" r="0.45" fill="#707070"/>
<circle cx="68.4" cy="38.5" r="0.45" fill="#707070"/>
<circle cx="115.9" cy="14.5" r="0.45" fill="#707070"/>
<circle cx="37.8" cy="16.4" r="0.45" fill="#707070"/>
<circle cx="54.8" cy="27.9" r="0.45" fill="#707070"/>
<circle cx="127.9" cy="51.2" r="0.45" fill="#707070"/>
<circle cx="117.2" cy="3.3" r="0.45" fill="#707070"/>
<path d="M47.6 32.8 C52 27.5, 57 23.5, 63.5 21.8 C69 21, 74 21.8, 79.4 22.8 C86 24.5, 93 27.5, 99.3 29.8 C106 32.5, 113 34.8, 119.1 36.7 C124 38, 129 38, 132 38.7 C133 40.5, 132.5 42.5, 131 43.7 C128 45.5, 126 47, 123.1 47.6" fill="none" stroke="#d4d4d4" stroke-width="0.75" stroke-dasharray="2.2 1.4"/>
<path d="M54.6 37.7 C59 35, 64 33.3, 69.5 32.8 C76 32.3, 83 33.5, 89.3 34.7 C97 36.3, 103 39.3, 109.2 41.7 C112.5 43, 116 43.5, 119.1 43.7" fill="none" stroke="#d4d4d4" stroke-width="0.75" stroke-dasharray="2.2 1.4"/>
<path d="M62.5 54.6 C62.5 51, 63.5 48.5, 65.5 46.7 C70 43.5, 76 42.5, 82 42.8 C95 43.5, 108 43.8, 119.1 44.3" fill="none" stroke="#d4d4d4" stroke-width="0.75" stroke-dasharray="2.2 1.4"/>
<path d="M63.5 54.6 C68 53, 74 52, 79.4 51.6 C90 50.8, 100 50, 109.2 49.6 C114 49.3, 119 49, 123.1 48.6" fill="none" stroke="#d4d4d4" stroke-width="0.75" stroke-dasharray="2.2 1.4"/>
<text x="113.2" y="28.6" fill="#ececec" font-size="9" textLength="12" lengthAdjust="spacingAndGlyphs">DG</text>
<text x="76.4" y="45.9" fill="#ececec" font-size="9" textLength="20" lengthAdjust="spacingAndGlyphs">Hilus</text>
<text x="35.5" y="36.2" fill="#ececec" font-size="9" transform="rotate(-27 35.5 36.2)" textLength="10" lengthAdjust="spacingAndGlyphs">ML</text>
<text x="42.3" y="44.4" fill="#ececec" font-size="9" transform="rotate(-27 42.3 44.4)" textLength="15.5" lengthAdjust="spacingAndGlyphs">GCL</text>
</svg>
<rect x="449.6" y="141.7" width="9.9" height="2.4" fill="#fff"/>
<text x="254.50" y="8.60" font-size="8.2" text-anchor="middle" fill="#d43ad6" textLength="23.50" lengthAdjust="spacingAndGlyphs">Sugar</text>
<text x="392.70" y="8.60" font-size="8.2" text-anchor="middle" fill="#2aa6c6" textLength="12.00" lengthAdjust="spacingAndGlyphs">Fat</text>
<text x="184.30" y="43.80" font-size="8.4" text-anchor="middle" fill="#231f20" textLength="22.20" lengthAdjust="spacingAndGlyphs" transform="rotate(-90 184.30 43.80)">Intact</text>
<text x="183.60" y="116.60" font-size="8.4" text-anchor="middle" fill="#231f20" textLength="41.40" lengthAdjust="spacingAndGlyphs" transform="rotate(-90 183.60 116.60)">Caspase 3</text>
<path d="M511.2 29.6V120.6H550.8" fill="none" stroke="#9a9a9a" stroke-width="0.9"/>
<path d="M506.59999999999997 120.60H511.2" stroke="#9a9a9a" stroke-width="0.9"/>
<text x="503.80" y="123.20" font-size="7.3" text-anchor="end" fill="#231f20">0</text>
<path d="M506.59999999999997 102.40H511.2" stroke="#9a9a9a" stroke-width="0.9"/>
<text x="503.80" y="105.00" font-size="7.3" text-anchor="end" fill="#231f20">25</text>
<path d="M506.59999999999997 84.20H511.2" stroke="#9a9a9a" stroke-width="0.9"/>
<text x="503.80" y="86.80" font-size="7.3" text-anchor="end" fill="#231f20">50</text>
<path d="M506.59999999999997 66.00H511.2" stroke="#9a9a9a" stroke-width="0.9"/>
<text x="503.80" y="68.60" font-size="7.3" text-anchor="end" fill="#231f20">75</text>
<path d="M506.59999999999997 47.80H511.2" stroke="#9a9a9a" stroke-width="0.9"/>
<text x="503.80" y="50.40" font-size="7.3" text-anchor="end" fill="#231f20">100</text>
<path d="M506.59999999999997 29.60H511.2" stroke="#9a9a9a" stroke-width="0.9"/>
<text x="503.80" y="32.20" font-size="7.3" text-anchor="end" fill="#231f20">125</text>
<rect x="517.40" y="80.56" width="9.80" height="40.04" fill="#da8cf5" stroke="#2a2a2a" stroke-width="1.3"/>
<path d="M522.30 120.6V125.6" stroke="#9a9a9a" stroke-width="0.9"/>
<rect x="533.60" y="106.40" width="10.40" height="14.20" fill="#ffffff" stroke="#2a2a2a" stroke-width="1.3"/>
<path d="M538.80 120.6V125.6" stroke="#9a9a9a" stroke-width="0.9"/>
<circle cx="522.1" cy="42.9" r="2.5" fill="#b251dc"/>
<circle cx="520.8" cy="65.1" r="2.5" fill="#b251dc"/>
<circle cx="523.2" cy="69.2" r="2.5" fill="#b251dc"/>
<circle cx="521.9" cy="74" r="2.5" fill="#b251dc"/>
<circle cx="518.7" cy="79.3" r="2.5" fill="#b251dc"/>
<circle cx="521.9" cy="80" r="2.5" fill="#b251dc"/>
<circle cx="525.7" cy="79.3" r="2.5" fill="#b251dc"/>
<circle cx="522.1" cy="87.4" r="2.5" fill="#b251dc"/>
<circle cx="523.6" cy="96.3" r="2.5" fill="#b251dc"/>
<circle cx="520.8" cy="98.4" r="2.5" fill="#b251dc"/>
<circle cx="519.5" cy="82" r="2.5" fill="#b251dc"/>
<circle cx="524.8" cy="82.5" r="2.5" fill="#b251dc"/>
<circle cx="538.9" cy="95.6" r="2.0" fill="none" stroke="#b251dc" stroke-width="1.1"/>
<circle cx="542" cy="101.6" r="2.0" fill="none" stroke="#b251dc" stroke-width="1.1"/>
<circle cx="535.7" cy="105.8" r="2.0" fill="none" stroke="#b251dc" stroke-width="1.1"/>
<circle cx="539.5" cy="105.8" r="2.0" fill="none" stroke="#b251dc" stroke-width="1.1"/>
<circle cx="542.7" cy="106.9" r="2.0" fill="none" stroke="#b251dc" stroke-width="1.1"/>
<circle cx="538.4" cy="113.2" r="2.0" fill="none" stroke="#b251dc" stroke-width="1.1"/>
<path d="M522.2 36V29.6H538.9V90" fill="none" stroke="#9a9a9a" stroke-width="0.9"/>
<text x="530.55" y="25.00" font-size="7.6" text-anchor="middle" fill="#231f20" textLength="24.50" lengthAdjust="spacingAndGlyphs">0.0003</text>
<text x="474.40" y="75.10" font-size="8.9" text-anchor="middle" fill="#231f20" textLength="94.00" lengthAdjust="spacingAndGlyphs" transform="rotate(-90 474.40 75.10)">Number of dHPC TRAP<tspan font-size="4.5" dy="-3">+</tspan></text>
<text x="484.90" y="75.10" font-size="8.9" text-anchor="middle" fill="#231f20" textLength="66.60" lengthAdjust="spacingAndGlyphs" transform="rotate(-90 484.90 75.10)">neurons per side</text>
<text x="527.5" y="131.0" font-size="8.2" fill="#231f20" text-anchor="end" transform="rotate(-45 527.5 131.0)">Sugar<tspan font-size="5" dy="-3.4">Con</tspan></text>
<text x="543.7" y="131.0" font-size="8.2" fill="#231f20" text-anchor="end" transform="rotate(-45 543.7 131.0)">Sugar<tspan font-size="5" dy="-3.4">Casp3</tspan></text>
<path d="M605.0 25.1V120.3H650.6" fill="none" stroke="#9a9a9a" stroke-width="0.9"/>
<path d="M600.4 120.30H605.0" stroke="#9a9a9a" stroke-width="0.9"/>
<text x="597.60" y="122.90" font-size="7.3" text-anchor="end" fill="#231f20">0</text>
<path d="M600.4 101.26H605.0" stroke="#9a9a9a" stroke-width="0.9"/>
<text x="597.60" y="103.86" font-size="7.3" text-anchor="end" fill="#231f20">25</text>
<path d="M600.4 82.22H605.0" stroke="#9a9a9a" stroke-width="0.9"/>
<text x="597.60" y="84.82" font-size="7.3" text-anchor="end" fill="#231f20">50</text>
<path d="M600.4 63.18H605.0" stroke="#9a9a9a" stroke-width="0.9"/>
<text x="597.60" y="65.78" font-size="7.3" text-anchor="end" fill="#231f20">75</text>
<path d="M600.4 44.14H605.0" stroke="#9a9a9a" stroke-width="0.9"/>
<text x="597.60" y="46.74" font-size="7.3" text-anchor="end" fill="#231f20">100</text>
<path d="M600.4 25.10H605.0" stroke="#9a9a9a" stroke-width="0.9"/>
<text x="597.60" y="27.70" font-size="7.3" text-anchor="end" fill="#231f20">125</text>
<rect x="611.70" y="81.00" width="12.00" height="39.30" fill="#80f6f6" stroke="#2a2a2a" stroke-width="1.3"/>
<path d="M617.70 120.3V125.3" stroke="#9a9a9a" stroke-width="0.9"/>
<rect x="631.60" y="103.16" width="11.10" height="17.14" fill="#ffffff" stroke="#2a2a2a" stroke-width="1.3"/>
<path d="M637.15 120.3V125.3" stroke="#9a9a9a" stroke-width="0.9"/>
<rect x="615.1" y="58.0" width="5.6" height="5.6" fill="#18c1c8"/>
<rect x="615.1" y="68.60000000000001" width="5.6" height="5.6" fill="#18c1c8"/>
<rect x="610.7" y="77.60000000000001" width="5.6" height="5.6" fill="#18c1c8"/>
<rect x="615.1" y="76.60000000000001" width="5.6" height="5.6" fill="#18c1c8"/>
<rect x="619.2" y="77.10000000000001" width="5.6" height="5.6" fill="#18c1c8"/>
<rect x="615.1" y="80.3" width="5.6" height="5.6" fill="#18c1c8"/>
<rect x="615.1" y="90.9" width="5.6" height="5.6" fill="#18c1c8"/>
<rect x="615.1" y="97.2" width="5.6" height="5.6" fill="#18c1c8"/>
<rect x="612.2" y="79.7" width="5.6" height="5.6" fill="#18c1c8"/>
<rect x="618.0" y="79.7" width="5.6" height="5.6" fill="#18c1c8"/>
<rect x="634.7" y="91.7" width="4.6" height="4.6" fill="none" stroke="#18c1c8" stroke-width="1.1"/>
<rect x="634.7" y="96.7" width="4.6" height="4.6" fill="none" stroke="#18c1c8" stroke-width="1.1"/>
<rect x="630.5" y="104.10000000000001" width="4.6" height="4.6" fill="none" stroke="#18c1c8" stroke-width="1.1"/>
<rect x="639.2" y="104.60000000000001" width="4.6" height="4.6" fill="none" stroke="#18c1c8" stroke-width="1.1"/>
<rect x="634.5" y="101.4" width="4.6" height="4.6" fill="none" stroke="#18c1c8" stroke-width="1.1"/>
<rect x="631.2" y="100.2" width="4.6" height="4.6" fill="none" stroke="#18c1c8" stroke-width="1.1"/>
<rect x="638.2" y="100.2" width="4.6" height="4.6" fill="none" stroke="#18c1c8" stroke-width="1.1"/>
<path d="M617.6 53.3V47.2H637.0V86.8" fill="none" stroke="#9a9a9a" stroke-width="0.9"/>
<text x="627.30" y="42.60" font-size="7.6" text-anchor="middle" fill="#231f20" textLength="24.50" lengthAdjust="spacingAndGlyphs">0.0005</text>
<text x="567.60" y="72.70" font-size="8.9" text-anchor="middle" fill="#231f20" textLength="94.00" lengthAdjust="spacingAndGlyphs" transform="rotate(-90 567.60 72.70)">Number of dHPC TRAP<tspan font-size="4.5" dy="-3">+</tspan></text>
<text x="578.30" y="72.70" font-size="8.9" text-anchor="middle" fill="#231f20" textLength="66.60" lengthAdjust="spacingAndGlyphs" transform="rotate(-90 578.30 72.70)">neurons per side</text>
<text x="622.8" y="131.0" font-size="8.2" fill="#231f20" text-anchor="end" transform="rotate(-45 622.8 131.0)">Fat<tspan font-size="5" dy="-3.4">Con</tspan></text>
<text x="642.2" y="131.0" font-size="8.2" fill="#231f20" text-anchor="end" transform="rotate(-45 642.2 131.0)">Fat<tspan font-size="5" dy="-3.4">Casp3</tspan></text>
<rect x="204" y="351" width="144" height="126" fill="#050306"/>
<svg x="204" y="351" width="144" height="126" viewBox="204 351 144 126">
<path d="M214 380 C216 370, 217 360, 216 351 M228 389 C230 375, 233 362, 232 351 M239 391 C240 378, 243 365, 246 351 M275 398 C274 385, 270 370, 266 351 M287 394 C290 380, 293 366, 292 351 M299 383 C300 372, 302 360, 304 351 M204 420 C230 410, 260 405, 300 400 M204 440 C240 430, 270 415, 310 405 M300 477 C320 450, 335 430, 348 405 M280 477 C300 455, 320 430, 340 410 M260 477 C280 460, 300 440, 330 420" fill="none" stroke="#5a1660" stroke-width="0.5" opacity="0.45"/><path d="M204 420 C240 415, 280 405, 345 400 L330 440 L309 477 L204 477Z" fill="#2c0a34" opacity="0.35" filter="url(#bl3)"/><path d="M204 351 L348 351 L348 380 C300 385, 250 380, 204 390Z" fill="#1a0620" opacity="0.3" filter="url(#bl3)"/><path d="M312 477 L348 420 L348 477Z" fill="#020103"/><path d="M309.5 474 C320 458, 334 438, 346 418" stroke="#5a4aa8" stroke-width="2.8" opacity="0.55" fill="none" filter="url(#bl1)"/><path d="M230 477 C250 450, 270 430, 300 410 M245 477 C262 455, 280 435, 310 415 M260 477 C275 458, 292 440, 320 420 M275 477 C288 460, 300 445, 325 425 M215 477 C235 455, 250 440, 280 420 M290 477 C300 462, 312 448, 330 430" fill="none" stroke="#6a1a78" stroke-width="0.6" opacity="0.5"/>
<path d="M208.6 440.4 Q197.0 438.7 183.2 449.0" fill="none" stroke="#7a2a88" stroke-width="0.6" opacity="0.45"/>
<path d="M260.4 467.8 Q250.5 474.2 229.3 486.7" fill="none" stroke="#7a2a88" stroke-width="0.6" opacity="0.45"/>
<path d="M219.7 370.5 Q223.9 389.1 217.5 402.4" fill="none" stroke="#7a2a88" stroke-width="0.6" opacity="0.45"/>
<path d="M297.2 447.4 Q293.6 465.0 301.1 475.9" fill="none" stroke="#7a2a88" stroke-width="0.6" opacity="0.45"/>
<path d="M237.5 466.9 Q228.0 474.1 227.5 487.2" fill="none" stroke="#7a2a88" stroke-width="0.6" opacity="0.45"/>
<path d="M295.6 439.0 Q303.8 442.9 311.4 444.8" fill="none" stroke="#7a2a88" stroke-width="0.6" opacity="0.45"/>
<path d="M259.9 379.2 Q255.1 385.9 255.1 393.7" fill="none" stroke="#7a2a88" stroke-width="0.6" opacity="0.45"/>
<path d="M342.1 432.2 Q326.3 434.0 317.0 441.8" fill="none" stroke="#7a2a88" stroke-width="0.6" opacity="0.45"/>
<path d="M342.3 439.8 Q346.7 448.3 351.2 452.6" fill="none" stroke="#7a2a88" stroke-width="0.6" opacity="0.45"/>
<path d="M264.5 383.4 Q251.6 394.3 245.3 416.4" fill="none" stroke="#7a2a88" stroke-width="0.6" opacity="0.45"/>
<path d="M252.7 404.0 Q250.8 415.2 241.9 420.7" fill="none" stroke="#7a2a88" stroke-width="0.6" opacity="0.45"/>
<path d="M276.7 376.9 Q269.2 374.7 254.0 379.0" fill="none" stroke="#7a2a88" stroke-width="0.6" opacity="0.45"/>
<path d="M235.9 446.8 Q247.5 458.6 259.2 477.8" fill="none" stroke="#7a2a88" stroke-width="0.6" opacity="0.45"/>
<path d="M236.2 403.5 Q222.3 419.1 216.9 437.2" fill="none" stroke="#7a2a88" stroke-width="0.6" opacity="0.45"/>
<path d="M234.7 473.7 Q236.7 476.0 249.4 480.8" fill="none" stroke="#7a2a88" stroke-width="0.6" opacity="0.45"/>
<path d="M333.3 462.3 Q325.2 475.1 306.7 492.1" fill="none" stroke="#7a2a88" stroke-width="0.6" opacity="0.45"/>
<path d="M230.7 468.9 Q227.2 473.1 219.7 480.2" fill="none" stroke="#7a2a88" stroke-width="0.6" opacity="0.45"/>
<path d="M257.8 392.8 Q261.7 394.8 270.8 400.4" fill="none" stroke="#7a2a88" stroke-width="0.6" opacity="0.45"/>
<circle cx="339.8" cy="368.1" r="0.9" fill="#1f6f70" opacity="0.6"/>
<circle cx="341.0" cy="378.3" r="0.9" fill="#1f6f70" opacity="0.6"/>
<circle cx="255.9" cy="453.2" r="0.9" fill="#1f6f70" opacity="0.6"/>
<circle cx="321.1" cy="405.8" r="0.9" fill="#1f6f70" opacity="0.6"/>
<circle cx="212.9" cy="410.8" r="0.9" fill="#1f6f70" opacity="0.6"/>
<circle cx="258.2" cy="465.2" r="0.9" fill="#1f6f70" opacity="0.6"/>
<circle cx="233.0" cy="397.4" r="0.9" fill="#1f6f70" opacity="0.6"/>
<circle cx="331.6" cy="356.7" r="0.9" fill="#1f6f70" opacity="0.6"/>
<circle cx="263.5" cy="452.0" r="0.9" fill="#1f6f70" opacity="0.6"/>
<circle cx="313.3" cy="358.0" r="0.9" fill="#1f6f70" opacity="0.6"/>
<circle cx="210.9" cy="360.6" r="0.9" fill="#1f6f70" opacity="0.6"/>
<circle cx="334.8" cy="384.4" r="0.9" fill="#1f6f70" opacity="0.6"/>
<circle cx="310.6" cy="462.6" r="0.9" fill="#1f6f70" opacity="0.6"/>
<circle cx="253.5" cy="386.2" r="0.9" fill="#1f6f70" opacity="0.6"/>
<circle cx="340.1" cy="428.3" r="0.9" fill="#1f6f70" opacity="0.6"/>
<circle cx="242.7" cy="440.4" r="0.9" fill="#1f6f70" opacity="0.6"/>
<circle cx="250.3" cy="386.6" r="0.9" fill="#1f6f70" opacity="0.6"/>
<circle cx="206.5" cy="445.2" r="0.9" fill="#1f6f70" opacity="0.6"/>
<circle cx="334.3" cy="430.3" r="0.9" fill="#1f6f70" opacity="0.6"/>
<circle cx="338.1" cy="356.0" r="0.9" fill="#1f6f70" opacity="0.6"/>
<circle cx="238.7" cy="411.0" r="0.9" fill="#1f6f70" opacity="0.6"/>
<circle cx="339.9" cy="469.4" r="0.9" fill="#1f6f70" opacity="0.6"/>
<circle cx="260.1" cy="383.6" r="0.9" fill="#1f6f70" opacity="0.6"/>
<circle cx="266.2" cy="413.2" r="0.9" fill="#1f6f70" opacity="0.6"/>
<circle cx="335.9" cy="375.3" r="0.9" fill="#1f6f70" opacity="0.6"/>
<circle cx="318.4" cy="443.1" r="0.9" fill="#1f6f70" opacity="0.6"/>
<circle cx="321.2" cy="447.3" r="0.9" fill="#1f6f70" opacity="0.6"/>
<circle cx="291.0" cy="393.0" r="0.9" fill="#1f6f70" opacity="0.6"/>
<circle cx="250.7" cy="397.1" r="0.9" fill="#1f6f70" opacity="0.6"/>
<circle cx="315.5" cy="362.6" r="0.9" fill="#1f6f70" opacity="0.6"/>
<circle cx="233.6" cy="444.9" r="0.9" fill="#1f6f70" opacity="0.6"/>
<circle cx="240.6" cy="360.9" r="0.9" fill="#1f6f70" opacity="0.6"/>
<circle cx="210.7" cy="420.4" r="0.9" fill="#1f6f70" opacity="0.6"/>
<circle cx="251.6" cy="472.6" r="0.9" fill="#1f6f70" opacity="0.6"/>
<circle cx="329.7" cy="473.5" r="0.9" fill="#1f6f70" opacity="0.6"/>
<circle cx="243.1" cy="363.3" r="0.9" fill="#1f6f70" opacity="0.6"/>
<circle cx="219.5" cy="413.8" r="0.9" fill="#1f6f70" opacity="0.6"/>
<circle cx="305.4" cy="407.5" r="0.9" fill="#1f6f70" opacity="0.6"/>
<circle cx="238.8" cy="403.9" r="0.9" fill="#1f6f70" opacity="0.6"/>
<circle cx="292.8" cy="435.2" r="0.9" fill="#1f6f70" opacity="0.6"/>
<circle cx="310.7" cy="456.3" r="0.9" fill="#1f6f70" opacity="0.6"/>
<circle cx="299.0" cy="367.8" r="0.9" fill="#1f6f70" opacity="0.6"/>
<circle cx="323.7" cy="388.8" r="0.9" fill="#1f6f70" opacity="0.6"/>
<circle cx="285.4" cy="398.5" r="0.9" fill="#1f6f70" opacity="0.6"/>
<circle cx="309.3" cy="377.3" r="0.9" fill="#1f6f70" opacity="0.6"/>
<circle cx="240.6" cy="382.9" r="0.8" fill="#6a1f6a" opacity="0.6"/>
<circle cx="227.5" cy="460.9" r="0.8" fill="#6a1f6a" opacity="0.6"/>
<circle cx="287.0" cy="392.8" r="0.8" fill="#6a1f6a" opacity="0.6"/>
<circle cx="261.4" cy="474.1" r="0.8" fill="#6a1f6a" opacity="0.6"/>
<circle cx="277.0" cy="381.2" r="0.8" fill="#6a1f6a" opacity="0.6"/>
<circle cx="319.2" cy="432.7" r="0.8" fill="#6a1f6a" opacity="0.6"/>
<circle cx="344.7" cy="365.5" r="0.8" fill="#6a1f6a" opacity="0.6"/>
<circle cx="272.5" cy="452.9" r="0.8" fill="#6a1f6a" opacity="0.6"/>
<circle cx="323.7" cy="464.6" r="0.8" fill="#6a1f6a" opacity="0.6"/>
<circle cx="211.7" cy="388.8" r="0.8" fill="#6a1f6a" opacity="0.6"/>
<circle cx="222.7" cy="376.1" r="0.8" fill="#6a1f6a" opacity="0.6"/>
<circle cx="342.2" cy="424.1" r="0.8" fill="#6a1f6a" opacity="0.6"/>
<circle cx="336.2" cy="398.4" r="0.8" fill="#6a1f6a" opacity="0.6"/>
<circle cx="327.3" cy="407.8" r="0.8" fill="#6a1f6a" opacity="0.6"/>
<circle cx="242.4" cy="447.9" r="0.8" fill="#6a1f6a" opacity="0.6"/>
<circle cx="338.4" cy="365.9" r="0.8" fill="#6a1f6a" opacity="0.6"/>
<circle cx="289.5" cy="428.6" r="0.8" fill="#6a1f6a" opacity="0.6"/>
<circle cx="236.5" cy="398.0" r="0.8" fill="#6a1f6a" opacity="0.6"/>
<circle cx="225.8" cy="377.9" r="0.8" fill="#6a1f6a" opacity="0.6"/>
<circle cx="241.7" cy="426.1" r="0.8" fill="#6a1f6a" opacity="0.6"/>
<circle cx="297.2" cy="377.8" r="0.8" fill="#6a1f6a" opacity="0.6"/>
<circle cx="207.6" cy="392.9" r="0.8" fill="#6a1f6a" opacity="0.6"/>
<circle cx="301.0" cy="375.6" r="0.8" fill="#6a1f6a" opacity="0.6"/>
<circle cx="249.7" cy="377.8" r="0.8" fill="#6a1f6a" opacity="0.6"/>
<circle cx="317.3" cy="419.9" r="0.8" fill="#6a1f6a" opacity="0.6"/>
<circle cx="214.9" cy="365.4" r="0.8" fill="#6a1f6a" opacity="0.6"/>
<circle cx="261.3" cy="420.1" r="0.8" fill="#6a1f6a" opacity="0.6"/>
<circle cx="295.5" cy="364.1" r="0.8" fill="#6a1f6a" opacity="0.6"/>
<circle cx="228.9" cy="437.8" r="0.8" fill="#6a1f6a" opacity="0.6"/>
<circle cx="263.4" cy="387.6" r="0.8" fill="#6a1f6a" opacity="0.6"/>
<circle cx="272.2" cy="394.8" r="2.08" fill="#1aa8a8" opacity="0.4"/><circle cx="272.2" cy="394.8" r="1.30" fill="#30e0e0"/>
<circle cx="273.5" cy="396.5" r="2.08" fill="#1aa8a8" opacity="0.4"/><circle cx="273.5" cy="396.5" r="1.30" fill="#30e0e0"/>
<circle cx="301" cy="384.5" r="2.08" fill="#1aa8a8" opacity="0.4"/><circle cx="301" cy="384.5" r="1.30" fill="#30e0e0"/>
<circle cx="322.3" cy="375" r="2.08" fill="#1aa8a8" opacity="0.4"/><circle cx="322.3" cy="375" r="1.30" fill="#30e0e0"/>
<circle cx="347.3" cy="379.9" r="2.08" fill="#1aa8a8" opacity="0.4"/><circle cx="347.3" cy="379.9" r="1.30" fill="#30e0e0"/>
<circle cx="261.6" cy="432" r="2.08" fill="#1aa8a8" opacity="0.4"/><circle cx="261.6" cy="432" r="1.30" fill="#30e0e0"/>
<circle cx="237.5" cy="450.2" r="2.08" fill="#1aa8a8" opacity="0.4"/><circle cx="237.5" cy="450.2" r="1.30" fill="#30e0e0"/>
<circle cx="226" cy="469.4" r="2.08" fill="#1aa8a8" opacity="0.4"/><circle cx="226" cy="469.4" r="1.30" fill="#30e0e0"/>
<circle cx="208.3" cy="466.8" r="2.08" fill="#1aa8a8" opacity="0.4"/><circle cx="208.3" cy="466.8" r="1.30" fill="#30e0e0"/>
<circle cx="235" cy="390" r="2.08" fill="#1aa8a8" opacity="0.4"/><circle cx="235" cy="390" r="1.30" fill="#30e0e0"/>
<circle cx="214.7" cy="382" r="1.95" fill="#b020b0" opacity="0.4"/><circle cx="214.7" cy="382" r="1.23" fill="#f040f0"/>
<circle cx="228.5" cy="389.4" r="1.95" fill="#b020b0" opacity="0.4"/><circle cx="228.5" cy="389.4" r="1.23" fill="#f040f0"/>
<circle cx="239.2" cy="391.6" r="1.95" fill="#b020b0" opacity="0.4"/><circle cx="239.2" cy="391.6" r="1.23" fill="#f040f0"/>
<circle cx="275.4" cy="398" r="1.95" fill="#b020b0" opacity="0.4"/><circle cx="275.4" cy="398" r="1.23" fill="#f040f0"/>
<circle cx="287.2" cy="394.8" r="1.95" fill="#b020b0" opacity="0.4"/><circle cx="287.2" cy="394.8" r="1.23" fill="#f040f0"/>
<circle cx="298.9" cy="383" r="1.95" fill="#b020b0" opacity="0.4"/><circle cx="298.9" cy="383" r="1.23" fill="#f040f0"/>
<circle cx="309.5" cy="377.7" r="1.95" fill="#b020b0" opacity="0.4"/><circle cx="309.5" cy="377.7" r="1.23" fill="#f040f0"/>
<circle cx="314.9" cy="373" r="1.95" fill="#b020b0" opacity="0.4"/><circle cx="314.9" cy="373" r="1.23" fill="#f040f0"/>
<circle cx="316.6" cy="381.6" r="1.95" fill="#b020b0" opacity="0.4"/><circle cx="316.6" cy="381.6" r="1.23" fill="#f040f0"/>
<circle cx="322" cy="385" r="1.95" fill="#b020b0" opacity="0.4"/><circle cx="322" cy="385" r="1.23" fill="#f040f0"/>
<circle cx="324.5" cy="388" r="1.95" fill="#b020b0" opacity="0.4"/><circle cx="324.5" cy="388" r="1.23" fill="#f040f0"/>
<circle cx="327.7" cy="389.4" r="1.95" fill="#b020b0" opacity="0.4"/><circle cx="327.7" cy="389.4" r="1.23" fill="#f040f0"/>
<circle cx="323.4" cy="393.7" r="1.95" fill="#b020b0" opacity="0.4"/><circle cx="323.4" cy="393.7" r="1.23" fill="#f040f0"/>
<circle cx="317" cy="391.6" r="1.95" fill="#b020b0" opacity="0.4"/><circle cx="317" cy="391.6" r="1.23" fill="#f040f0"/>
<circle cx="292" cy="412.3" r="1.95" fill="#b020b0" opacity="0.4"/><circle cx="292" cy="412.3" r="1.23" fill="#f040f0"/>
<circle cx="283.3" cy="423.6" r="1.95" fill="#b020b0" opacity="0.4"/><circle cx="283.3" cy="423.6" r="1.23" fill="#f040f0"/>
<circle cx="258.4" cy="443.2" r="1.95" fill="#b020b0" opacity="0.4"/><circle cx="258.4" cy="443.2" r="1.23" fill="#f040f0"/>
<circle cx="244" cy="452.8" r="1.95" fill="#b020b0" opacity="0.4"/><circle cx="244" cy="452.8" r="1.23" fill="#f040f0"/>
<circle cx="237.5" cy="463" r="1.95" fill="#b020b0" opacity="0.4"/><circle cx="237.5" cy="463" r="1.23" fill="#f040f0"/>
<circle cx="213" cy="449.8" r="1.95" fill="#b020b0" opacity="0.4"/><circle cx="213" cy="449.8" r="1.23" fill="#f040f0"/>
</svg>
<rect x="350" y="351" width="146" height="126" fill="#081414"/>
<svg x="350" y="351" width="146" height="126" viewBox="350 351 146 126">
<rect x="350" y="351" width="146" height="126" fill="#081616"/><path d="M350 398 C380 392, 420 400, 460 405 C475 408, 490 404, 496 400 L496 418 C470 425, 430 428, 400 422 C380 418, 360 415, 350 418Z" fill="#3a1244" opacity="0.75" filter="url(#bl3)"/><path d="M360 351 C362 370, 365 385, 372 398 M380 351 C385 370, 390 380, 393 390 M470 351 C468 370, 470 385, 480 396 M496 420 C488 440, 480 460, 475 477 M450 450 C445 460, 440 470, 436 477 M490 360 C485 380, 480 390, 474 405" fill="none" stroke="#5a1660" stroke-width="0.5" opacity="0.45"/>
<path d="M394.9 471.1 Q401.3 482.2 411.1 495.3" fill="none" stroke="#7a2a88" stroke-width="0.6" opacity="0.45"/>
<path d="M476.2 476.6 Q483.1 482.1 484.5 494.7" fill="none" stroke="#7a2a88" stroke-width="0.6" opacity="0.45"/>
<path d="M350.9 464.6 Q353.9 486.4 359.3 499.1" fill="none" stroke="#7a2a88" stroke-width="0.6" opacity="0.45"/>
<path d="M417.3 371.5 Q433.4 377.1 446.0 372.8" fill="none" stroke="#7a2a88" stroke-width="0.6" opacity="0.45"/>
<path d="M363.0 429.4 Q364.2 439.5 373.9 454.8" fill="none" stroke="#7a2a88" stroke-width="0.6" opacity="0.45"/>
<path d="M426.1 467.6 Q442.6 477.8 451.8 476.8" fill="none" stroke="#7a2a88" stroke-width="0.6" opacity="0.45"/>
<path d="M378.8 367.0 Q359.2 365.1 340.1 374.0" fill="none" stroke="#7a2a88" stroke-width="0.6" opacity="0.45"/>
<path d="M485.2 399.9 Q474.5 400.3 456.1 408.9" fill="none" stroke="#7a2a88" stroke-width="0.6" opacity="0.45"/>
<path d="M464.7 379.0 Q474.0 392.4 475.4 413.5" fill="none" stroke="#7a2a88" stroke-width="0.6" opacity="0.45"/>
<path d="M381.8 401.4 Q376.6 410.6 380.5 425.9" fill="none" stroke="#7a2a88" stroke-width="0.6" opacity="0.45"/>
<path d="M455.8 464.1 Q473.3 460.4 484.6 467.8" fill="none" stroke="#7a2a88" stroke-width="0.6" opacity="0.45"/>
<path d="M472.4 365.8 Q469.5 377.2 463.5 393.2" fill="none" stroke="#7a2a88" stroke-width="0.6" opacity="0.45"/>
<path d="M411.3 424.4 Q414.3 439.0 418.6 455.0" fill="none" stroke="#7a2a88" stroke-width="0.6" opacity="0.45"/>
<path d="M353.4 429.0 Q356.9 442.8 354.1 449.9" fill="none" stroke="#7a2a88" stroke-width="0.6" opacity="0.45"/>
<path d="M416.9 373.6 Q413.2 381.6 418.4 391.2" fill="none" stroke="#7a2a88" stroke-width="0.6" opacity="0.45"/>
<path d="M363.4 406.7 Q364.8 409.7 362.9 422.7" fill="none" stroke="#7a2a88" stroke-width="0.6" opacity="0.45"/>
<path d="M457.1 449.0 Q456.8 455.7 456.5 465.3" fill="none" stroke="#7a2a88" stroke-width="0.6" opacity="0.45"/>
<path d="M488.8 368.2 Q473.6 380.6 452.9 385.5" fill="none" stroke="#7a2a88" stroke-width="0.6" opacity="0.45"/>
<path d="M378.3 474.7 Q383.8 490.1 379.3 513.6" fill="none" stroke="#7a2a88" stroke-width="0.6" opacity="0.45"/>
<path d="M465.1 468.3 Q479.8 466.6 488.4 473.1" fill="none" stroke="#7a2a88" stroke-width="0.6" opacity="0.45"/>
<path d="M480.9 385.6 Q473.1 395.8 465.3 395.8" fill="none" stroke="#7a2a88" stroke-width="0.6" opacity="0.45"/>
<path d="M380.4 384.1 Q374.6 391.8 380.0 407.1" fill="none" stroke="#7a2a88" stroke-width="0.6" opacity="0.45"/>
<path d="M373.5 469.0 Q359.6 488.2 353.5 500.6" fill="none" stroke="#7a2a88" stroke-width="0.6" opacity="0.45"/>
<path d="M366.8 417.9 Q366.3 429.4 356.8 439.7" fill="none" stroke="#7a2a88" stroke-width="0.6" opacity="0.45"/>
<path d="M434.7 462.2 Q455.1 467.4 472.4 475.1" fill="none" stroke="#7a2a88" stroke-width="0.6" opacity="0.45"/>
<path d="M466.5 384.4 Q450.1 388.0 437.0 385.2" fill="none" stroke="#7a2a88" stroke-width="0.6" opacity="0.45"/>
<path d="M414.6 373.3 Q412.8 376.2 403.3 385.0" fill="none" stroke="#7a2a88" stroke-width="0.6" opacity="0.45"/>
<path d="M443.3 475.0 Q436.9 484.2 434.9 505.4" fill="none" stroke="#7a2a88" stroke-width="0.6" opacity="0.45"/>
<circle cx="356.8" cy="371.2" r="0.9" fill="#1f6f70" opacity="0.6"/>
<circle cx="439.5" cy="405.7" r="0.9" fill="#1f6f70" opacity="0.6"/>
<circle cx="424.8" cy="462.3" r="0.9" fill="#1f6f70" opacity="0.6"/>
<circle cx="370.7" cy="380.7" r="0.9" fill="#1f6f70" opacity="0.6"/>
<circle cx="444.7" cy="355.7" r="0.9" fill="#1f6f70" opacity="0.6"/>
<circle cx="352.4" cy="396.3" r="0.9" fill="#1f6f70" opacity="0.6"/>
<circle cx="367.1" cy="396.6" r="0.9" fill="#1f6f70" opacity="0.6"/>
<circle cx="383.8" cy="424.2" r="0.9" fill="#1f6f70" opacity="0.6"/>
<circle cx="435.7" cy="377.9" r="0.9" fill="#1f6f70" opacity="0.6"/>
<circle cx="440.6" cy="410.9" r="0.9" fill="#1f6f70" opacity="0.6"/>
<circle cx="371.1" cy="467.3" r="0.9" fill="#1f6f70" opacity="0.6"/>
<circle cx="386.6" cy="371.2" r="0.9" fill="#1f6f70" opacity="0.6"/>
<circle cx="365.6" cy="430.9" r="0.9" fill="#1f6f70" opacity="0.6"/>
<circle cx="475.7" cy="448.4" r="0.9" fill="#1f6f70" opacity="0.6"/>
<circle cx="409.1" cy="385.2" r="0.9" fill="#1f6f70" opacity="0.6"/>
<circle cx="353.6" cy="431.7" r="0.9" fill="#1f6f70" opacity="0.6"/>
<circle cx="431.9" cy="395.7" r="0.9" fill="#1f6f70" opacity="0.6"/>
<circle cx="443.7" cy="407.1" r="0.9" fill="#1f6f70" opacity="0.6"/>
<circle cx="485.1" cy="442.5" r="0.9" fill="#1f6f70" opacity="0.6"/>
<circle cx="387.3" cy="463.2" r="0.9" fill="#1f6f70" opacity="0.6"/>
<circle cx="358.2" cy="417.8" r="0.9" fill="#1f6f70" opacity="0.6"/>
<circle cx="409.7" cy="382.0" r="0.9" fill="#1f6f70" opacity="0.6"/>
<circle cx="360.3" cy="448.0" r="0.9" fill="#1f6f70" opacity="0.6"/>
<circle cx="353.8" cy="420.2" r="0.9" fill="#1f6f70" opacity="0.6"/>
<circle cx="485.6" cy="370.4" r="0.9" fill="#1f6f70" opacity="0.6"/>
<circle cx="380.3" cy="427.2" r="0.9" fill="#1f6f70" opacity="0.6"/>
<circle cx="424.0" cy="431.3" r="0.9" fill="#1f6f70" opacity="0.6"/>
<circle cx="467.5" cy="374.3" r="0.9" fill="#1f6f70" opacity="0.6"/>
<circle cx="395.9" cy="389.6" r="0.9" fill="#1f6f70" opacity="0.6"/>
<circle cx="358.9" cy="461.5" r="0.9" fill="#1f6f70" opacity="0.6"/>
<circle cx="463.2" cy="440.3" r="0.9" fill="#1f6f70" opacity="0.6"/>
<circle cx="352.9" cy="456.0" r="0.9" fill="#1f6f70" opacity="0.6"/>
<circle cx="457.8" cy="409.8" r="0.9" fill="#1f6f70" opacity="0.6"/>
<circle cx="457.3" cy="408.2" r="0.9" fill="#1f6f70" opacity="0.6"/>
<circle cx="384.1" cy="365.8" r="0.9" fill="#1f6f70" opacity="0.6"/>
<circle cx="385.0" cy="357.7" r="0.9" fill="#1f6f70" opacity="0.6"/>
<circle cx="399.6" cy="444.5" r="0.9" fill="#1f6f70" opacity="0.6"/>
<circle cx="450.7" cy="456.1" r="0.9" fill="#1f6f70" opacity="0.6"/>
<circle cx="453.1" cy="385.5" r="0.9" fill="#1f6f70" opacity="0.6"/>
<circle cx="430.6" cy="406.2" r="0.9" fill="#1f6f70" opacity="0.6"/>
<circle cx="464.0" cy="416.8" r="0.9" fill="#1f6f70" opacity="0.6"/>
<circle cx="389.7" cy="431.3" r="0.9" fill="#1f6f70" opacity="0.6"/>
<circle cx="489.0" cy="379.5" r="0.9" fill="#1f6f70" opacity="0.6"/>
<circle cx="477.0" cy="354.9" r="0.9" fill="#1f6f70" opacity="0.6"/>
<circle cx="389.0" cy="381.8" r="0.9" fill="#1f6f70" opacity="0.6"/>
<circle cx="457.6" cy="468.3" r="0.9" fill="#1f6f70" opacity="0.6"/>
<circle cx="458.0" cy="392.9" r="0.9" fill="#1f6f70" opacity="0.6"/>
<circle cx="477.0" cy="393.1" r="0.9" fill="#1f6f70" opacity="0.6"/>
<circle cx="386.0" cy="463.7" r="0.9" fill="#1f6f70" opacity="0.6"/>
<circle cx="441.6" cy="437.5" r="0.9" fill="#1f6f70" opacity="0.6"/>
<circle cx="446.5" cy="472.4" r="0.8" fill="#6a1f6a" opacity="0.6"/>
<circle cx="418.7" cy="455.4" r="0.8" fill="#6a1f6a" opacity="0.6"/>
<circle cx="451.1" cy="457.6" r="0.8" fill="#6a1f6a" opacity="0.6"/>
<circle cx="414.1" cy="441.4" r="0.8" fill="#6a1f6a" opacity="0.6"/>
<circle cx="433.0" cy="390.5" r="0.8" fill="#6a1f6a" opacity="0.6"/>
<circle cx="382.1" cy="429.0" r="0.8" fill="#6a1f6a" opacity="0.6"/>
<circle cx="363.0" cy="464.1" r="0.8" fill="#6a1f6a" opacity="0.6"/>
<circle cx="372.5" cy="356.3" r="0.8" fill="#6a1f6a" opacity="0.6"/>
<circle cx="367.1" cy="466.3" r="0.8" fill="#6a1f6a" opacity="0.6"/>
<circle cx="401.0" cy="370.3" r="0.8" fill="#6a1f6a" opacity="0.6"/>
<circle cx="356.1" cy="358.1" r="0.8" fill="#6a1f6a" opacity="0.6"/>
<circle cx="450.4" cy="430.3" r="0.8" fill="#6a1f6a" opacity="0.6"/>
<circle cx="451.0" cy="442.9" r="0.8" fill="#6a1f6a" opacity="0.6"/>
<circle cx="361.3" cy="425.0" r="0.8" fill="#6a1f6a" opacity="0.6"/>
<circle cx="403.6" cy="452.7" r="0.8" fill="#6a1f6a" opacity="0.6"/>
<circle cx="468.4" cy="461.7" r="0.8" fill="#6a1f6a" opacity="0.6"/>
<circle cx="361.4" cy="458.9" r="0.8" fill="#6a1f6a" opacity="0.6"/>
<circle cx="481.8" cy="468.2" r="0.8" fill="#6a1f6a" opacity="0.6"/>
<circle cx="367.2" cy="378.1" r="0.8" fill="#6a1f6a" opacity="0.6"/>
<circle cx="367.9" cy="357.2" r="0.8" fill="#6a1f6a" opacity="0.6"/>
<circle cx="472.4" cy="452.1" r="0.8" fill="#6a1f6a" opacity="0.6"/>
<circle cx="442.1" cy="453.7" r="0.8" fill="#6a1f6a" opacity="0.6"/>
<circle cx="441.7" cy="388.1" r="0.8" fill="#6a1f6a" opacity="0.6"/>
<circle cx="366.2" cy="364.9" r="0.8" fill="#6a1f6a" opacity="0.6"/>
<circle cx="459.5" cy="378.0" r="0.8" fill="#6a1f6a" opacity="0.6"/>
<circle cx="397.3" cy="404.7" r="0.8" fill="#6a1f6a" opacity="0.6"/>
<circle cx="355.0" cy="384.3" r="0.8" fill="#6a1f6a" opacity="0.6"/>
<circle cx="392.1" cy="440.3" r="0.8" fill="#6a1f6a" opacity="0.6"/>
<circle cx="404.3" cy="392.1" r="0.8" fill="#6a1f6a" opacity="0.6"/>
<circle cx="488.9" cy="414.5" r="0.8" fill="#6a1f6a" opacity="0.6"/>
<circle cx="472.9" cy="428.4" r="0.8" fill="#6a1f6a" opacity="0.6"/>
<circle cx="356.4" cy="403.4" r="0.8" fill="#6a1f6a" opacity="0.6"/>
<circle cx="414.0" cy="447.3" r="0.8" fill="#6a1f6a" opacity="0.6"/>
<circle cx="401.2" cy="439.0" r="0.8" fill="#6a1f6a" opacity="0.6"/>
<circle cx="428.4" cy="379.4" r="0.8" fill="#6a1f6a" opacity="0.6"/>
<circle cx="359.7" cy="365.5" r="2.56" fill="#1aa8a8" opacity="0.4"/><circle cx="359.7" cy="365.5" r="1.60" fill="#30e0e0"/>
<circle cx="367.6" cy="372.5" r="2.56" fill="#1aa8a8" opacity="0.4"/><circle cx="367.6" cy="372.5" r="1.60" fill="#30e0e0"/>
<circle cx="360.3" cy="378.3" r="2.56" fill="#1aa8a8" opacity="0.4"/><circle cx="360.3" cy="378.3" r="1.60" fill="#30e0e0"/>
<circle cx="412.2" cy="380" r="2.56" fill="#1aa8a8" opacity="0.4"/><circle cx="412.2" cy="380" r="1.60" fill="#30e0e0"/>
<circle cx="438" cy="388.6" r="2.56" fill="#1aa8a8" opacity="0.4"/><circle cx="438" cy="388.6" r="1.60" fill="#30e0e0"/>
<circle cx="381.1" cy="397.6" r="2.56" fill="#1aa8a8" opacity="0.4"/><circle cx="381.1" cy="397.6" r="1.60" fill="#30e0e0"/>
<circle cx="364" cy="402.6" r="2.56" fill="#1aa8a8" opacity="0.4"/><circle cx="364" cy="402.6" r="1.60" fill="#30e0e0"/>
<circle cx="377.9" cy="403" r="2.56" fill="#1aa8a8" opacity="0.4"/><circle cx="377.9" cy="403" r="1.60" fill="#30e0e0"/>
<circle cx="420.4" cy="414.8" r="2.56" fill="#1aa8a8" opacity="0.4"/><circle cx="420.4" cy="414.8" r="1.60" fill="#30e0e0"/>
<circle cx="408" cy="417.6" r="2.56" fill="#1aa8a8" opacity="0.4"/><circle cx="408" cy="417.6" r="1.60" fill="#30e0e0"/>
<circle cx="479.8" cy="406.2" r="2.56" fill="#1aa8a8" opacity="0.4"/><circle cx="479.8" cy="406.2" r="1.60" fill="#30e0e0"/>
<circle cx="484.1" cy="409" r="2.56" fill="#1aa8a8" opacity="0.4"/><circle cx="484.1" cy="409" r="1.60" fill="#30e0e0"/>
<circle cx="359.7" cy="434.3" r="2.56" fill="#1aa8a8" opacity="0.4"/><circle cx="359.7" cy="434.3" r="1.60" fill="#30e0e0"/>
<circle cx="490.6" cy="420.8" r="2.56" fill="#1aa8a8" opacity="0.4"/><circle cx="490.6" cy="420.8" r="1.60" fill="#30e0e0"/>
<circle cx="372.5" cy="378.3" r="2.40" fill="#b020b0" opacity="0.4"/><circle cx="372.5" cy="378.3" r="1.52" fill="#f040f0"/>
<circle cx="406.9" cy="382.2" r="2.40" fill="#b020b0" opacity="0.4"/><circle cx="406.9" cy="382.2" r="1.52" fill="#f040f0"/>
<circle cx="407.5" cy="386.9" r="2.40" fill="#b020b0" opacity="0.4"/><circle cx="407.5" cy="386.9" r="1.52" fill="#f040f0"/>
<circle cx="445.9" cy="392.9" r="2.40" fill="#b020b0" opacity="0.4"/><circle cx="445.9" cy="392.9" r="1.52" fill="#f040f0"/>
<circle cx="449.1" cy="397.6" r="2.40" fill="#b020b0" opacity="0.4"/><circle cx="449.1" cy="397.6" r="1.52" fill="#f040f0"/>
<circle cx="433.3" cy="395.5" r="2.40" fill="#b020b0" opacity="0.4"/><circle cx="433.3" cy="395.5" r="1.52" fill="#f040f0"/>
<circle cx="417.6" cy="398.9" r="2.40" fill="#b020b0" opacity="0.4"/><circle cx="417.6" cy="398.9" r="1.52" fill="#f040f0"/>
<circle cx="408" cy="404.7" r="2.40" fill="#b020b0" opacity="0.4"/><circle cx="408" cy="404.7" r="1.52" fill="#f040f0"/>
<circle cx="406" cy="404.5" r="2.40" fill="#b020b0" opacity="0.4"/><circle cx="406" cy="404.5" r="1.52" fill="#f040f0"/>
<circle cx="387.6" cy="398.3" r="2.40" fill="#b020b0" opacity="0.4"/><circle cx="387.6" cy="398.3" r="1.52" fill="#f040f0"/>
<circle cx="385.6" cy="398.6" r="2.40" fill="#b020b0" opacity="0.4"/><circle cx="385.6" cy="398.6" r="1.52" fill="#f040f0"/>
<circle cx="385.4" cy="414.4" r="2.40" fill="#b020b0" opacity="0.4"/><circle cx="385.4" cy="414.4" r="1.52" fill="#f040f0"/>
<circle cx="383.4" cy="415" r="2.40" fill="#b020b0" opacity="0.4"/><circle cx="383.4" cy="415" r="1.52" fill="#f040f0"/>
<circle cx="439" cy="423" r="2.40" fill="#b020b0" opacity="0.4"/><circle cx="439" cy="423" r="1.52" fill="#f040f0"/>
<circle cx="468.7" cy="424.7" r="2.40" fill="#b020b0" opacity="0.4"/><circle cx="468.7" cy="424.7" r="1.52" fill="#f040f0"/>
<circle cx="473.4" cy="414.4" r="2.40" fill="#b020b0" opacity="0.4"/><circle cx="473.4" cy="414.4" r="1.52" fill="#f040f0"/>
<circle cx="480.5" cy="396.1" r="2.40" fill="#b020b0" opacity="0.4"/><circle cx="480.5" cy="396.1" r="1.52" fill="#f040f0"/>
<circle cx="488.4" cy="419.1" r="2.40" fill="#b020b0" opacity="0.4"/><circle cx="488.4" cy="419.1" r="1.52" fill="#f040f0"/>
<circle cx="478.8" cy="432.6" r="2.40" fill="#b020b0" opacity="0.4"/><circle cx="478.8" cy="432.6" r="1.52" fill="#f040f0"/>
<circle cx="445.5" cy="449.4" r="2.40" fill="#b020b0" opacity="0.4"/><circle cx="445.5" cy="449.4" r="1.52" fill="#f040f0"/>
<circle cx="455.6" cy="448.3" r="2.40" fill="#b020b0" opacity="0.4"/><circle cx="455.6" cy="448.3" r="1.52" fill="#f040f0"/>
<circle cx="408" cy="454.1" r="2.40" fill="#b020b0" opacity="0.4"/><circle cx="408" cy="454.1" r="1.52" fill="#f040f0"/>
<circle cx="494.2" cy="375.3" r="2.40" fill="#b020b0" opacity="0.4"/><circle cx="494.2" cy="375.3" r="1.52" fill="#f040f0"/>
<circle cx="351" cy="358" r="2.40" fill="#b020b0" opacity="0.4"/><circle cx="351" cy="358" r="1.52" fill="#f040f0"/>
<circle cx="392.9" cy="373.6" r="2.40" fill="#c040c0" opacity="0.45"/><circle cx="392.9" cy="373.6" r="1.60" fill="#ffe8ff"/>
<circle cx="449.1" cy="385.4" r="2.40" fill="#c040c0" opacity="0.45"/><circle cx="449.1" cy="385.4" r="1.60" fill="#ffe8ff"/>
<circle cx="457.3" cy="383.3" r="2.40" fill="#c040c0" opacity="0.45"/><circle cx="457.3" cy="383.3" r="1.60" fill="#ffe8ff"/>
<circle cx="426.2" cy="426.2" r="2.40" fill="#c040c0" opacity="0.45"/><circle cx="426.2" cy="426.2" r="1.60" fill="#ffe8ff"/>
<circle cx="474" cy="435.4" r="2.40" fill="#c040c0" opacity="0.45"/><circle cx="474" cy="435.4" r="1.60" fill="#ffe8ff"/>
<circle cx="463.3" cy="436.9" r="2.40" fill="#c040c0" opacity="0.45"/><circle cx="463.3" cy="436.9" r="1.60" fill="#ffe8ff"/>
<circle cx="469.1" cy="442.7" r="2.40" fill="#c040c0" opacity="0.45"/><circle cx="469.1" cy="442.7" r="1.60" fill="#ffe8ff"/>
<circle cx="456.9" cy="451.3" r="2.40" fill="#c040c0" opacity="0.45"/><circle cx="456.9" cy="451.3" r="1.60" fill="#ffe8ff"/>
</svg>
<rect x="498" y="351" width="146" height="126" fill="#0a0c0e"/>
<svg x="498" y="351" width="146" height="126" viewBox="498 351 146 126">
<rect x="498" y="351" width="146" height="126" fill="#0a0c0e"/><ellipse cx="538" cy="363" rx="9" ry="7" fill="#123a3c" opacity="0.5" filter="url(#bl3)"/><path d="M498 408 C520 412, 545 416, 575 420 L575 432 C545 430, 520 428, 498 425Z" fill="#1e1422" opacity="0.7" filter="url(#bl3)"/><path d="M600 351 C620 370, 640 400, 644 420 L644 477 L600 477 C615 450, 625 420, 610 390Z" fill="#1a0f1e" opacity="0.5" filter="url(#bl3)"/><path d="M560 351 C565 370, 570 385, 575 395 M580 351 C584 365, 588 378, 592 390 M610 351 C612 365, 615 375, 618 384" fill="none" stroke="#5a1660" stroke-width="0.5" opacity="0.45"/>
<path d="M623.9 362.5 Q609.8 364.0 607.6 372.8" fill="none" stroke="#7a2a88" stroke-width="0.6" opacity="0.45"/>
<path d="M609.3 474.2 Q622.8 478.0 636.5 474.6" fill="none" stroke="#7a2a88" stroke-width="0.6" opacity="0.45"/>
<path d="M524.9 413.3 Q530.3 434.5 541.5 445.1" fill="none" stroke="#7a2a88" stroke-width="0.6" opacity="0.45"/>
<path d="M539.4 378.1 Q526.7 390.8 523.3 400.3" fill="none" stroke="#7a2a88" stroke-width="0.6" opacity="0.45"/>
<path d="M509.8 450.3 Q501.3 462.7 489.7 478.5" fill="none" stroke="#7a2a88" stroke-width="0.6" opacity="0.45"/>
<path d="M556.6 400.7 Q553.2 397.9 540.4 406.5" fill="none" stroke="#7a2a88" stroke-width="0.6" opacity="0.45"/>
<path d="M528.1 384.2 Q513.5 393.0 501.9 392.6" fill="none" stroke="#7a2a88" stroke-width="0.6" opacity="0.45"/>
<path d="M532.1 409.1 Q533.5 427.7 528.8 442.8" fill="none" stroke="#7a2a88" stroke-width="0.6" opacity="0.45"/>
<path d="M548.9 392.2 Q566.8 403.5 580.7 409.1" fill="none" stroke="#7a2a88" stroke-width="0.6" opacity="0.45"/>
<path d="M522.8 406.3 Q507.1 415.5 500.4 425.5" fill="none" stroke="#7a2a88" stroke-width="0.6" opacity="0.45"/>
<path d="M627.2 381.0 Q639.0 391.5 645.8 393.7" fill="none" stroke="#7a2a88" stroke-width="0.6" opacity="0.45"/>
<path d="M520.6 370.7 Q529.1 374.7 537.1 386.9" fill="none" stroke="#7a2a88" stroke-width="0.6" opacity="0.45"/>
<path d="M545.9 374.8 Q524.6 381.7 512.8 377.4" fill="none" stroke="#7a2a88" stroke-width="0.6" opacity="0.45"/>
<path d="M512.8 399.4 Q498.2 399.5 478.0 401.2" fill="none" stroke="#7a2a88" stroke-width="0.6" opacity="0.45"/>
<circle cx="527.9" cy="430.8" r="0.9" fill="#1f6f70" opacity="0.6"/>
<circle cx="515.2" cy="378.2" r="0.9" fill="#1f6f70" opacity="0.6"/>
<circle cx="555.1" cy="357.1" r="0.9" fill="#1f6f70" opacity="0.6"/>
<circle cx="556.7" cy="449.5" r="0.9" fill="#1f6f70" opacity="0.6"/>
<circle cx="598.5" cy="414.1" r="0.9" fill="#1f6f70" opacity="0.6"/>
<circle cx="589.8" cy="409.5" r="0.9" fill="#1f6f70" opacity="0.6"/>
<circle cx="520.1" cy="426.7" r="0.9" fill="#1f6f70" opacity="0.6"/>
<circle cx="557.5" cy="443.4" r="0.9" fill="#1f6f70" opacity="0.6"/>
<circle cx="628.9" cy="405.5" r="0.9" fill="#1f6f70" opacity="0.6"/>
<circle cx="581.5" cy="444.4" r="0.9" fill="#1f6f70" opacity="0.6"/>
<circle cx="559.8" cy="380.9" r="0.9" fill="#1f6f70" opacity="0.6"/>
<circle cx="602.6" cy="460.4" r="0.9" fill="#1f6f70" opacity="0.6"/>
<circle cx="609.9" cy="438.4" r="0.9" fill="#1f6f70" opacity="0.6"/>
<circle cx="621.0" cy="435.9" r="0.9" fill="#1f6f70" opacity="0.6"/>
<circle cx="591.1" cy="408.4" r="0.9" fill="#1f6f70" opacity="0.6"/>
<circle cx="544.4" cy="429.6" r="0.9" fill="#1f6f70" opacity="0.6"/>
<circle cx="513.9" cy="404.2" r="0.9" fill="#1f6f70" opacity="0.6"/>
<circle cx="611.1" cy="440.0" r="0.9" fill="#1f6f70" opacity="0.6"/>
<circle cx="589.4" cy="383.5" r="0.9" fill="#1f6f70" opacity="0.6"/>
<circle cx="560.1" cy="408.5" r="0.9" fill="#1f6f70" opacity="0.6"/>
<circle cx="588.3" cy="402.9" r="0.9" fill="#1f6f70" opacity="0.6"/>
<circle cx="595.9" cy="466.5" r="0.9" fill="#1f6f70" opacity="0.6"/>
<circle cx="526.0" cy="432.8" r="0.9" fill="#1f6f70" opacity="0.6"/>
<circle cx="610.5" cy="400.4" r="0.9" fill="#1f6f70" opacity="0.6"/>
<circle cx="569.6" cy="471.9" r="0.9" fill="#1f6f70" opacity="0.6"/>
<circle cx="505.4" cy="419.3" r="0.9" fill="#1f6f70" opacity="0.6"/>
<circle cx="522.8" cy="448.4" r="0.9" fill="#1f6f70" opacity="0.6"/>
<circle cx="633.6" cy="416.3" r="0.9" fill="#1f6f70" opacity="0.6"/>
<circle cx="514.4" cy="423.1" r="0.9" fill="#1f6f70" opacity="0.6"/>
<circle cx="576.8" cy="440.5" r="0.9" fill="#1f6f70" opacity="0.6"/>
<circle cx="572.7" cy="431.0" r="0.9" fill="#1f6f70" opacity="0.6"/>
<circle cx="617.7" cy="416.6" r="0.9" fill="#1f6f70" opacity="0.6"/>
<circle cx="558.3" cy="468.7" r="0.9" fill="#1f6f70" opacity="0.6"/>
<circle cx="529.8" cy="436.5" r="0.9" fill="#1f6f70" opacity="0.6"/>
<circle cx="555.7" cy="446.0" r="0.9" fill="#1f6f70" opacity="0.6"/>
<circle cx="517.4" cy="473.1" r="0.9" fill="#1f6f70" opacity="0.6"/>
<circle cx="550.5" cy="359.9" r="0.9" fill="#1f6f70" opacity="0.6"/>
<circle cx="539.0" cy="401.8" r="0.9" fill="#1f6f70" opacity="0.6"/>
<circle cx="501.9" cy="404.1" r="0.9" fill="#1f6f70" opacity="0.6"/>
<circle cx="559.7" cy="438.2" r="0.9" fill="#1f6f70" opacity="0.6"/>
<circle cx="550.0" cy="385.3" r="0.8" fill="#6a1f6a" opacity="0.6"/>
<circle cx="531.9" cy="443.5" r="0.8" fill="#6a1f6a" opacity="0.6"/>
<circle cx="633.5" cy="417.3" r="0.8" fill="#6a1f6a" opacity="0.6"/>
<circle cx="531.1" cy="450.8" r="0.8" fill="#6a1f6a" opacity="0.6"/>
<circle cx="555.7" cy="378.9" r="0.8" fill="#6a1f6a" opacity="0.6"/>
<circle cx="518.4" cy="447.7" r="0.8" fill="#6a1f6a" opacity="0.6"/>
<circle cx="615.0" cy="430.4" r="0.8" fill="#6a1f6a" opacity="0.6"/>
<circle cx="566.6" cy="421.6" r="0.8" fill="#6a1f6a" opacity="0.6"/>
<circle cx="532.1" cy="470.6" r="0.8" fill="#6a1f6a" opacity="0.6"/>
<circle cx="550.1" cy="430.9" r="0.8" fill="#6a1f6a" opacity="0.6"/>
<circle cx="616.3" cy="452.6" r="0.8" fill="#6a1f6a" opacity="0.6"/>
<circle cx="566.5" cy="388.9" r="0.8" fill="#6a1f6a" opacity="0.6"/>
<circle cx="577.9" cy="368.3" r="0.8" fill="#6a1f6a" opacity="0.6"/>
<circle cx="618.4" cy="396.3" r="0.8" fill="#6a1f6a" opacity="0.6"/>
<circle cx="620.8" cy="385.6" r="0.8" fill="#6a1f6a" opacity="0.6"/>
<circle cx="553.4" cy="383.9" r="0.8" fill="#6a1f6a" opacity="0.6"/>
<circle cx="560.5" cy="375.7" r="0.8" fill="#6a1f6a" opacity="0.6"/>
<circle cx="500.4" cy="441.1" r="0.8" fill="#6a1f6a" opacity="0.6"/>
<circle cx="539.9" cy="382.9" r="0.8" fill="#6a1f6a" opacity="0.6"/>
<circle cx="542.9" cy="411.5" r="0.8" fill="#6a1f6a" opacity="0.6"/>
<circle cx="560.8" cy="430.8" r="0.8" fill="#6a1f6a" opacity="0.6"/>
<circle cx="593.6" cy="397.2" r="0.8" fill="#6a1f6a" opacity="0.6"/>
<circle cx="631.9" cy="457.2" r="0.8" fill="#6a1f6a" opacity="0.6"/>
<circle cx="508.1" cy="454.0" r="0.8" fill="#6a1f6a" opacity="0.6"/>
<circle cx="628.6" cy="448.7" r="0.8" fill="#6a1f6a" opacity="0.6"/>
<circle cx="573" cy="380.7" r="2.32" fill="#1aa8a8" opacity="0.4"/><circle cx="573" cy="380.7" r="1.45" fill="#30e0e0"/>
<circle cx="512.1" cy="409.4" r="2.32" fill="#1aa8a8" opacity="0.4"/><circle cx="512.1" cy="409.4" r="1.45" fill="#30e0e0"/>
<circle cx="513.9" cy="413.7" r="2.32" fill="#1aa8a8" opacity="0.4"/><circle cx="513.9" cy="413.7" r="1.45" fill="#30e0e0"/>
<circle cx="550.6" cy="422.4" r="2.32" fill="#1aa8a8" opacity="0.4"/><circle cx="550.6" cy="422.4" r="1.45" fill="#30e0e0"/>
<circle cx="555.8" cy="423" r="2.32" fill="#1aa8a8" opacity="0.4"/><circle cx="555.8" cy="423" r="1.45" fill="#30e0e0"/>
<circle cx="626" cy="406.6" r="2.32" fill="#1aa8a8" opacity="0.4"/><circle cx="626" cy="406.6" r="1.45" fill="#30e0e0"/>
<circle cx="619.1" cy="412.7" r="2.32" fill="#1aa8a8" opacity="0.4"/><circle cx="619.1" cy="412.7" r="1.45" fill="#30e0e0"/>
<circle cx="615.4" cy="420.2" r="2.32" fill="#1aa8a8" opacity="0.4"/><circle cx="615.4" cy="420.2" r="1.45" fill="#30e0e0"/>
<circle cx="609.4" cy="425.2" r="2.32" fill="#1aa8a8" opacity="0.4"/><circle cx="609.4" cy="425.2" r="1.45" fill="#30e0e0"/>
<circle cx="602.2" cy="434.3" r="2.32" fill="#1aa8a8" opacity="0.4"/><circle cx="602.2" cy="434.3" r="1.45" fill="#30e0e0"/>
<circle cx="589.9" cy="447.9" r="2.32" fill="#1aa8a8" opacity="0.4"/><circle cx="589.9" cy="447.9" r="1.45" fill="#30e0e0"/>
<circle cx="522.9" cy="457.6" r="2.32" fill="#1aa8a8" opacity="0.4"/><circle cx="522.9" cy="457.6" r="1.45" fill="#30e0e0"/>
<circle cx="514.7" cy="392.8" r="2.17" fill="#b020b0" opacity="0.4"/><circle cx="514.7" cy="392.8" r="1.38" fill="#f040f0"/>
<circle cx="522.9" cy="394.3" r="2.17" fill="#b020b0" opacity="0.4"/><circle cx="522.9" cy="394.3" r="1.38" fill="#f040f0"/>
<circle cx="529" cy="387.8" r="2.17" fill="#b020b0" opacity="0.4"/><circle cx="529" cy="387.8" r="1.38" fill="#f040f0"/>
<circle cx="566.1" cy="399.3" r="2.17" fill="#b020b0" opacity="0.4"/><circle cx="566.1" cy="399.3" r="1.38" fill="#f040f0"/>
<circle cx="568.7" cy="398.6" r="2.17" fill="#b020b0" opacity="0.4"/><circle cx="568.7" cy="398.6" r="1.38" fill="#f040f0"/>
<circle cx="574.8" cy="395.4" r="2.17" fill="#b020b0" opacity="0.4"/><circle cx="574.8" cy="395.4" r="1.38" fill="#f040f0"/>
<circle cx="576.5" cy="406.6" r="2.17" fill="#b020b0" opacity="0.4"/><circle cx="576.5" cy="406.6" r="1.38" fill="#f040f0"/>
<circle cx="580.2" cy="405.1" r="2.17" fill="#b020b0" opacity="0.4"/><circle cx="580.2" cy="405.1" r="1.38" fill="#f040f0"/>
<circle cx="583.4" cy="402.3" r="2.17" fill="#b020b0" opacity="0.4"/><circle cx="583.4" cy="402.3" r="1.38" fill="#f040f0"/>
<circle cx="589.9" cy="391" r="2.17" fill="#b020b0" opacity="0.4"/><circle cx="589.9" cy="391" r="1.38" fill="#f040f0"/>
<circle cx="593.8" cy="395" r="2.17" fill="#b020b0" opacity="0.4"/><circle cx="593.8" cy="395" r="1.38" fill="#f040f0"/>
<circle cx="591.4" cy="401.4" r="2.17" fill="#b020b0" opacity="0.4"/><circle cx="591.4" cy="401.4" r="1.38" fill="#f040f0"/>
<circle cx="604" cy="394.3" r="2.17" fill="#b020b0" opacity="0.4"/><circle cx="604" cy="394.3" r="1.38" fill="#f040f0"/>
<circle cx="611.1" cy="388.5" r="2.17" fill="#b020b0" opacity="0.4"/><circle cx="611.1" cy="388.5" r="1.38" fill="#f040f0"/>
<circle cx="616.5" cy="395.4" r="2.17" fill="#b020b0" opacity="0.4"/><circle cx="616.5" cy="395.4" r="1.38" fill="#f040f0"/>
<circle cx="618" cy="384.6" r="2.17" fill="#b020b0" opacity="0.4"/><circle cx="618" cy="384.6" r="1.38" fill="#f040f0"/>
<circle cx="624.5" cy="382.4" r="2.17" fill="#b020b0" opacity="0.4"/><circle cx="624.5" cy="382.4" r="1.38" fill="#f040f0"/>
<circle cx="625.6" cy="394.3" r="2.17" fill="#b020b0" opacity="0.4"/><circle cx="625.6" cy="394.3" r="1.38" fill="#f040f0"/>
<circle cx="625.6" cy="392" r="2.17" fill="#b020b0" opacity="0.4"/><circle cx="625.6" cy="392" r="1.38" fill="#f040f0"/>
<circle cx="611.5" cy="407.3" r="2.17" fill="#b020b0" opacity="0.4"/><circle cx="611.5" cy="407.3" r="1.38" fill="#f040f0"/>
<circle cx="616.3" cy="413.7" r="2.17" fill="#b020b0" opacity="0.4"/><circle cx="616.3" cy="413.7" r="1.38" fill="#f040f0"/>
<circle cx="598.6" cy="414.4" r="2.17" fill="#b020b0" opacity="0.4"/><circle cx="598.6" cy="414.4" r="1.38" fill="#f040f0"/>
<circle cx="600.3" cy="422.4" r="2.17" fill="#b020b0" opacity="0.4"/><circle cx="600.3" cy="422.4" r="1.38" fill="#f040f0"/>
<circle cx="607.2" cy="431.7" r="2.17" fill="#b020b0" opacity="0.4"/><circle cx="607.2" cy="431.7" r="1.38" fill="#f040f0"/>
<circle cx="595.3" cy="439.7" r="2.17" fill="#b020b0" opacity="0.4"/><circle cx="595.3" cy="439.7" r="1.38" fill="#f040f0"/>
<circle cx="595.3" cy="437.5" r="2.17" fill="#b020b0" opacity="0.4"/><circle cx="595.3" cy="437.5" r="1.38" fill="#f040f0"/>
<circle cx="594.7" cy="449" r="2.17" fill="#b020b0" opacity="0.4"/><circle cx="594.7" cy="449" r="1.38" fill="#f040f0"/>
<circle cx="577" cy="457" r="2.17" fill="#b020b0" opacity="0.4"/><circle cx="577" cy="457" r="1.38" fill="#f040f0"/>
<circle cx="506.7" cy="426.7" r="2.17" fill="#b020b0" opacity="0.4"/><circle cx="506.7" cy="426.7" r="1.38" fill="#f040f0"/>
<circle cx="571.5" cy="396.5" r="2.17" fill="#c040c0" opacity="0.45"/><circle cx="571.5" cy="396.5" r="1.45" fill="#ffe8ff"/>
<circle cx="621.7" cy="386.7" r="2.17" fill="#c040c0" opacity="0.45"/><circle cx="621.7" cy="386.7" r="1.45" fill="#ffe8ff"/>
<circle cx="616.9" cy="405.1" r="2.17" fill="#c040c0" opacity="0.45"/><circle cx="616.9" cy="405.1" r="1.45" fill="#ffe8ff"/>
<circle cx="574.8" cy="463.4" r="2.17" fill="#c040c0" opacity="0.45"/><circle cx="574.8" cy="463.4" r="1.45" fill="#ffe8ff"/>
<circle cx="590" cy="390" r="2.17" fill="#c040c0" opacity="0.45"/><circle cx="590" cy="390" r="1.45" fill="#ffe8ff"/>
<circle cx="613" cy="418" r="2.17" fill="#c040c0" opacity="0.45"/><circle cx="613" cy="418" r="1.45" fill="#ffe8ff"/>
</svg>
<rect x="624.5" y="472.9" width="17.7" height="3.1" fill="#fff"/>
<text x="275.70" y="346.60" font-size="8.0" text-anchor="middle" fill="#231f20" textLength="52.20" lengthAdjust="spacingAndGlyphs">Control_CNO</text>
<text x="396" y="346.6" font-size="8.0" fill="#231f20">Sugar<tspan font-size="5" dy="-3.2">Gq</tspan><tspan dy="3.2">_CNO</tspan></text>
<text x="549.8" y="346.6" font-size="8.0" fill="#231f20">Fat<tspan font-size="5" dy="-3.2">Gq</tspan><tspan dy="3.2">_CNO</tspan></text>
<text x="311.10" y="488.80" font-size="8.0" text-anchor="start" fill="#2aa6c6" textLength="75.90" lengthAdjust="spacingAndGlyphs">CNO-induced cFos</text>
<text x="451.70" y="488.90" font-size="8.0" text-anchor="start" fill="#d43ad6" textLength="91.60" lengthAdjust="spacingAndGlyphs">Nutrient-induced TRAP</text>
<g><path d="M137.5 109.5 C143 112, 149.3 115.5, 153 119.5 C156.5 123.5, 158.3 128, 157.6 131.5 C156.5 134.5, 152 135.2, 146 134.8 C138 134.3, 130 133.8, 122 132.8 C112 131.6, 102 130.4, 92.4 129.2" fill="none" stroke="#bc9894" stroke-width="3.2" stroke-linecap="round"/>
<path d="M137.5 109.5 C143 112, 149.3 115.5, 153 119.5 C156.5 123.5, 158.3 128, 157.6 131.5 C156.5 134.5, 152 135.2, 146 134.8 C138 134.3, 130 133.8, 122 132.8 C112 131.6, 102 130.4, 92.4 129.2" fill="none" stroke="#ddbdb9" stroke-width="2.2" stroke-linecap="round"/>
<path d="M118 114 C123 115.5, 128 116.5, 132 117.5 C133 119, 132 120.5, 129.5 120.8 C125 121, 121 120.5, 117 119.5Z" fill="#cfa9a4" stroke="#b48f8b" stroke-width="0.4"/>
<path d="M112 115.5 C118 117.5, 124 118.2, 129.5 119.2 C130.8 121.2, 129.4 123.2, 126.2 123.7 C121 124.6, 116 125.2, 111.4 125.1 C109.8 124.6, 110 123.1, 111.6 122.6 C113.4 121.6, 114.2 119.6, 112 115.5Z" fill="#dcb6b1" stroke="#b89390" stroke-width="0.45"/>
<path d="M62 110 C64 113, 66 115.5, 66.5 117.5 C66 119, 63 119.8, 59 120.2 C56 120.5, 55 119.5, 56.5 118.8 C59 118, 61 116.5, 60 113Z" fill="#cfa9a4" stroke="#b48f8b" stroke-width="0.4"/>
<path d="M68 112 C70.5 114, 74 116, 75 118 C75.5 120, 74 121.5, 71 122 C66 122.6, 60 123.2, 55 124 C53 124.3, 52.2 123.5, 53 122.5 C55 121.2, 58 120.6, 62 119.6 C64.5 118.4, 66 115.5, 68 112Z" fill="#dcb6b1" stroke="#b89390" stroke-width="0.45"/>
<clipPath id="mbclip"><path d="M38.6 93.6 C40.5 90, 45 86.3, 51.3 84.3 C55.5 83, 59 82.4, 63 82.4 C69 82.4, 73 82.4, 78 82.4 C88 82.2, 100 82.2, 110 83.3 C118 84.5, 126 90, 131.7 95.8 C136 100, 139.6 105.5, 139.5 110.1 C139.3 111.8, 137.6 112.2, 135.5 112.2 C130 113.8, 126 115.2, 119.9 115.8 C112 116.8, 104 118.2, 96.4 118.7 C90 119.3, 86 119.8, 82.6 119.6 C78.5 119.3, 76.5 118.6, 74.8 117.7 C72.5 116.4, 70.6 115.2, 68.9 113.9 C64.5 111, 60.5 109, 57.2 107.2 C53.5 105.3, 50.2 103.3, 47.4 101.5 C44.3 99.5, 41.3 97.6, 39.5 95.8 C38.9 95.1, 38.5 94.3, 38.6 93.6Z"/></clipPath>
<path d="M38.6 93.6 C40.5 90, 45 86.3, 51.3 84.3 C55.5 83, 59 82.4, 63 82.4 C69 82.4, 73 82.4, 78 82.4 C88 82.2, 100 82.2, 110 83.3 C118 84.5, 126 90, 131.7 95.8 C136 100, 139.6 105.5, 139.5 110.1 C139.3 111.8, 137.6 112.2, 135.5 112.2 C130 113.8, 126 115.2, 119.9 115.8 C112 116.8, 104 118.2, 96.4 118.7 C90 119.3, 86 119.8, 82.6 119.6 C78.5 119.3, 76.5 118.6, 74.8 117.7 C72.5 116.4, 70.6 115.2, 68.9 113.9 C64.5 111, 60.5 109, 57.2 107.2 C53.5 105.3, 50.2 103.3, 47.4 101.5 C44.3 99.5, 41.3 97.6, 39.5 95.8 C38.9 95.1, 38.5 94.3, 38.6 93.6Z" fill="#8a8686" stroke="#807c7c" stroke-width="0.45"/>
<g clip-path="url(#mbclip)"><g filter="url(#bl3)"><path d="M48 96 C55 90, 70 86, 90 86 C108 86, 122 92, 128 100 C131 106, 126 111, 110 112.5 C95 113.5, 80 113, 70 110 C60 107, 50 102, 48 96Z" fill="#9d9999"/></g></g>
<path d="M76 113 C90 114.5, 112 113.5, 134 107.5 C131 112, 124 115, 112 116.8 C100 118.6, 86 119.8, 76 113Z" fill="#8c8888" opacity="0.8"/>
<path d="M112 86 C122 90, 130 98, 133 108" fill="none" stroke="#8a8686" stroke-width="0.5"/>
<path d="M60 107 C66 109, 72 112, 76 116" fill="none" stroke="#8a8686" stroke-width="0.5"/>
<circle cx="39.2" cy="94.2" r="0.9" fill="#d7aaa6"/>
<path d="M60.6 83.5 C60.6 80, 62.8 77.8, 66 77.6 C69.2 77.5, 70.6 79, 70.2 81.4 C69.6 83.3, 65.8 84.2, 60.6 83.5Z" fill="#7a7676"/>
<path d="M50.4 88.5 C51 85.5, 55 83.5, 59.5 83.4 C63.5 83.3, 66 85, 66 87.5 C66 90.5, 62.5 92, 58 92 C53.5 92, 50 91, 50.4 88.5Z" fill="#b98581" stroke="#a97471" stroke-width="0.4"/>
<ellipse cx="52.2" cy="90.6" rx="1.4" ry="0.9" fill="#6a5c5c"/>
<path d="M66.2 88 C66 84.5, 68.5 82.4, 71.5 82.5 C74 82.7, 75 85.5, 74.8 88.5 C74.5 91.5, 72.5 93.8, 70 93.7 C67.8 93.5, 66.3 91, 66.2 88Z" fill="#d9c3c0" stroke="#b99c99" stroke-width="0.45"/>
<path d="M71 89 C77 91.5, 83 94.5, 89 97.5" fill="none" stroke="#e2b646" stroke-width="0.6"/>
<ellipse cx="78.5" cy="92.6" rx="1.1" ry="0.7" fill="#f2c22c"/>
<path d="M92 89.5 C95 88.6, 97.5 89.2, 98.5 90.6 C101.5 91.8, 102.6 95.5, 101.8 99 C100.8 102.6, 97 104.3, 92 104.3 C87.5 104.3, 83 103.8, 81.2 102.4 C80.3 101, 80.8 99, 82.8 98.7 C85.5 98.5, 88.6 98.4, 90.2 97.2 C91.8 95.8, 91.5 92.8, 90.4 91.5 C90.2 90.4, 91 89.8, 92 89.5Z" fill="#f09b8f" stroke="#e08a80" stroke-width="0.4"/>
<path d="M99.5 91 C100.5 87.5, 102 84.5, 104.5 83.4 C108.5 82.4, 113 82.4, 117 82.2" fill="none" stroke="#d2d2d2" stroke-width="0.5"/>
<path d="M59.3 48.7 C52 48.5, 46 50.5, 45.4 56 C45 60, 46.5 63.5, 49.5 66 L51.2 67.3 C54 66.5, 56.5 65.5, 58.3 64.3 L59.3 63.8 L60.3 64.3 C62 65.5, 64.5 66.5, 67.4 67.3 L69.2 66 C72.2 63.5, 73.7 60, 73.3 56 C72.6 50.5, 66.6 48.5, 59.3 48.7Z" fill="#e9c3bf" stroke="#d9a9a4" stroke-width="0.5"/>
<path d="M50 56 C51 52.5, 55 52, 59.3 53.5 C63.6 52, 67.6 52.5, 68.6 56 C68.6 60, 64.5 64, 59.3 64 C54.1 64, 50 60, 50 56Z" fill="#f2dedc" stroke="#e2bcb8" stroke-width="0.4"/>
<path d="M52 54.5 C55 53.5, 57 54, 59.3 55.5 C61.6 54, 63.6 53.5, 66.6 54.5" fill="none" stroke="#d49d98" stroke-width="0.4"/>
<path d="M56.8 39.4 V49 M61.8 39.4 V49" stroke="#b9d3de" stroke-width="1.5"/>
<path d="M56.8 44.5 V49 M61.8 44.5 V49" stroke="#62a898" stroke-width="1.1"/>
<path d="M51 66 L60 83 M67.8 66 L62.8 81" fill="none" stroke="#3a3a3a" stroke-width="0.6" stroke-dasharray="1 1"/>
<g transform="rotate(-31 123.7 76.8)"><path d="M113.5 76.8 H116" stroke="#3a6db8" stroke-width="0.6"/><rect x="116" y="75.7" width="3" height="2.2" fill="#3d74c4"/><rect x="119" y="75.4" width="8" height="2.8" fill="#cde0ec" stroke="#9fb4c4" stroke-width="0.4"/><rect x="127" y="76.3" width="5" height="1.1" fill="#c2ced6"/><rect x="131.5" y="75" width="1" height="3.6" fill="#a2b6c4"/></g></g>
<path d="M14.1 53.9 Q14.1 52.9, 15.1 52.9 H23.0 Q24.0 52.9, 24.0 53.9 V79.5 L21.525 83.0 V85 H16.575 V83.0 L14.1 79.5Z" fill="#d86ac6"/>
<rect x="14.1" y="52.9" width="9.9" height="9.600000000000001" rx="1" fill="#ebb3df"/>
<rect x="14.1" y="60.5" width="9.9" height="1.3" fill="#f3cdea"/>
<rect x="16.575" y="83.0" width="4.949999999999999" height="2.0" fill="#c2379d"/>
<rect x="20.238" y="53.9" width="1.3860000000000001" height="24.6" fill="#ffffff" opacity="0.18"/>
<path d="M27.3 45.4 Q27.3 44.4, 28.3 44.4 H36.1 Q37.1 44.4, 37.1 45.4 V71.5 L34.65 75.0 V75.6 H29.75 V75.0 L27.3 71.5Z" fill="#46ab9f"/>
<rect x="27.3" y="44.4" width="9.8" height="8.399999999999999" rx="1" fill="#9fdad2"/>
<rect x="27.3" y="50.8" width="9.8" height="1.3" fill="#c0e8e2"/>
<rect x="29.75" y="75.0" width="4.899999999999999" height="0.5999999999999943" fill="#2b8b81"/>
<rect x="33.376000000000005" y="45.4" width="1.3720000000000003" height="25.1" fill="#ffffff" opacity="0.18"/>
<path d="M18.2 86.1 L28.7 79.1 L28.7 94.9 L18.2 103Z" fill="#a2a5a8" stroke="#707376" stroke-width="0.6"/>
<path d="M21.05 89.575 L25.849999999999998 86.775 L25.849999999999998 92.375 L21.05 95.17500000000001Z" fill="#8a8d90" stroke="#5f6265" stroke-width="0.5"/>
<path d="M31.3 76.2 L41.8 70.1 L41.8 84.4 L31.3 94.3Z" fill="#a2a5a8" stroke="#707376" stroke-width="0.6"/>
<path d="M34.15 80.05 L38.949999999999996 77.25 L38.949999999999996 82.85 L34.15 85.65Z" fill="#8a8d90" stroke="#5f6265" stroke-width="0.5"/>
<g transform="matrix(1.267 0 0 1.3 -15.2 297.7)"><path d="M137.5 109.5 C143 112, 149.3 115.5, 153 119.5 C156.5 123.5, 158.3 128, 157.6 131.5 C156.5 134.5, 152 135.2, 146 134.8 C138 134.3, 130 133.8, 122 132.8 C112 131.6, 102 130.4, 92.4 129.2" fill="none" stroke="#bc9894" stroke-width="3.2" stroke-linecap="round"/>
<path d="M137.5 109.5 C143 112, 149.3 115.5, 153 119.5 C156.5 123.5, 158.3 128, 157.6 131.5 C156.5 134.5, 152 135.2, 146 134.8 C138 134.3, 130 133.8, 122 132.8 C112 131.6, 102 130.4, 92.4 129.2" fill="none" stroke="#ddbdb9" stroke-width="2.2" stroke-linecap="round"/>
<path d="M118 114 C123 115.5, 128 116.5, 132 117.5 C133 119, 132 120.5, 129.5 120.8 C125 121, 121 120.5, 117 119.5Z" fill="#cfa9a4" stroke="#b48f8b" stroke-width="0.4"/>
<path d="M112 115.5 C118 117.5, 124 118.2, 129.5 119.2 C130.8 121.2, 129.4 123.2, 126.2 123.7 C121 124.6, 116 125.2, 111.4 125.1 C109.8 124.6, 110 123.1, 111.6 122.6 C113.4 121.6, 114.2 119.6, 112 115.5Z" fill="#dcb6b1" stroke="#b89390" stroke-width="0.45"/>
<path d="M62 110 C64 113, 66 115.5, 66.5 117.5 C66 119, 63 119.8, 59 120.2 C56 120.5, 55 119.5, 56.5 118.8 C59 118, 61 116.5, 60 113Z" fill="#cfa9a4" stroke="#b48f8b" stroke-width="0.4"/>
<path d="M68 112 C70.5 114, 74 116, 75 118 C75.5 120, 74 121.5, 71 122 C66 122.6, 60 123.2, 55 124 C53 124.3, 52.2 123.5, 53 122.5 C55 121.2, 58 120.6, 62 119.6 C64.5 118.4, 66 115.5, 68 112Z" fill="#dcb6b1" stroke="#b89390" stroke-width="0.45"/>
<clipPath id="mbclip"><path d="M38.6 93.6 C40.5 90, 45 86.3, 51.3 84.3 C55.5 83, 59 82.4, 63 82.4 C69 82.4, 73 82.4, 78 82.4 C88 82.2, 100 82.2, 110 83.3 C118 84.5, 126 90, 131.7 95.8 C136 100, 139.6 105.5, 139.5 110.1 C139.3 111.8, 137.6 112.2, 135.5 112.2 C130 113.8, 126 115.2, 119.9 115.8 C112 116.8, 104 118.2, 96.4 118.7 C90 119.3, 86 119.8, 82.6 119.6 C78.5 119.3, 76.5 118.6, 74.8 117.7 C72.5 116.4, 70.6 115.2, 68.9 113.9 C64.5 111, 60.5 109, 57.2 107.2 C53.5 105.3, 50.2 103.3, 47.4 101.5 C44.3 99.5, 41.3 97.6, 39.5 95.8 C38.9 95.1, 38.5 94.3, 38.6 93.6Z"/></clipPath>
<path d="M38.6 93.6 C40.5 90, 45 86.3, 51.3 84.3 C55.5 83, 59 82.4, 63 82.4 C69 82.4, 73 82.4, 78 82.4 C88 82.2, 100 82.2, 110 83.3 C118 84.5, 126 90, 131.7 95.8 C136 100, 139.6 105.5, 139.5 110.1 C139.3 111.8, 137.6 112.2, 135.5 112.2 C130 113.8, 126 115.2, 119.9 115.8 C112 116.8, 104 118.2, 96.4 118.7 C90 119.3, 86 119.8, 82.6 119.6 C78.5 119.3, 76.5 118.6, 74.8 117.7 C72.5 116.4, 70.6 115.2, 68.9 113.9 C64.5 111, 60.5 109, 57.2 107.2 C53.5 105.3, 50.2 103.3, 47.4 101.5 C44.3 99.5, 41.3 97.6, 39.5 95.8 C38.9 95.1, 38.5 94.3, 38.6 93.6Z" fill="#8a8686" stroke="#807c7c" stroke-width="0.45"/>
<g clip-path="url(#mbclip)"><g filter="url(#bl3)"><path d="M48 96 C55 90, 70 86, 90 86 C108 86, 122 92, 128 100 C131 106, 126 111, 110 112.5 C95 113.5, 80 113, 70 110 C60 107, 50 102, 48 96Z" fill="#9d9999"/></g></g>
<path d="M76 113 C90 114.5, 112 113.5, 134 107.5 C131 112, 124 115, 112 116.8 C100 118.6, 86 119.8, 76 113Z" fill="#8c8888" opacity="0.8"/>
<path d="M112 86 C122 90, 130 98, 133 108" fill="none" stroke="#8a8686" stroke-width="0.5"/>
<path d="M60 107 C66 109, 72 112, 76 116" fill="none" stroke="#8a8686" stroke-width="0.5"/>
<circle cx="39.2" cy="94.2" r="0.9" fill="#d7aaa6"/>
<path d="M60.6 83.5 C60.6 80, 62.8 77.8, 66 77.6 C69.2 77.5, 70.6 79, 70.2 81.4 C69.6 83.3, 65.8 84.2, 60.6 83.5Z" fill="#7a7676"/>
<path d="M50.4 88.5 C51 85.5, 55 83.5, 59.5 83.4 C63.5 83.3, 66 85, 66 87.5 C66 90.5, 62.5 92, 58 92 C53.5 92, 50 91, 50.4 88.5Z" fill="#b98581" stroke="#a97471" stroke-width="0.4"/>
<ellipse cx="52.2" cy="90.6" rx="1.4" ry="0.9" fill="#6a5c5c"/>
<path d="M66.2 88 C66 84.5, 68.5 82.4, 71.5 82.5 C74 82.7, 75 85.5, 74.8 88.5 C74.5 91.5, 72.5 93.8, 70 93.7 C67.8 93.5, 66.3 91, 66.2 88Z" fill="#d9c3c0" stroke="#b99c99" stroke-width="0.45"/>
<path d="M71 89 C77 91.5, 83 94.5, 89 97.5" fill="none" stroke="#e2b646" stroke-width="0.6"/>
<ellipse cx="78.5" cy="92.6" rx="1.1" ry="0.7" fill="#f2c22c"/>
<path d="M92 89.5 C95 88.6, 97.5 89.2, 98.5 90.6 C101.5 91.8, 102.6 95.5, 101.8 99 C100.8 102.6, 97 104.3, 92 104.3 C87.5 104.3, 83 103.8, 81.2 102.4 C80.3 101, 80.8 99, 82.8 98.7 C85.5 98.5, 88.6 98.4, 90.2 97.2 C91.8 95.8, 91.5 92.8, 90.4 91.5 C90.2 90.4, 91 89.8, 92 89.5Z" fill="#f09b8f" stroke="#e08a80" stroke-width="0.4"/>
<path d="M99.5 91 C100.5 87.5, 102 84.5, 104.5 83.4 C108.5 82.4, 113 82.4, 117 82.2" fill="none" stroke="#d2d2d2" stroke-width="0.5"/>
<path d="M59.3 48.7 C52 48.5, 46 50.5, 45.4 56 C45 60, 46.5 63.5, 49.5 66 L51.2 67.3 C54 66.5, 56.5 65.5, 58.3 64.3 L59.3 63.8 L60.3 64.3 C62 65.5, 64.5 66.5, 67.4 67.3 L69.2 66 C72.2 63.5, 73.7 60, 73.3 56 C72.6 50.5, 66.6 48.5, 59.3 48.7Z" fill="#e9c3bf" stroke="#d9a9a4" stroke-width="0.5"/>
<path d="M50 56 C51 52.5, 55 52, 59.3 53.5 C63.6 52, 67.6 52.5, 68.6 56 C68.6 60, 64.5 64, 59.3 64 C54.1 64, 50 60, 50 56Z" fill="#f2dedc" stroke="#e2bcb8" stroke-width="0.4"/>
<path d="M52 54.5 C55 53.5, 57 54, 59.3 55.5 C61.6 54, 63.6 53.5, 66.6 54.5" fill="none" stroke="#d49d98" stroke-width="0.4"/>
<path d="M56.8 39.4 V49 M61.8 39.4 V49" stroke="#b9d3de" stroke-width="1.5"/>
<path d="M56.8 44.5 V49 M61.8 44.5 V49" stroke="#62a898" stroke-width="1.1"/>
<path d="M51 66 L60 83 M67.8 66 L62.8 81" fill="none" stroke="#3a3a3a" stroke-width="0.6" stroke-dasharray="1 1"/>
<g transform="rotate(-31 123.7 76.8)"><path d="M113.5 76.8 H116" stroke="#3a6db8" stroke-width="0.6"/><rect x="116" y="75.7" width="3" height="2.2" fill="#3d74c4"/><rect x="119" y="75.4" width="8" height="2.8" fill="#cde0ec" stroke="#9fb4c4" stroke-width="0.4"/><rect x="127" y="76.3" width="5" height="1.1" fill="#c2ced6"/><rect x="131.5" y="75" width="1" height="3.6" fill="#a2b6c4"/></g></g>
<path d="M12.0 367.0 Q12.0 366.0, 13.0 366.0 H23.6 Q24.6 366.0, 24.6 367.0 V397.5 L21.45 401.0 V407.2 H15.15 V401.0 L12.0 397.5Z" fill="#8cb9e8"/>
<rect x="12.0" y="366.0" width="12.6" height="15.0" rx="1" fill="#d9dee3"/>
<rect x="12.0" y="379" width="12.6" height="1.3" fill="#e9edf0"/>
<rect x="15.15" y="401.0" width="6.299999999999999" height="6.199999999999989" fill="#3a78d0"/>
<rect x="19.811999999999998" y="367.0" width="1.764" height="29.5" fill="#ffffff" opacity="0.18"/>
<path d="M17.1 408.4 L31 400 L31.6 421.7 L17.7 430.2Z" fill="#a2a5a8" stroke="#707376" stroke-width="0.6"/>
<path d="M21.950000000000003 413.875 L26.75 411.075 L26.75 416.675 L21.950000000000003 419.47499999999997Z" fill="#8a8d90" stroke="#5f6265" stroke-width="0.5"/>
<path d="M33 414 C31 410, 30 407, 31 404 M34 415 C33 411, 33.5 408, 35 406 M33.5 417 C31 416, 30 414, 29.5 411" fill="none" stroke="#c8c8c8" stroke-width="0.4"/>
<g transform="rotate(-58 80 465)"><path d="M89 465 H98" stroke="#555" stroke-width="0.5"/><rect x="86.5" y="464" width="2.8" height="2" fill="#2e8f6e"/><rect x="76" y="462" width="10.5" height="6" fill="#c9eef2" stroke="#9cbcc2" stroke-width="0.4"/><rect x="74.5" y="462" width="1.6" height="6" fill="#4a4f52"/><rect x="64" y="463.7" width="10.5" height="2.6" fill="#e3e8ea" stroke="#a9b2b6" stroke-width="0.4"/><rect x="63" y="461.5" width="1" height="7" fill="#b9c2c6"/></g>
<text x="39.90" y="13.10" font-size="8.6" text-anchor="start" fill="#231f20" textLength="59.10" lengthAdjust="spacingAndGlyphs">dHPC injection</text>
<text x="39.90" y="23.60" font-size="8.6" text-anchor="start" fill="#231f20" textLength="46.80" lengthAdjust="spacingAndGlyphs">AAV5-FLEX-</text>
<text x="39.90" y="33.80" font-size="8.6" text-anchor="start" fill="#231f20" textLength="67.30" lengthAdjust="spacingAndGlyphs">Casp3 or control</text>
<text x="95.80" y="57.80" font-size="8.6" text-anchor="start" fill="#231f20" textLength="42.20" lengthAdjust="spacingAndGlyphs">IG infusion</text>
<text x="95.80" y="67.90" font-size="8.6" text-anchor="start" fill="#231f20" textLength="50.90" lengthAdjust="spacingAndGlyphs">(sugar or fat)</text>
<text y="150.4" font-size="8.6" fill="#231f20"><tspan x="36.7" textLength="13.1" lengthAdjust="spacingAndGlyphs">Fos</tspan><tspan x="50.1" dy="-3.6" font-size="5.2" textLength="14.9" lengthAdjust="spacingAndGlyphs">TRAP</tspan><tspan x="66.6" dy="3.6">×</tspan><tspan x="75.9" textLength="60.6" lengthAdjust="spacingAndGlyphs">tdTomato mice</tspan></text>
<text x="37.80" y="334.70" font-size="8.6" text-anchor="start" fill="#231f20" textLength="59.30" lengthAdjust="spacingAndGlyphs">dHPC injection</text>
<text x="37.80" y="345.00" font-size="8.6" text-anchor="start" fill="#231f20" textLength="91.00" lengthAdjust="spacingAndGlyphs">Gq-DREADD or control</text>
<text x="123.80" y="376.70" font-size="8.6" text-anchor="start" fill="#231f20" textLength="42.20" lengthAdjust="spacingAndGlyphs">IG infusion</text>
<text x="123.80" y="386.80" font-size="8.6" text-anchor="start" fill="#231f20" textLength="51.00" lengthAdjust="spacingAndGlyphs">(sugar or fat)</text>
<text x="42.60" y="494.50" font-size="8.6" text-anchor="start" fill="#231f20" textLength="46.60" lengthAdjust="spacingAndGlyphs">CNO/saline</text>
<text y="506.6" font-size="8.6" fill="#231f20"><tspan x="42.6" textLength="13.1" lengthAdjust="spacingAndGlyphs">Fos</tspan><tspan x="56.0" dy="-3.6" font-size="5.2" textLength="15.0" lengthAdjust="spacingAndGlyphs">TRAP</tspan><tspan x="73.6" dy="3.6">×</tspan><tspan x="79.9" textLength="61.3" lengthAdjust="spacingAndGlyphs">tdTomato mice</tspan></text></svg></body></html>
